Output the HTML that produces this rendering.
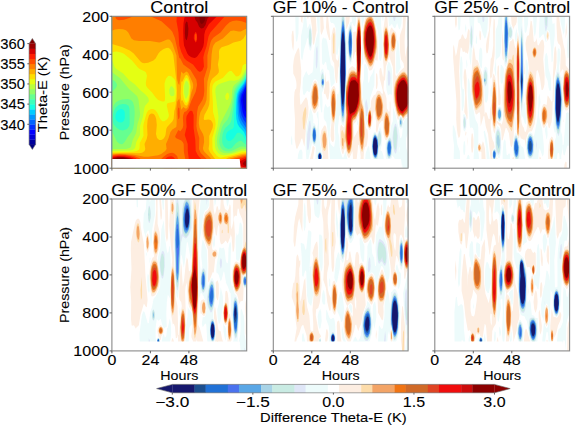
<!DOCTYPE html>
<html><head><meta charset="utf-8"><style>
html,body{margin:0;padding:0;background:#fff;width:575px;height:425px;overflow:hidden}
svg{display:block;font-family:"Liberation Sans",sans-serif}
</style></head><body>
<svg width="575" height="425" viewBox="0 0 575 425" font-family="Liberation Sans, sans-serif">
<style>text{stroke:#000;stroke-width:0.1px;paint-order:stroke}</style>
<rect x="111.9" y="16.3" width="134.8" height="151.9" fill="#000080"/>
<path fill="#00009b" d="M112.9 16.3l133.8 0 0 151.9-1 0-133.8 0 0-151.9 1 0z"/>
<path fill="#0000d6" d="M112.9 16.3l133.8 0 0 151.9-1 0-133.8 0 0-151.9 1 0z"/>
<path fill="#0000ff" d="M112.9 16.3l133.8 0 0 72.1-3.4 7.4-.7 4 1.1 7.1 1 3 2 2.8 0 51.5 0 4-134.8 0 0-151.9 1 0z"/>
<path fill="#0030ff" d="M112.9 16.3l133.8 0 0 68.5-5 10.7-.7 5.3 1.7 11.2 1.5 3.9 2.5 3.1 0 44.2 0 5-134.8 0 0-151.9 1 0z"/>
<path fill="#0064ff" d="M112.9 16.3l133.8 0 0 66.2-1.8 4.2-4.2 7.7-1 6.4 .9 10.1 1.1 4.9 2 4.1 3 4 0 38.3 0 6-134.8 0 0-151.9 1 0z"/>
<path fill="#0098ff" d="M112.9 16.3l133.8 0 0 64.2-2 4.6-5 8.6-1 4.1-.2 4 .6 10.1 .8 5 1.8 4.1 5 7.7 0 31.5 0 8-134.8 0 0-151.9 1 0z"/>
<path fill="#00ccff" d="M112.9 16.3l133.8 0 0 62.5-2 4.5-4.4 6.4-1.5 3.1-1 4-.4 6 .3 11.1 1 5.7 2 4.3 4.5 6.1 1.5 3.7 0 25.4 0 9.1-134.8 0 0-151.9 1 0z"/>
<path fill="#16ffe1" d="M112.9 16.3l133.8 0 0 60.8-3 6.2-4.7 6.4-1.7 4.1-.9 6-.4 13.1 .4 6 1.2 5.1 1.8 3 4.6 5 2.7 6.6 0 19.5 0 10.1-134.8 0 0-151.9 1 0z"/>
<path fill="#3cffba" d="M112.9 16.3l133.8 0 0 59.1-3 6.2-5.5 7.1-2 5.1-1.8 19.1-.6 14.1-1.2 1.7-3 1.5-2.2 1.8-1.1 2-.5 3 .5 2 1.3 1.6 1 .3 2-.2 3-2.2 3-4.9 1-.8 2.1-.1 3 2 3.1 6.3 .9 1.6 0 25.6-134.8 0 0-151.9 1 0zM118.5 109.9l-1.6 1.5-1.2 2.5-.4 3 .3 2 1.3 2.1 2 1.2 2.1 .3 1.7-.6 1.3-1.4 .8-2.6-.1-6-1.2-2-1.5-.8-2.1 .1-1.4 .7z"/>
<path fill="#66ff90" d="M112.9 16.3l133.8 0 0 57.5-3 6.1-5.8 6.8-1.8 3-1.3 5.1-1.6 14-2 12.1-1.5 3-4.1 3.8-1.5 2.3-1.4 4-.6 5 .3 4.1 1.3 3 2 2 2.9 .9 3.2-.9 3.8-4.5 3.1-2.4 2-.5 1 .4 5 4.4 0 22.7-134.8 0 0-151.9 1 0zM119.1 104.8l-3.2 2.4-2 3.7-1.1 5 0 6 1.1 2.8 3 3.3 3 2.1 3.1 .5 4-1.7 2.2-3 .5-3-.2-14.1-1-3-2.5-1.6-3-.3-3.9 .9z"/>
<path fill="#90ff66" d="M112.9 16.3l133.8 0 0 55.7-4 7.7-6 6-1.9 3-1 4.1-1.9 13-2.3 9.5-2 4.2-4 4.8-1.5 2.7-2 7-.9 7 .5 4.1 1.3 3 1.9 2 2.7 1.2 3 .2 3-.4 9.1-4.7 3 .1 3 1.2 0 20.5-23.1 0-111.7 0 0-37.3 5 10.7 3 2.4 2.1 .2 1-.4 2-2.2 2.6-4.6 4-5 1.4-2.9 1-5.2 .7-11-.4-6.1-1.3-4.5-2-2.3-3-1-6 .5-3.1 .9-3 1.8-2.5 3.6-1.5 5.4 0-19.1 4.2-4.4 .9-2-.3-2-1.3-2-1.5-1.2-2-.6 0-63.6 1 0z"/>
<path fill="#baff3c" d="M112.9 16.3l133.8 0 0 53.8-5 8.9-7.1 5.7-1.5 2-.8 3-.7 8.5-1 4.8-2 4.8-8 15.1-3.2 13.1-.5 5 .5 5.1 1.1 3 2 2.5 3.1 1.4 4 .3 4-.6 10.1-3.7 2-.2 3 .7 0 14.7 0 4-134.8 0 0-19.2 14.1 .1 3.6-1 1.3-1 1.8-7.1 3.4-7 1.4-9.1 2.2-7 .4-3-1.6-14.1-1.5-3.7-8.2-7.4-8.9-10.8-6.2-4.3-1.8-1.8 0-55.5 1 0z"/>
<path fill="#e4ff13" d="M112.9 16.3l133.8 0 0 51.5-1.5 1.8-3.5 7-3 2.8-4.1 1.3-5-.1-9.1 2.9-2.5 1.2-1.8 2-.7 2-.2 3 3.2 25.2-.9 9-2.5 10.1-.4 4 .4 7.1 .9 3 2.2 3 2.3 1.5 3.1 .6 4-.4 6-1.2 8.1-2.8 5 .1 0 15.3 0 2-134.8 0 0-17.1 18.1-.6 3-.7 2.1-1.7 1.2-6.1 3.7-7 .1-9.1 2.8-9 1.5-9.1 .7-2 3.5-4 .3-1-.7-3-2.5-3-5.6-4.9-5.1-5.5-6.3-4.7-5.5-6.1-7.5-5-1.3-2-1.5-4.5-1-1.3 0-44.5 1 0zM185.4 81.7l-1.2 4-.1 7.1 1.2 5.5 1 .1 .4-.6 1.7-3.6 .5-7.5-.5-3.5-1.1-2-1-.4-.9 .9zM170.4 86.7l-1.2 3 .3 4.1 .7 1.5 1.1 .9 2-.2 1-1.1 .2-1.1-.2-4.5-2-2.8-1-.2-.9 .4zM227.6 92.6l1.2 1.2 .2 3-.5 2-.9 1.1-1 .1-1.1-1.2-.3-3 1.4-2.6 1-.6z"/>
<path fill="#ffde00" d="M112.9 16.3l133.8 0 0 47.6-2 .2-2 1.4-1.5 7.1-1 2-1.5 1.4-2.1 .4-1-.4-4-4.9-2-.1-2 1.4-4.6 5.3-7.5 3.9-2 2.1-.9 2-.5 5 .8 12.1 .1 9.1 2.2 8 .4 4-.5 4.1-2.8 10 .2 10.1 .7 3 3.3 4.4 2 1.6 2 .7 12.1-2.7 9.1-2.7 5-.3 0 16.1-18.1 0-7-1-4.1 1-27.1 0-78.5 0 0-15.8 21.1-.6 3.9-.7 2.2-1.5 .5-1.5 .2-5 3.7-7.1-.3-9 .4-3.1 2.7-10 1.8-3.4 3-1.5 2 .1 2.1 1 2.3 2.8 2.7 6 2 2.3 2 0 3-1.9 1.4-2.4 .3-2-2.1-9.1 .2-2 1.2-.8 6.1-1.3 1-1 .7-7.9-.7-11.9-1-1.8-3-2.9-2.1-.5-1 .3-2.3 2.7-1.4 5 .6 14.1-.3 3-.6 .6-2 .2-4-1.6-2.3-2.2-3.8-5.4-4.7-4.7-1.3-2-.3-3 1.2-7-1-3.1-1-1-4.9-2.3-2-1.5-6.1-7.2-8-6.9-3-1.3-4.1-.9-3 .2-2 .9 0-36.3 1 0zM185.3 78.7l-1.3 3-.8 4-.3 7.1 1 6 1.1 3 1.3 1.1 1-1 1.1-2.6 1-5.1 .4-8.5-.8-4-1.3-3-1.4-1-1 1z"/>
<path fill="#ffae00" d="M112.9 16.3l133.8 0 0 16.8-3.2 5.3-2.8 2.3-7.2 1.8-4.9 2.6-7 2.2-2.1 2.1-.5 2.1 .1 6-1.2 7.1 1 6-.2 2-1.5 2-4.7 3.9-1.4 2.2-1 3-.5 4 0 12.1-.4 5-1.4 4-3.4 6.2-.7 3.9 .7 1.2 4.1-.6 2 .5 1 .9 1.1 2 .4 2-.4 3.1-3.4 8 0 8.1-.6 5 1.2 3 7 9.1 .6 2-.3 1-1.5 2-2.5 2-60 0-41.2 0 0-14.6 8-.7 19.2 .4 3-.6 2.5-1.6 .7-2-.8-5 2.2-5.1 .8-4-.4-9.1 .5-6 1.5-4.8 2-1.7 2 .3 1.1 .8 1 1.4 1 3 .6 6-.8 9.1 1 4 2.2 2 2 0 2-1.1 1.5-1.9 .8-2 .8-6 .8-2 5.2-5.6 1.3-2.5 .7-8 1-3.2 1.5-10.9 .2-6.1-.7-10.4-2.9-24.8-1.1-3.2-2.1-3.3-2-1.2-2 .1-3 1.4-3.1 2.2-1.7 2-2.8 5.1-2.2 2-5.3 2.2-4 .5-2-.6-1.6-1.1-6.8-8.1-3.9-3-7.8-3.4-10.1-3.1 0-27.7 1 0zM185.2 75.7l-2.9 6-1-.3-.6 12.4 .6 7.1 1-.8 2.4 4.7 1.6 1 1.2-1 1.5-4 1.2-7 .6-7.1-.8-5-1.6-5-1.1-1.5-1-.4-1.1 .9zM241.7 153.9l5-.6 0 14.9-14.1 0-4.6-1-3-1-2.8-2-.3-2 1.7-2 5-2.6 13.1-3.7z"/>
<path fill="#ff7e00" d="M112.9 16.3l133.8 0 0 12.3-6 2.9-2 .1-5.1-1.1-3 .6-7.8 7.3-7.3 4.1-2 2.7-1 3-.9 6.3-.8 14.1-3.4 13.1-.9 18.1-1.3 4-4.8 8.5-1.1 4.6-.5 6 .8 5.1 3.4 6 .9 3 .2 5-1.1 6.1 .3 2 1.3 2 5.1 5 2.2 3.1 .8 3-1.2 3-2.8 2-57.1 0-4.5-.4-5 .3-30.2 .1 0-13.6 5-.7 8.1 0 9 .9 10.1 1.9 4 .1 10.1-1.5 3-1.3 4-2.9 1.4-2-.6-5 2.6-6.1 1.8-6 1.9-2.6 4-2.5 .4-4-.3-14.1 .9-7.4 2-3 2 11.3 2-2.6 2 1.3 1 .1 1-.7 2.1-5 2-10.2 1.7-4.9 .1-3-.5-2-4.3-9.5-1.1-1.3-1-.4-3 2.3-2-2.3-2 13.6-1-1.4-1-3.7-.3-3.3-.5-21.2-4.2-12.2-2.1-3-1-.7-2-.2-6 2.7-2 .3-9.1-1.5-11 .2-5.1-.8-2.6-1.9-3.1-6-2.3-2.2-3-.9-4.1-.3-4 .6-3 1.2 0-14.5 1 0zM242.7 155l4-.5 0 13.7-10.9 0-4.2-1.1-3-.9-2-1.3-1-1.7 .6-2 1.4-1.3 3-1.5 12.1-3.4z"/>
<path fill="#ff4e00" d="M115.9 16.3l17.1 0-3 1.5-6 2-5.1 .4-2-.6-1-1-.4-1.3 0-1 .4 0zM151.1 16.3l93.7 0 1.9 2.5 0 4.3-5-1.8-5.1-.8-4 .4-3 1.4-3.5 3.1-5.6 7-7 5-2 2.6-1 2.3-3.1 13.2 0 12.1-3.5 11.1 .4 12-.5 5.1-1.4 4.1-4.3 6.9-1 5.1-.7 14 .6 4.1 2.3 8-.3 11.1 1.7 4 5.8 5.6 1.7 2.5 .5 2-.6 2-1.6 1.5-2.8 1.5-18.9 0 1-3 .1-3-2-10.1-.2-8-1-2.1-1.4-1.5-5-2.2-1.1-1.3 .1-1.1 3-5.8 2 1.1 2.4-3.2 .6-3.1-.4-7 .3-3 1.1-2.8 2-.8 2.2-2.5 2.9-8.1 4.3-9 1.4-7-.7-5-6-10-7.1-5.3-3-5.8-1-.7-4.6-20.5-2.4-5.7-2.1-2.4-8.8-8-11.1-5 .8 0zM178.3 107.4l1 .6 .4 3.9-.1 5-.6 2-.7 .4-.6-5.4 .1-4 .5-2.5zM170.2 152.9l2.1-.1 2 .7 2.8 2.6 1.3 4.1 0 5-1.3 3-9.9 0-3.2 0-3.4-2-1.5-2 0-2 1-2 3.1-3.3 4-2.8 3-1.2zM113.9 155.1l6-.5 7.1 .3 7 1.2 5.1 1.9 3.2 2.2 1.4 2 .2 1-1 2-3.8 2-4.8 1-22.4 0 0-12.5 2-.6zM244.7 155.9l2-.3 0 12.6-7.7 0-7-2-3.2-2-.3-2 1.1-1.4 3.3-1.7 11.8-3.2z"/>
<path fill="#ff1e00" d="M177.3 16.3l47.5 0-14.5 16.1-1.8 4.2-2 9.9-2.1 6.3-1.1 4.7 .7 9.1-1.6 3.7-2 1.5-1 0-1.8-1.2-4.6-6-6.4-4-2.3-2.4-3-6.1-2-6.6-.8-13.1-2-11.1 .2-4 .2-1 .4 0zM195 34.4l-.2 5 .6 1.6 1-1 .3-2.6-.3-3-1-.9-.4 .9zM190.4 110.8l1-.1 1 .5 1.2 3.7 0 13.1 1.7 12 .4 11.1 2 4 5.4 6.1 .6 2-.9 2-1.1 1-3.1 2-1.2 0-8.8 0 .6-6-1.4-11.1-.1-7-3-9.1 1.9-8-.4-8.1 .4-3 2.8-4.3 1-.8zM113.9 156l5-.6 6.1 .2 6 1 4.4 1.5 3 2.1 1.3 2 .1 1-.9 2-3.9 2-5.8 1-17.3-.3 0-11.2 2-.7zM168.2 156.8l3.1-.6 2 .8 1.7 2.1 .7 2.1 .1 3-.6 2-1.9 1.5-2 .5-5.1-1-1.5-1-1.3-2-.1-2 .9-2 1.9-2.1 2.1-1.3zM245.7 157.1l1-.3 0 11.4-3.8 0-8.3-2.6-2.6-1.4-.4-.8 .2-1.2 .8-.7 2.8-1.3 10.3-3.1z"/>
<path fill="#d60000" d="M185.3 16.3l31.7 0-8.2 8-3.5 6.1-1 4-.3 8.1-.7 4-1.9 4.1-4 5.7-1.4 1.2-1.6 .4-3-.7-2.6-1.7-1.5-1.9-3.3-8.1-.5-5.1-.3-10 .3-7.1 .8-5 .6-2 .4 0zM195.1 32.4l-1.2 3-.1 3 1.6 4.1 1-.8 .7-2.3-.1-5-.6-1.7-1-.7-.3 .4zM113.9 157l4-.7 6.1 .1 6 1.1 4 1.6 2.3 2.1 .7 2-.2 1-2.4 2-2.4 .8-10.2 1.2-5.9-.2-4-.8 0-9.3 2-.9zM246.7 158.1l0 9.6-3-.5-4-1.6-2.5-1.4-.5-1 .8-1 9.2-4.1zM169.2 159.9l2.1-.1 1 .8 .7 1.6-.1 2-.5 1-2.2 .8-2.4-.8-1-2 .7-2 1.7-1.3z"/>
<path fill="#9b0000" d="M194.4 16.3l15.3 0-2.2 2.1-2 6.5-2.1 3-2 .6-1-.5-1.4-1.6-1.6-3.8-2-2.6-1-3.7zM186.3 21.4l1.2 .9 .9 6.1-.3 6-1.1 5-.7 .9-1-2-.4-4.9 .3-9.1 1.1-2.9zM117.9 157.1l5.1 0 5 .9 3.1 1.1 2.7 2.1 .8 2-1.2 2-1.9 1-3.9 1-9.7 .5-3.9-.5-2.1-.8 0-7.3 2-1.2 4-.8zM246.7 159.7l0 6.9-2-.9-1.8-1.5-.1-1 1.7-2 2.2-1.5z"/>
<path fill="#800000" d="M199.4 16.3l6.1 0-.6 4-1 2-1.5 1.5-1 .3-1-1-.8-2.8-.2-4zM116.9 158.1l4.1-.2 4 .4 4 1.3 2.3 1.6 .9 2-.3 1-1.9 1.4-4 1.1-4.3 .5-4.8-.2-3-.6-2-1.2 0-4.5 2-1.7 3-.9zM246.7 162.1l0 2.4-.4-1.3 .4-1.1z"/>
<path fill="#fff" d="M111.9 158.9L239.7 158.9L240.7 168.2L111.9 168.2Z"/>
<path fill="#fdeee2" d="M301.3 16.3l1.6 0-.6 6.9-1-1.5-.3-1.4-.2-4 .5 0zM307.2 16.3l1.7 0-.7 2.8-1-.9 0-1.9zM311.2 16.3l4.5 0 .8 14-2.2 13-1.1 1.9-.5-2.9-.7-15-1.6-10 0-1 .8 0zM320.2 16.3l2.9 0 .8 12-1.7 5-1 1.8-.7-3.8-.3-15zM327.2 16.3l.8 0 2.3 22-.1 1.6-1 .2-2.1-6.8-1.1-6 .5-11 .7 0zM346.2 16.3l3.7 0-.7 6-2 5.5-1 1.8-.8-13.3 .8 0zM358.2 16.3l2 0 .8 9 0 52 1 18.9 2.1 12 1.1 15.6 1 4.7 1 .5 .4 1.2 .5 6-1.1 8-.8 2.8-1-.6-1 3.6-.6 7.2 .6 11-4.4 0 .9-12-1.5-11.5-1 .2-1.4 13.3-.6 2.8-1.5 3.2-.4 4-1.2 0-.2-11-.3-5-.4-1.3-.6 2.3-1.9 4-.5 .8-1-.5-1.4-3.3-1.6-7-2 7-1-.6-1.8-8.4-.5-15 .5-4 .8-1.8 2 2.7 1 .3 .7-3.2 .6-9-.2-16 .9-17.3 2.3-11.6 .9-2 2.8-2.4 2 1.3 2 2.4 0-17.4-1-.3-2 7.4-.2-1 .1-24 .2-2 1.9-1 1 .9 1.3-15.9 .7 0zM358 116.2l-1.8 5.2-2 2.2-.6 1.6 .7 12 3.9-7.4 .6-10.6-.3-3-.3-.5-.2 .5zM366.2 16.3l7 0 2.3 8 1.9 11 .6 12-.3 12-.6 2.1-1-2-1 1.3-2 6.6-.9 2-1 .9-2 .3-2-5.5-2.6-4.7-.8-4-1.2-14-.2-9 2.2-13 1.2-4 .4 0zM385.1 16.3l2.2 0 .8 12 1 5.3 2-5.8 1 0 .8 1.5 3.1 3 .6 4 0 4-1.7 13 .4 21 .8 2.2 4-5.2 4-4-.6-4-2.4-3.7-.4-2.3-.6-5-.4-14 .5-4 2.5-7 .3-11 2.9 0-1.3 25 .5 16.3 1.6-9.3 .4-1.4 1-1.2 0 70.9-2 .2-3 4.2-.6-2.8-1.4-2.3-1.1 .3-1.9 4.1-1-2.5-3.6-15.6-.5-8 .2-22.9-.6-5-2.1-6-1.4-4.1-.5 3.1-2.7 7-.8 13.1-1.1 1.9-.4 6 .1 3 1.4 2.6 1.4 5.3 .3 10 2.3 4 .6-2 0-8 .4-1.5 .4 2.5 .1 20-1 12-2.5 4.6-1 .8-1.1-1.4-1.5-5-.5-12-.1-1-.8-.6-3.1 3.6-1.9 9.3-1.3-3.3 .5-8-2.1-11.2-.8 2.2-1.4 12-.8 1.2-.3 1.8-.5 1-1.2 .7-1.7-3.7 .4-13 1.3-4.3 1.5-1.7 .3-6 1.2-3.1 2-3.4 .9 .3 2-4.2 2-.1 1 .6 2 2.8 .9-.9-.3-2.9-3-12-.4-7 .7-3 1.1-.4 2 9.6 .4-2.2 .2-6-.6-8-.1-29 2.1-16zM334.2 26.9l1 2.5 .5 4.9 .1 24 1.4 2.4 1-.6 1-7.6 0 12.5-1 3.3-.4 7-.6 7.5-1 .4-1-5.3-1-14.6-2-3.5-.7-5.5-.1-18 1.6-8 1.2-1.4zM292.3 31l1-.5 .7 6.8-.1 7-.6 6.6-1-3.6-.7-7 0-5 .7-4.3zM298.3 47.4l1 2.4 2 21.5-.3 11-1.3 11.9 .6 10.5 1-.4 4-6.4 1-.7 1.3 3 .9 7-.2 7-2.3 13-1.3 17-.4 2.6-.9-3.6-1.1-4.6-1 .1-1 3.5-3 6.5-1-.1-1.6-9.4 .3-20-.9-14 0-7 .4-6 .8-2.8 1-.8 .2-3.3-.2-3.4-1-4.2-2-4-.2-7.4 .6-6 1.1-5 3.5-7.9zM348.2 58.8l0 6.7 0-6.7zM352.2 60.1l.3 1.2-.3 1.4 0-2.6zM325.2 71.4l1 10.6 1-.6 1-1.4 1 3.3 .3 8-.9 6.9-.4 1.4-1-.2-2-6-1 .8-.4-1 .4-4.3 .8-2.6 .2-14.9zM376.1 73.2l1 .6 .5 3.5 .1 7-.6 4-1 .9-.2-1.9 .2-14.1zM314.2 80.9l1-.3 1 .4 1.5 3.3 1.1 6 .4 8.9-.5 7-2.5 5.4-1 1.4-.9 .2-1.1-.9-1.5-4.1-1-5-.3-5 .2-5 1-4.9 1.3-5 1.3-2.4zM333.2 86.2l1-.4 1.3 2.5 .8 12.9-.6 14-1.7 12 .3 12-1.1 3-1-.5-1-1.5-.6-4 .1-6 .8-8-1.2-23 .4-7.9 1.1-3 1.4-2.1zM324.2 125.5l1 .1 1 1.7 1.3 8.9 1.2 32-6.5 0-2.2 0 .2-3.1 2-4.9 .7-5-2.2-12-.3-7 1-6 2.8-4.7zM313.2 146l1.3 1.2 .2 1-1.5 9.1-.2 10.9-1.8 0-1.5 0 .2-9 2-8 .5-4 .3-1 .5-.2zM305.3 160.4l.2 7.8-1.2 0 0-4 1-3.8zM373.2 161.5l1 2.7 0 4-1.9 0 .9-6.7z"/>
<path fill="#fdeee2" d="M321.2 16.3l.8 0 .1 4-.2 4-.7 3.2-.3-11.2 .3 0zM347.2 16.3l0 2.5-.4-2.5 .4 0zM358.2 17.1l1.1-.8 .3 1 1.3 11-.2 50 .9 17.9 2.3 13 1.3 20.8 1.1 5.2 .2 3-.3 2.6-1-2.9-1.8 13.3-1.2 4.4-1-2.2-2.7-15.2 .7-23.2-1-.7-2 5.4-3 3.2-.2 2.3-.4 20-1.2 6-2.2 4.7-1-.3-1-2.2-2-8.9-2 7.3-1-.7-1.4-6.9-.3-12 .7-5 1 .4 2 2.4 1-3.8 .6-11-.4-13 .6-14.9 .2-3.5 2-9.4 1-3 2-2.5 1-.3 2 .5 2 2 .1-.8 0-36 1.9-17.2zM366.2 17.2l.7-.9 5.6 0 1.9 5 2.3 12 .8 10-.3 9-4.5 14-1.5 1.9-1 .2-1-.4-4.1-8.7-1.1-5-1.1-13-.1-7 1.2-9 2.2-8.1zM386.1 21l2.5 12.3 .5 6 .7-1 1.3-6.7 2-.8 1 .4 1.3 2.1 .4 2 .2 7-.5 6-1 3-1.2 2-.4 5-.8 1.3-.7-1.3-1.3-5.7-1-1-.6 5.7-1.2 4-1.2 2-1-.4-.3-.6-1.1-5-.2-23 1-7 1.6-6.3zM314.2 21.3l1 7-1 7.4-.2-.4-.8-2.5 0-4.5 1-7zM334.2 29.4l1.2 5.9-.2 15-.7 7-.3 .9-.9-.9-1-6-.2-10 .8-9 .3-1.6 1-1.3zM402.1 38.9l.8 4.4 .2 5-.7 4-.3 .6-.5-.6-.5-1-.3-8 .3-4 1-.4zM354.2 39.4l.7 .9 .1 1-1.8 5 0-3.6 1-3.3zM408.1 50.6l-.1 18.7-.9-4-.3-5 .3-5.9 1-3.8zM336.2 64.2l.8 6.1-.8 7-.8-9 .8-4.1zM297.3 66.2l1-.8 1 .2 .6 3.7 .2 6-.8 7.9-1-1.5-1.5-11.4-.1-3 .6-1.1zM404.1 70.1l1 .4 3 3.2 0 41.3-2 .8-3 3.9-2-4.2-1 .2-1 2.1-1 0-1.4-3.6-1.9-8-1.2-9 .2-11.9 .5-4 1-2 4.8-6.7 2-1.7 2-.8zM314.2 82.1l1-.4 1 .5 1 2 1.2 6.1 .4 4.9-.4 9-1.2 3.8-2 3.2-1 .4-1.5-2.4-1.1-4-.7-6 .8-8.9 1.1-5 1.4-3.2zM333.2 87.6l1-.1 1 2.8 .8 11.9-.7 14-1.1 6.7-1 2.6-1-2.6-.5-3.7-1.1-18 .7-9 .8-2.9 1.1-1.7zM378.1 92.4l1-.1 1 .7 1.4 2.2 2.3 7 .2 3-.5 9-2 5-2.4 3-1 .9-1.2-1.9-1.3-5-1.1-9 .1-6 .9-4 1.2-3 1.4-1.8zM305.3 101.7l1 .2 .5 2.3 .7 9-1.8 11-1.5 14-.9-2.9-1.6-8.1-.5-9 .8-8 3.3-8.5zM370.2 109.2l1.6 4 .1 8-1.2 6-.5 1.2-1 .4-1.4-3.6-.2-8 1-6 .6-1.6 1-.4zM386.1 109.7l2.8 4.5 .8 3 .3 4-.6 13-2.3 4.9-1 .1-1.4-3-1.1-9 .2-11 .9-5 1.4-1.5zM297.3 122.6l1 8.6-1 7.7-.7-5.7 .7-10.6zM324.2 128.8l1 .1 1.3 3.3 .8 7 .1 6-1.1 8 .3 5-.3 10-3.6 0 .5-7 1.3-6-2.5-8-.9-9 .6-5 1.3-3 1.2-1.4zM332.2 129.7l.9 4.5-.9 2.4-.5-3.4 .5-3.5zM355.2 140.9l1 .3 .5 5-.5 8-1 2.5-1-2-.3-4.5 .3-5.2 1-4.1zM311.2 163.6l.5 4.6-.5 0 0-4.6z"/>
<path fill="#fddcaa" d="M368.2 16.6l3.4-.3 1.6 2.5 2.3 9.5 1.3 11 .2 7-.4 5-3.3 12-1.7 3-1.4 .6-1-.5-3.9-8.1-1-4-.8-8-.3-10 .6-8 2.1-9 2.3-2.7zM359.2 17.8l1.3 8.5 .4 6 0 25-.5 21 .8 17.9 .5 5 1.5 5.3 .9 6.7 .7 23-1.6 13-1 3.1-1-1.8-1.5-8.3-.8-8 .6-17-.3-5.2-1 1-2.6 6.2-2.4 2-.5 3 .1 11-1.2 13-1.2 4-1.2 2.1-1-.3-1-2.2-2-10.5-1 1.9-1 6.3-1-.8-1-6.5-.1-9 .3-2 .8-1.4 1.3 2.4 .7 2.9 1-5.1 1-14.8-.7-12 .4-12.9 .3-4.6 1.8-8.4 1.2-4.1 2-2.7 1-.3 2 .2 2 1.9 .3-1 0-37 1.4-14 .3-1.3 1-1.2zM386.1 26.3l1.3 3 1.2 6 .5 10-.6 10-1.3 5-1.1 1.7-1.3-1.7-.9-5-.4-11 .4-10 1.1-6 1.1-2zM393.1 31.8l1 .3 1.1 2.2 .7 6-.8 7.9-1 2.5-1 .8-1 0-1-.9-.4-8.3 .7-8 1.7-2.5zM334.2 32.3l.5 4-.3 15-.2 2.4-1-.4-.4-14 .4-5.3 1-1.7zM408.1 56.8l0 6.3 0-6.3zM402.1 72.1l2-.6 1 .5 3 4 0 37.8-2 1.1-3 3.7-1.9-3.4-1.1 .1-1 1.6-1-.6-1.2-3.1-2.4-11-.6-10.9 .5-6 1-4 3.7-6.4 3-2.8zM315.2 82.7l1 .6 1.2 3 1.1 10.9-.8 8-2.5 4.6-1 .4-1-1.1-.7-1.9-.8-4-.3-5 .2-5 1.2-5.9 1.4-4 1-.6zM333.2 89l1 .1 1 3.5 .6 10.6-.6 11.8-1 6-1 1.8-1-2.9-.5-3.7-.8-14 .7-9 .6-2.6 1-1.6zM378.1 93.7l1-.1 1 .7 1.2 1.9 1.4 5 .6 5-.9 9-1.2 3-2.1 2.7-1 .5-1.2-2.2-1.2-5-.7-7 .6-8 1.4-4 1.1-1.5zM305.3 106.7l.9 2.5 .1 4-2 17.1-1-1.5-.3-1.6-.5-9 .8-5.6 2-5.9zM369.2 110.2l1.2 0 1.2 6 0 5-1.4 6.4-1 .5-.5-.9-1-5 .2-7 1.3-5zM386.1 111.5l1 .8 1.5 2.9 1.1 7-.5 11-.8 3-1.3 2.1-1-.3-1.2-2.8-1-8 .6-11 .6-3.1 1-1.6zM324.2 130.7l1 .3 1 2.6 .7 7.6-.7 7.3-1 1.9-1 .5-1-1.4-.6-2.3-.8-8 .6-5 .8-2.4 1-1.1zM324.2 163l.8 2.2 .2 3-1 0-.4 0 .4-5.2z"/>
<path fill="#f3a466" d="M369.2 16.9l1-.4 1 .3 1.6 2.5 1.1 3 1.8 9 .9 10-.1 6-.7 5-2.6 9.9-1 2.3-1 .9-1 .3-1-.6-4-8.8-1.1-6-.6-8 .1-10 1.3-8 1.3-4.3 1-1.5 2-1.6zM359.2 19.4l1.3 8.9 .3 7 0 26-.7 18 .9 19.9 .5 4 1.7 5.2 .6 4.8 .7 21-1.3 12.3-1 3.4-1-1.7-1.3-7-.6-7 .2-23-.3-1.3-4 8.8-2 1.3-.7 2.2-.1 16-1.3 10-.9 3.1-1 1.6-1-.2-1-2.4-1.9-13.1 1.2-22-.8-11 .2-10 .3-6.5 3.2-13.4 1.8-2.6 3-.1 2 1.7 .6-2-.2-35 1.3-14 .3-1.7 1-1.2zM386.1 27.9l1 1.8 1.1 5.6 .7 10-.5 9-1.2 5-1.1 1.6-1-1.2-.7-3.4-.7-12 .8-12 .6-2.9 1-1.5zM393.1 32.7l1 .3 1 2.2 .5 5.1-.5 6.6-1 2.8-.9 .6-1.5-2-.5-6 .5-7 1.4-2.6zM402.1 73.1l2-.5 1 .6 3 4.4 0 35.1-3 2.4-2 2.6-1-1.5-1-1.3-1 0-1 1.2-1-1.1-1-2.4-2.2-10.4-.6-9 .3-5.9 1.2-5 3-6 3.3-3.2zM315.2 83.8l1 .6 1.1 2.9 .9 10.9-1 6.8-1.7 3.2-1.3 .7-1-1.2-1-3.5-.4-8 1.4-9.2 1-2.6 1-.6zM333.2 90.4l1 .3 .9 3.5 .5 9-.7 12-.7 4.1-1 1.5-1.3-5.6-.7-12 .6-9 .4-2 1-1.8zM378.1 94.9l1-.2 .8 .5 1.2 2 1.7 8-.4 8-1.3 3.9-1.5 2.1-1.5 .8-1-1.5-1.6-9.3 .4-9 .9-3 1.3-2.3zM369.2 110.7l1-.1 .3 .6 .9 6-.7 8-.5 1.7-.6 .3-.4 .3-.6-1.3-.8-5 .3-6 1.1-4.5zM386.1 113l1 .6 1.3 2.6 1.1 7-.4 9-.7 3-1.2 2-1.1-.4-1-2.4-.8-7.2 .4-10 .4-2.2 1-2zM324.2 132.5l1 .5 .5 1.2 .7 5-.2 5.5-1 3-.6 .5-.4 .3-1-1.8-.6-7.5 .3-4 1.3-2.7zM342.2 137.9l1 .6 .1 .7-.1 7.3-1-1.3 0-7.3z"/>
<path fill="#f3a466" d="M369.2 17.8l1-.4 1 .4 1 1.2 1.4 3.3 1.8 9 .8 10 0 5-.7 5-2.3 9.6-1 2.4-1 1-1 .3-1-.7-3.6-7.6-1.1-5-.8-9 .1-9 1.2-8 1.7-5 2.5-2.5zM359.2 20.7l1.2 8.6 .4 9-.1 23-.7 18 .7 22.9 .2 2 1.9 5 .6 3 .8 11 0 10-.8 9-1.1 5-.1 .5-1-1.5-.4-2-1.3-11 .6-21-.2-3-.4-1-.3-.1-3 8.1-2 2.3-1.2 .7-.8 3-.1 15-1.1 10-1.8 4.4-1-.2-1-2.6-1.6-12.6 1.1-21-.8-12 .3-12.9 2.4-12 1.6-4.3 1-1.1 2-.4 2 .7 1 1.1 .9-2-.5-34 1.4-15 .2-1.3 1-1.3zM386.1 29.2l1 1.7 .7 3.4 .9 11-.8 10-.8 3.2-1 1.4-1-1.4-.6-3.2-.7-11 .8-11 .5-2.6 1-1.5zM393.1 33.6l1 .2 .6 1.5 .7 5-.5 6-.8 2.4-.9 .6-1.4-3-.3-5 .4-5 1.2-2.7zM402.1 74l2-.4 1 .7 3 4.6 0 32.7-3 2.7-2 2.5-1-1-1-1.3-1 0-1 .7-2-3.8-1.7-8.2-.8-10 .6-6.9 1.4-5 2.5-4.6 3-2.7zM315.2 84.8l1 .7 1 3.1 .7 9.6-1 6-1.7 3.1-1 .3-1-1.3-.5-2.1-.6-7 1.1-8.5 1-3.1 1-.8zM333.2 91.9l1 .6 .2 .7 .9 8-.1 9-.9 7-.5 1-.6 .9-1-3.6-.7-10.3 .4-9 .3-2.2 1-2.1zM378.1 96.1l1-.4 1.4 1.5 1.1 3 .8 5-.5 8-.8 2.5-1.5 2.5-1.5 .5-1-1.7-1.2-7.8 .2-7.6 .9-3.4 1.1-2.1zM370.2 111.2l.8 4 .1 5-.6 5-.3 1.1-1 .6-1.2-4.7 0-5 1.2-5.9 1-.1zM386.1 114.3l1 .5 1 2 1.1 6.4-.4 9-.7 2.9-.9 1.1-1.1-.5-.5-1.5-1-6 .2-9 1.3-4.9zM324.2 134.7l1 .7 .3 1.8-.3 6.7-1-.3-.4-3.4-.2-3 .6-2.5z"/>
<path fill="#f07414" d="M369.2 18.8l1-.4 1 .4 2.3 4.5 1.6 8 .8 10-.3 7-2.1 10-1.3 3.8-1 1.2-1 .2-1-.6-1-1.8-2.8-6.8-1-6-.5-8 .2-7 1.1-7.4 1.6-4.6 2.4-2.5zM359.2 22l1.2 9.3 .3 11-.1 20-.7 16 .5 13.9-.4 11-.3 2-3.5 10-1 1.6-2 1.2-1 2-.4 4.2 .1 12-.7 8-1 4.4-1 1.8-1-.3-.7-1.9-1.5-12 1-22-.9-11 .1-10.9 2.5-13 1.5-4.2 1-1.2 1-.4 2 .1 2 1.6 1-1.1-.5-34.8 1.3-15 .2-1 1-1.3zM386.1 30.3l1 1.7 .7 3.3 .7 10-.6 9-.8 3.3-1 1.3-1-1.5-.4-2.1-.7-11 .7-10 .4-2.4 1-1.6zM393.1 34.5l1 .3 .2 .5 .9 5-.7 6-.4 1.4-.9 .6-1.1-2.1-.4-4.9 .3-4 1.1-2.8zM402.1 74.8l2-.2 1 .6 3 4.9 0 30.5-5 5.4-1.1-.8-.9-1-2 0-2-4-1.5-8-.6-9 .5-5.9 1.6-6 2-3.8 3-2.7zM315.2 86l1 .8 1 3.8 .3 7.6-.3 3-1 3.1-1 1.5-.9 .4-1.3-3-.4-6 1-7.9 .6-2.4 1-.9zM333.2 93.7l1 .9 .1 .6 .7 9-.7 11-1.1 2.2-1-4.2-.4-9 .4-8 1-2.5zM379.1 96.8l1 .9 1 2.5 1 7-.9 7-2.1 3.3-1-.1-1-2.1-.9-9.1 .9-6.9 1-2 1-.5zM361.2 108.3l1 .8 1 3.3 .7 11.8-.3 13-1.4 8.4-1-1.4-.4-2-1.1-11 .4-13 1.1-9.9zM369.2 111.8l1 0 .1 .4 .7 6-.5 6-.3 1.5-1 .6-.9-3.1-.2-4 1.1-7.4zM386.1 115.8l1 .3 1 2.1 .9 6-.5 8-.4 1.6-1 1.4-1-.8-.4-1.2-.8-5 .1-8 1.1-4.4z"/>
<path fill="#d06a28" d="M369.2 19.7l1-.4 1 .5 2 3.5 1.5 7 .9 10-.3 7-1.9 10-1.2 3.8-1 1.1-1 .3-1-.7-1-1.7-2.6-6.8-.9-5-.6-8 .2-7 .9-6 1.7-5 2.3-2.6zM359.2 23.1l1.1 9.2 .4 12-.2 18-.8 16 .4 13.9-.3 9-1.2 6-2.4 7-1 1.7-2.1 1.3-1.1 2-.4 4 0 15-1.4 9-1 2-1-.3-1-3.1-.9-10.6 1-21-1.1-11.9 .1-8.1 2.3-12.9 1.6-5.1 1-1.3 1-.4 2 0 2 1.5 1-.1-.4-35.6 1.3-15 1.1-2.2zM386.1 31.3l1 1.8 .4 2.2 .8 9-.4 8-1.2 5-.6 .7-1-1.7-.9-10 .5-11 .4-2.2 1-1.8zM393.1 35.5l1.2 .8 .5 5-.6 5-1.1 .9-1-2.9-.1-3 .1-2.8 1-3zM401.1 76.3l2-1 2 .8 3 5.1 0 28.4-5 5.7-1-.3-1-1.2-2-.5-1-1.5-1.6-5.6-1.1-9 .1-6.9 1-6 1.6-4.4 3-3.6zM315.2 87.3l1 .9 .3 1.1 .7 7.7-1 5.3-1.4 1.9-.6 .3-.8-2.3-.3-4 1-8.9 1.1-2zM333.2 96.5l1 1.5 .4 9.2-.4 6.6-1 1.7-1-5.4-.2-5.9 .2-5 1-2.7zM379.1 98l1 1 1 3 .6 5.2-.6 5.4-1 2.6-1 1.1-1-.3-1-2.9-.4-6.9 .5-5 .9-2.5 1-.7zM362.2 111l1 4.2 .4 13-.4 9.7-1.1 5.3-.9-1.1-1-6.3-.3-7.6 .3-8.6 .8-7.4 .2-.9 1-.3zM369.2 112.4l1 .1 .6 3.7-.1 6-.7 3-.8 .5-.2-.5-.8-5 1-7.8zM386.1 117.4l1 .3 1 2.3 .5 4.2-.3 7-1.2 2.8-1-1.1-1-5.6 0-4.6 1-5.3z"/>
<path fill="#d06a28" d="M370.2 20.2l1 .5 1 1.4 1.5 4.2 1.1 7 .5 8-.5 7-1.6 8.9-1 2.8-1 1.3-1 .3-1-.8-1-1.8-2.5-6.7-.9-5-.5-8 .5-8 1.4-6.3 2-3.5 2-1.3zM359.2 24.2l1.1 9.1 .3 12-.2 17-.8 16 .3 14.9-.3 7-1.1 6-2.3 7.1-1 1.7-2.9 2.2-.7 2-.3 4 .1 14-1.2 8.6-1 2.1-1-.4-1-3.3-.7-13 1.1-18-1.1-12 .2-7 2-11.9 1.5-5.1 1-1.3 2-.5 2 .5 2 1.4 .3-6-.6-17 0-13 1.2-15 1.1-2.1zM386.1 32.3l1.2 3 .8 9-.4 8-1 4-.6 .8-1-2-.7-8.8 .4-10 .3-2 1-2zM393.1 36.8l1 1.5-.5 7-.5 .6-.6-3.6 .6-5.5zM403.1 76.1l2 .9 3 5.4 0 26.2-5 5.9-1.2-.3-2.8-1.8-1.8-4.2-1.4-8-.3-7 .8-6.9 1.5-5 2.2-3.3 3-1.9zM315.2 89.3l1 1.3 0 6.1-1.3-4.5 .3-2.9zM379.1 99.5l1 1.1 1.1 5.6-.2 4-.9 3.3-.6 .7-.4 .5-1-.8-.3-2.7 0-9 .3-1.6 1-1.1zM333.2 105.7l.8 3.5-.8 3.5 0-7zM369.2 113.1l1 0 .3 2.1 .2 5-.5 4.2-1 .7-.6-2.9-.1-4 .7-5.1zM361.2 114.2l1-.9 1 7 0 12-1 8.4-1-1-1.1-8.5 .1-7.9 1-9.1zM386.1 120.2l1 .8 1.1 2.2-.1 7-.9 2-1.1-2 0-10z"/>
<path fill="#e04424" d="M370.2 21.2l1 .5 1 1.4 1.4 4.2 1 6 .4 8-.5 7-1.3 7.6-1 3-1 1.4-1 .3-.5-.3-1.5-2.3-2.4-6.7-.8-5-.4-8 .5-7 1.1-4.9 2-3.9 2-1.3zM359.2 25.3l1 9 .3 12-.2 16-.9 16 0 20.9-.9 6-2.3 7.2-2 2.7-2 1.2-.7 1.9-.5 4 .3 11-.6 8-.5 2.9-1 2.4-1-.4-.5-1.9-.9-9 .2-10 .9-11-1.1-13 .1-6 1.9-11.9 1.4-5.1 1-1.4 1-.4 2-.1 1 .4 2 1.8 .2-1.2 .3-6-.7-17 0-12 1.1-15 1.1-2zM386.1 33.3l1.2 3 .6 9-.6 8-1.2 2.8-1.1-2.8-.4-9 .4-8 1.1-3zM402.1 77.2l2-.2 1 .8 3 5.7 0 24.1-5 6.2-1 .2-2.5-1.8-2-4-1.2-6-.5-8 .4-5.9 1.2-5 1.6-3.3 3-2.8zM380.1 104l0 3.2 0-3.2zM369.2 113.8l1 .1 .3 3.3-.3 6-.7 1-.4 0-.4-3 .5-7.4zM361.2 117.3l.6 .9 .4 2 0 16.2-1 .3-.6-6.5 .6-12.9z"/>
<path fill="#f00c0c" d="M370.2 22.1l1 .6 1 1.5 1.1 3.1 1 6 .4 8-.4 6-1.3 8-.8 2.5-1 1.5-1 .4-.5-.4-1.5-2.4-2.2-6.6-.9-5-.3-7 .4-5.5 1-5 2-4.3 2-1.4zM359.2 26.3l1 10 .3 12-1.2 30-.2 20.9-.9 6-2 6.3-2 2.8-2 1.1-1.4 3.8 .2 14-.8 9-1 2.7-1-.5-.9-5.2-.2-13 1.2-11-1.2-14 .4-8 1.7-10.6 1.7-4.3 1.3-1 2-.1 1 .4 2 2.1 .3-1.4 .3-6-.7-29 1.1-15.5 1-1.5zM386.1 34.3l1.1 3 .4 8-.5 7.9-1 1.8-1-2.6-.4-8.1 .4-7.4 1-2.6zM402.1 77.9l2-.1 1 .9 3 5.9 0 22-1 1.9-4.3 4.7-.7 .3-1.8-1.3-2.2-3.4-1.3-5.6-.6-7 .3-6.9 1-5 1.6-3.5 3-2.9zM369.2 115l1-.2 .1 1.4-.1 6-.6 1-.4 .3-.2-1.3 .2-7.2z"/>
<path fill="#f00c0c" d="M370.2 23.1l1 .6 .9 1.6 1.1 2.9 1 5.9 .3 7.2-.6 7-1.3 7-1.4 3-1 .4-.6-.4-1.4-2.5-2-6.3-1-6.2-.1-5 .4-5 1-5 1.7-3.7 1-1.1 1-.4zM359.2 27.3l1 9.9 .2 12.1-.2 11.8-1.3 19.2 0 18.9-.8 5-1.9 6.3-2 2.9-2 1-1.5 2.8-.5 4 .4 9-.4 9.1-1 3.6-1-.8-.3-1.9-.4-12 1.3-12-1.4-15 .3-7 1.5-10.2 1-3.6 1-1.6 3-.7 1 .3 2 2.4 .5-1.5 .3-6-.9-29 1.1-15.4 1-1.6zM386.1 35.6l1 3 .3 6.7-.3 6.2-1 2.3-1-3.3-.2-6.2 .2-5.6 1-3.1zM402.1 78.7l2-.1 1 .9 3 6.3 0 19.7-1 2.1-4 4.7-1 .6-1-.7-3-4.5-1.1-4.5-.6-7 .4-6.9 1.1-5 1.2-2.6 3-3zM370.2 116.2l0 5.2-.6-1.2 .6-4z"/>
<path fill="#cc0c0c" d="M370.2 24.2l1 .7 1 1.7 1 3.2 1 10.5-.5 7-1 6-1.5 4-1 .4-1-.9-.8-1.5-1.6-5-1-5-.4-6 .4-6 1.2-5 1.2-2.5 1-1.3 1-.3zM359.2 28.4l1 10.9 .1 12-1.1 23.3-.9 1.7 .6 16.9-.4 7-1.3 6.5-2 4.7-1 1.2-2.7 1.6-1.3 2.3-1-2.3-1.5-16 .8-7.9 1.2-7 1.5-3.5 1-.5 3 0 2 2.7 .8-1.7-.8-35 1-15.4 1-1.5zM386.1 37.1l.9 7.2-.1 4-.6 3-.2 .6-.1-.6-.9-4.6 0-3.4 1-6.2zM403.1 79.2l1 .2 1 1 3 6.7 0 17.2-1.4 2.9-3.6 4.4-1 .5-2-1.7-2-3.8-1.2-6.4-.2-7 .4-4.6 1-4.1 2.9-4.2 2.1-1.1zM349.2 121.7l1 7.5-1 7.3-1-4-.2-5.3 .2-3.2 1-2.3z"/>
<path fill="#8b0000" d="M369.2 25.7l1-.3 1 .7 1 1.9 1 3.6 .6 6.7-.1 6-.9 7-1.1 4-.5 .9-1 .5-1.2-1.4-1.8-5.5-1-4.7-.4-4.8 .6-8 1.2-4 1.6-2.6zM359.2 29.4l.8 9.9 .3 9-1.1 24.1-1-1.3-.9-22.8 .7-16 .2-1.3 1-1.6zM353.2 80.2l2 .1 3 3.6 .4 11.3-.5 6-1.9 7.3-2 3.2-2 1-2 1.3-.6-1.8-1.4-9-.2-5 .9-8.9 1.3-6.6 1-1.8 2-.7zM403.1 80l1 .3 1 1 2 4 1 3.3 0 14.3-1.3 3.3-3.7 4.6-1 .6-1-.5-1-1.4-2-4.1-1-5.6-.2-6.6 1.4-7.9 2.8-4.3 2-1z"/>
<path fill="#8b0000" d="M369.2 27.1l1-.3 1 .8 1 2.1 1.2 7.6-.4 11-.8 4.4-1.5 2.6-.5 .3-1-1.1-1-2.8-1.9-10.4 0-4 .7-5 1.2-3.7 1-1.5zM359.2 30.5l1 17.8-1 22.3-1-1.7-.8-20.6 .8-16 1-1.8zM354.2 81.1l1 .2 1 .9 1.5 3.1 .7 9.9-1.2 9-2 5.2-2 2.2-2 .6-1-.3-1.6-7.7-.3-6 .7-7.9 1.2-6.3 1-2 3-.9zM402.1 81.1l2 .1 1 1 2 4.3 1 3.9-.2 11.8-.8 2.5-4 5.3-1 .5-1-.4-2.2-3.9-1.1-4-.6-6 .2-4.9 .7-4.4 1.2-2.6 2.8-3.2z"/>
<path fill="#edfbfb" d="M295.3 16.3l3.4 0-.2 17-1.2 7.1-1 1.5-.6-3.6-.4-22zM304.3 16.3l1.9 0 1 11.6 1-.8 1-2.5 1-.7 1.6 6.4 .2 14-.6 5-1.2 1.8-.8-1.8-.7-3-.5-6.7-1-1.8-.9 4.5-2.4 8-1.6 10.1-1-1.8-.3-2.3 0-20 2.3-12 .4-8 .6 0zM317.2 16.3l2.5 0-.2 43 .6 15 .6-3 1.5-2.8 1 .7 1.5 9.1 0 5-.8 5-2 4.9 .7 8-.4 11-1 .3-1-7.3-1.3-16.9-1.5-7-1.2-1.7-1-.4-1 .1-1 1.2-2.5 7.8-.5 2.6-1 1.5-2-1.8-2.9 4.6-1.1-1-.7-5.9 .4-10 3.4-7.3 1.9 4.2 1-.2 1.8-1.7 1.2-.5 .5-1.5 .5-4 .7-15 2.1-13 1.9-7-1.1-15-.1-1 .5 0zM330.2 16.3l14.7 0 1.3 21.5 2-7.3 .5-4.2 1.5-4 1.1 0 .6-1-.2-5 4.4 0-.2 6-.7 3.4-1 .8-2-3.7-.1 .5 .6 11 .1 13-1.2 15-1.4 3-1.5-5-.5-6.5-1-.1-.2 1.6-.2 7 .4 9-1 8.5-.8 14.4-.8 29-.4 2.1-1 .2-1.2-1.3-1.5-4-.3-6.3-1 2.9-1.1 9.4 0 6 1.1 4.5 .5 10.5 1 5 1.5 4.8 1 .9 1.3-3.7 .7-3.8 2.5 9.8 .5 4 .3 4-1.3 0-15 0-.4-3-1.9-7-1-16-2-17-.7-3.1-1.6-1.9-.9-3 .1-7 1.4-6.4 2 3.5 1 .1 1-1.6 1 1.5 .5 12.9-.9 11-.1 10 1.1 3 2.4 2.5 1 0 1.2-7.5-.6-13 1.2-11 1-20 .2-1.8 1 1.4 .7-3.5 .6-33-.3-14.9-1.6 10.9-.4 1.2-1-1.4 0-16.8-.5-9-1.5-4.4-2-1.1-1 .1-1-1.6-.4-5 .4 0zM340.2 17.3l0 7 0-7zM362.2 16.3l2.7 0-2.5 11-.2 1.6-.3-1.6-.7-10 0-1 1 0zM374.2 16.3l6.9 0 .1 11 1.2 12 .2 8-.4 8-1.2 5-.9 1-1-2.7-.7-23.3-.7-5-1.6-4.7-2.3-9.3 .4 0zM383.1 16.3l.6 0-.6 5.1-.6-1.1-.2-4 .8 0zM389.1 16.3l12.8 0-.4 7-1.4 5.1-1 .8-1.2-3.9-.8-2.3-1.5 4.3-.5 .7-1 .1-2-3.9-1 0-1 1.7-1 .1-.9-9.7 .9 0zM408.1 20.5l0 19.7-1-.9-.5-3 0-6 .5-7.7 1-2.1zM323.2 37.3l1 .9 2 .4 1 3.7 3.6 22 .5 1 1.9 1.4 .6 2.6 1 13-.2 1-3.4 3.8-.3-.8-1.7-16-1 0-1-1.1-1-6.9-1-.4-1 2.3-1 1-1.1-1.9-.4-20 .5-3.9 1-2.1zM398.1 39.5l1 6.3 1 17.8 .8 3.7-3.1 6-.7 .8-.9-.8-.1-.8 .1-19.2 .9-12 1-1.8zM362.2 41.8l1.3 19.5-.5 2-1.4 3-.4 3 .3-19 .7-8.5zM356.2 60.7l0 6.6-.5-2 .5-4.6zM389.1 61.9l1 1.7 1.6 4.7 .7 8-.3 18.3-1 .1-1-.8-.5 .3-1.5 1.1-.5-1.1-1-3.9-.4-4 .7-19 1.2-5 1-.4zM365.2 63.9l1 .8 1.5 4.6 .5 13.6 1-.8 1-5.1 2.3-3.7 1.7-5.4 .3 1.4-.1 16-4.4 12.9-.3 9-1 2-1 4-.5 11.6-1-.2-1-5.2-1.1-14.2-1.7-10 .2-10.9 1.2-5 .5-14 .2-1 .7-.4zM393.1 107l2 6.2 3.4 14 1.6 10.6 1 .3 1-3 .6-6.9-.6-.8-1 1.5-1.2-.7-.5-1-.7-5 1-5 .4-.7 1-.3 .6 1 .9 2 .5 4.2 1.9-4.2 1.1-1.2 1 0 1 1.1 0 13.5-2 5.7-.2 3.9 .4 6 1.8 5.8 0 5.2 0 9-5.5 0-.5-4.6-.1 4.6-6.5 0-.4-8.2-1-2.4-2-2.4-.2 3-.8 .3-2.6 3.7-.4 5.8-1-2.5-1.5-9.3-.2-12 1.1-3 3.5-6 1.1-9.5 1.8-4.5 .2-14.2zM399.1 146.2l-.3 5 .4 1 .4-4-.5-2zM310.2 108l1 1.5 1.6 5.7 .6 5-.2 3 1-.1 1.5 2.1 .5 3.3 1 .2 .8-5.5-.2-4-1.3-5 .7-2.1 1.1-.9 1.5 30 2.4 13-.5 6-1.5 1.7-1.9 .3-.8 2-.4 4-2.9 0 .1-3 1.2-8 .4-10-.7-1.6-1 .4-1.5-1.8-.5-2.3-3.6 16.3-.5 10-1.2 0-1.2-20 .3-14 .7-7 3.5-19.2zM358.2 117.6l0 7.3-1-.2-.2-2.5 1.2-4.6zM380.1 126.5l1.6 5.7 .3 5-.3 8-1.3 5 1.7 1.2 1.4 4.8 .8 12-9 0 0-1-.3-5-2.4-5-.4-3.5-.7-1.5 0-11 1-6 1.4-3 1.2-.7 2 3.2 3-8.2zM291.3 135.2l1 3.7 0 6.4-1-.9-.4-2.2 .4-7zM368.2 146.1l1 .7 .2 1.4 1.2 10 .2 6-.1 4-2.5 0-2.7 0-.2-10 .4-5 2.5-7.1zM300.3 149.7l1-.1 .5 .6 .7 2-.2 16-3 0-2.2 0 .1-6 1-8 1.1-3.4 1-1.1zM359.2 151.6l0 6.4-.4-2.8 .4-3.6zM351.2 158.4l.6 9.8-.6 0-.9 0 .9-9.8zM392.1 159.5l.4 8.7-.4 0 0-8.7z"/>
<path fill="#edfbfb" d="M318.2 16.3l.5 0-.5 3.9 0-3.9zM336.2 16.3l0 2.8-.7-2.8 .7 0zM342.2 16.3l2.4 0 1.7 32 .3 25-1.4 22-.3 19.9-.7 8-1 .9-1-.9-1.1-4-1.5-22 .1-57.9 1.2-19 .4-4 .9 0zM362.2 16.3l1.7 0-.7 5.2-1-1.6 0-3.6zM375.1 16.3l1.9 0-.1 5-.8 1.4-1.6-6.4 .6 0zM389.1 16.3l7.6 0-.4 4-1.2 4.1-1 .3-2-5-1-.4-1 1.9-.9-2.9-.1-2zM399.1 16.3l1.8 0-.8 7.1-1 .3-.6-3.4-.4-4 1 0zM305.3 19.3l.3 15-.3 2.6-1 2.7-1 1.3-.1-6.6 1.1-11.7 1-3.3zM350.2 23.9l1 .7 .6 2.7 .8 15-.8 16-.6 3.5-1 1.8-1.4-5.3-1.5-15 1.3-14 1.6-5.4zM310.2 25.7l1.3 4.6 .4 9-.4 7-1.3 3.1-1.4-5.1-.4-9 .4-7 1.4-2.6zM338.2 27.3l.3 7-1.3 15.4-.3-5.4 .3-15 .1-1 .9-1zM317.2 40.2l1 1.7 .4 4.4-.2 26-.2 4.7-2 .3-1-.1-.6-.9-.3-7 .9-19 1-7.9 1-2.2zM381.1 40.2l.5 9.1-.5 4.2-1 1.2-.4-5.4 .2-6 .2-2.5 1-.6zM323.2 43l1.8 2.3 .8 3-.2 4-1.4 5.5-1 .8-.4-3.3-.1-7 .5-5.3zM398.1 46.3l.7 9 .3 13-1 3-1 .4-.1-19.4 .1-2.8 1-3.2zM362.2 49.1l0 6.2 0-6.2zM389.1 66.1l1 1.6 1 3.7 .5 8.9-.5 7.3-2 2.7-1-.2-.5-1.8-.6-8 .5-11 .6-2.9 1-.3zM366.2 67.8l.5 3.5-.1 16 2.3 18.9-1.3 6-.4 7.9-1 .7-1-5.8-1.7-19.8 .7-.4 .5-1.6 .9-5.9 .1-15 .5-4.5zM322.2 70.5l1 .6 .3 1.2 .8 6-.2 7-1.1 4-.8 .9-1.4-1.9-.4-3 .3-10 1.5-4.8zM332.2 71.2l1 .5 .9 7.6-.6 3-1 1-.3 .2-.6-1.2-.3-4 .1-4 .8-3.1zM304.3 84.2l.8 1.1-.8 2.1 0-3.2zM319.2 83.7l0 2 0-2zM371.2 83.3l0 3.3 0-3.3zM363.2 92.9l.3 1.3-.3 .7 0-2zM337.2 102l1 4.2 .2 6-1.2 11.5-.8 3.5-.2 .9-.3-1.9-.1-3 1.4-21.2zM329.2 115l0 9.8-1 1.8-.3-9.4 .3-1.7 1-.5zM310.2 115.9l1.3 3.3 .4 9 .3 .7 .4-2.7 1.6-1.9 1.3 1.9 1.4 6 .3 5.9 1-.7 1.7 13.8 1.3 1.4 .8 1.6-.1 5-1.5 2-1.2 .1-1.7-2.1-.2-4 .4-3-.7-9-.8-1.9-.6 2.9-1.4 1-1-1.1-1-3.8-.6-1.1-.4-4.6-1.1 12.6-1.9 7-1 1.1-.9-9.1 .4-13 1.5-10.7 1-4.6 1-2zM400.1 116.9l1-.2 1.5 3.5 .2 4-1.1 3-.6 .8-1-.6-.7-2.2-.1-5 .8-3.3zM406.1 119.6l.8 .6 .3 2-.2 3-.9 2.8-1-.9-.7-3.9 .7-2.4 1-1.2zM395.1 120.4l1 1 1.7 6.8 .8 7-.1 7-1.9 15-.5 .7-1-1.6-2-6.2-1 .9-.2 3.2-.4 2-1.4 2.8-1 .9-1.2-.7-1.5-5-.1-10 .3-2 2.5-4.8 1-.8 1.1 .6 1.5-9 1.4-5.6 1-2.2zM379.1 130l1-.4 .7 1.6 .9 7-.8 7-.8 2.4-1 1.1-.2 1.5 .2 9 1 1.9 1-2.4 1 1.4 .6 8.1-5.6 0-1 0-.5-7-1.6-2-1.5-4-.8-6 0-5 .8-7 1.5-4 1.1-.8 2 3.1 2-5.5zM404.1 142.7l1.2 13.5 1.8 5.7 1 .3 0 6-2 0-2.2 0-1.1-18 .3-5.7 1-1.8zM336.2 144.5l1-.3 .7 17 .3 3 1.3 4-5.8 0-.1-1-.6-7-1.8-4.1-.1-4.9 .1-.8 1 .2 1 2.4 1 .2 2-8.7zM367.2 154.4l1 1 .1 1.8-.1 11-1.4 0-.3-9 .7-4.8zM400.1 156.6l.8 3.6 .2 8-3 0-1.9 0 .3-7 .6-2.1 1-.3 2-2.2zM344.2 162.5l1 .7 .5 5-.5 0-1.9 0 .9-5.7z"/>
<path fill="#dfe6f7" d="M342.2 16.3l2 0 1.8 31 .1 30-1.6 40.9-.3 2.8-1 1.8-1-.9-.5-1.7-.9-7-1.2-33.9 .9-47 1.1-15 .1-1 .5 0zM375.1 16.3l1 .2-1-.2zM393.1 16.3l2.6 0-.6 4.3-1 .7-1-3 0-2zM350.2 25.1l1 1.1 .4 2.1 .8 14-.7 15-.5 3.1-1 1.8-1.4-5.9-1-13 .9-13 1.5-5.2zM310.2 27.1l1.1 4.2 .3 7-.2 6-1.2 3.6-1-3.6-.5-8 .3-6 1.2-3.2zM317.2 45.8l.6 5.5-.1 8-.5 7.1-1 2.7-.4-4.8 .1-11 .3-5.1 1-2.4zM389.1 70.1l1.1 3.2 .3 5-.3 5-1.1 2.9-1-1.1-.4-6.8 .4-7.3 1-.9zM322.2 71.9l1.1 1.4 .8 8-.2 4-.7 2.2-1 1.3-1.2-3.5-.3-4 .3-5 1.2-4.4zM366.2 98.9l1 3.6 .8 5.7-.8 7.7-1 .4-1.1-11.1 .1-2.2 1-4.1zM401.1 117.1l1 2.2 .5 2.9-.2 2-1.3 3.2-1.2-1.2-.5-4 .4-4 .3-.8 1-.3zM310.2 120.6l.7 5.6-.7 11.3-1.3 9.7-.7 2.7-1-.5-.3-6.2 .3-9 2-12.6 1-1zM395.1 123.4l1 .8 1 4 .8 9-1.1 13-.7 3-1 .2-1-2.4-1.3-6.8-.3-7 1.1-9 1.5-4.8zM314.2 125.1l1.6 3.1 .9 8-.9 6-.6 1.5-1 .9-1.4-2.4-1.1-8 1.1-7 1.4-2.1zM380.1 131.1l1.1 5.1 0 5-.8 4-1.3 1.9-.5 2.1-1.5 13.1 0-1.1-2.9-2.5-1.6-4.5-.6-6 .8-11 1.4-3.5 .9-.6 2 3.1 .8-1 1.2-4 1-.1zM389.1 138l1-.4 1.5 2.6 .5 6-.5 8-1 3-1.5 1.8-1.1-.8-1.2-4-.4-6 .3-5 2.4-5.2zM319.2 151.8l1 0 1.6 2.4 .2 1-.3 4-1.5 1.9-1-.1-1.6-2.8 .1-4 1.5-2.4zM399.1 161.4l1 .9 .4 5.9-2.4 0-1.1 0 .1-2.3 .8-2.7 1.2-1.8zM336.2 166.1l0 2.1 0-2.1z"/>
<path fill="#c9ebe3" d="M342.2 16.3l1.5 0 .5 2.7 1.7 30.3 .1 28-1.6 37.9-.4 4-.8 2.3-1-1-.3-1.3-1-8-1.2-33.9 .8-41 1.7-20zM350.2 26.2l1 1.3 .3 1.8 .7 12-.4 13-.6 4.9-.6 1.1-.4 .8-1.2-4.8-.8-12 .5-12 1.5-6.1zM310.2 28.6l1 4.9 .2 4.8-.2 4.5-1 3.7-1-3.8-.3-6.4 .3-5.4 1-2.3zM322.2 73.4l1 1.2 .8 6.7-.3 4-.5 1.2-1 .8-.8-2-.3-5 .1-2.9 1-4zM389.1 77.4l0 1.3 0-1.3zM400.1 117.9l1-.3 1 2.6 .2 3-.9 3-.3 .5-1-.8-.4-1.7-.2-3 .6-3.3zM314.2 125.7l1.4 2.5 .6 7-.4 6-.6 1.8-1 1-1.4-2.8-.6-6 .6-7 1.4-2.5zM395.1 126l1.1 1.2 1 8-1 13-1 2-1.1-3-.9-9 .5-7 1.4-5.2zM309.2 127l.4 2.2-.4 4 0-6.2zM379.1 132.5l1 0 .7 3.7 .1 4-.6 4-1.2 1.5-.7 2.5-.6 7-.9 3-.8 1.1-1 0-1.4-2.1-.9-3-.5-5 .5-11 1.4-3.9 .9-.7 2 3.2 1 .1 1-4.4zM389.1 138.6l1-.1 1.2 2.7 .6 6-.6 7-1.1 3-1.1 1-1-.7-.7-2.3-.8-7 .5-5 2-4.6zM308.2 140l0 2.5 0-2.5zM319.2 152.3l1 0 1.4 1.9 .2 1-.3 4-1.3 1.7-1-.1-.5-.6-1.1-3 .1-2 1.5-2.9zM399.1 167.7l0 .5 0-.5z"/>
<path fill="#c9ebe3" d="M343.2 16.3l1.1 6 1.2 20 .4 32-1.7 40.3-1 5.5-.9-.9-1.5-14-.9-31.9 .9-39 1.2-15 1.2-3zM350.2 27.2l1 1.5 .4 2.6 .5 12-.7 13-1.2 3.7-1.4-6.7-.4-11 .5-10 1.3-5.1zM310.2 30.2l.9 8.1-1 6-.9-4.8 0-3.2 0-2.5 1-3.6zM322.2 75.8l1.6 4.5 0 4-.6 1.7-1 .1-.7-1.8-.1-4 .8-4.5zM400.1 118.5l1-.2 .9 2.9-.5 4-.4 1-1-1-.2-1-.2-3 .4-2.7zM314.2 126.3l1.4 2.9 .5 6-.5 6-1.4 2.3-1.2-2.3-.6-6 .4-6 .4-1.6 1-1.3zM395.1 129l1 1.6 .2 2.6-1.2 12.1-1-3.3-.2-4.8 .2-3.9 1-4.3zM375.1 134.1l1 1.1 2 4 .6-1 .4-3.9 1-.2 .2 1.1 0 7-1.2 1.8-.9 3.2-.3 5-.6 4-1.2 2.4-1 .2-.9-1.2-1.4-4.4-.5-6 .3-7 1.3-5 1.2-1.1zM389.1 139.1l1 .1 .9 2 .7 6-.7 7-.9 2.4-1 .9-1-.8-.5-1.5-.8-7 .8-6 1.5-3.1zM319.2 152.6l1-.1 1.5 2.7 0 3-1.5 2.5-1.3-.5-1.1-3 .1-2 1.3-2.6z"/>
<path fill="#a8d3e6" d="M343.2 18.1l1 6.2 1.2 19 .4 30-1.6 37.9-.7 6-.3 1.4-.3-.4-.7-.7-.2-1.3-1.1-11-.8-31.9 .7-37 1.4-15.9 1-2.3zM350.2 28.2l1.2 3.1 .5 11-.5 13-1.2 3.7-1.2-5.7-.5-11 .4-9 1.3-5.1zM310.2 33.1l0 5.6 0-5.6zM322.2 78.8l1-.2 .5 1.7 0 3-.5 2.3-1 0-.5-1.3-.1-4 .6-1.5zM400.1 119.2l1 .1 .5 1.9 .1 2-.6 2.3-1-1.3 0-5zM314.2 126.9l1.2 2.3 .6 6-.4 5-.4 1.4-1 1.3-1.3-2.7-.4-5 .5-6 1.2-2.3zM375.1 134.6l1 1 1.7 3.6 .6 4-.9 11-.9 3-.5 .8-.7 .2-1.2-1.1-.8-1.9-1-8 .5-8 1.3-3.9 .9-.7zM389.1 139.7l1 .3 .6 1.2 .8 6-.8 7-.6 1.7-1 1-1-1-.5-1.7-.6-6 .5-5 1.6-3.5zM319.2 152.8l1-.1 1.4 2.5 0 3-1.4 2.3-1.1-.3-1.1-3 .1-2 1.1-2.4z"/>
<path fill="#5aa7e6" d="M343.2 20.1l1 5.7 1.1 18.5 .4 29-1.5 35.6-1 7.9-1-1.1-1.1-10.5-.9-30.9 .7-36 1.3-15.7 1-2.5zM350.2 29.1l1.1 3.2 .5 10-.5 12-1.1 3.6-1.2-5.6-.4-10 .5-9 1.1-4.2zM323.2 79.1l.3 5.2-.3 .9-1-.2-.5-1.7 .2-3 .3-.9 1-.3zM400.1 120.3l1 .4 .1 .5-.1 3.5-1-1.3 0-3.1zM314.2 127.5l1.2 2.7 .4 5-.4 5-1.2 2.2-1.1-2.2-.4-5 .3-5 1.2-2.7zM375.1 135l1 1.1 1.4 3.1 .5 4-.7 11-1.2 3.3-1 .3-.9-1.1-1.1-3.5-.6-7 .6-7 1.1-3.4 .9-.8zM389.1 140.4l1.2 .8 1 6-.6 6-.6 2-1 1-1.2-2-.7-6 .6-5 1.3-2.8zM319.2 153l1-.1 1.3 2.3 0 3-1.3 2.1-1-.1-1.1-3 .4-3 .7-1.2z"/>
<path fill="#5aa7e6" d="M343.2 21.9l1 6 .8 13.4 .6 32-1.4 32.5-1 9.1-1-1.1-1-10.3-.9-29.2 .7-35 1.2-14.6 1-2.8zM350.2 30.1l1 2.3 .4 9.9-.3 11-1.1 3.6-1-4.8-.4-9.8 .3-8 1.1-4.2zM322.2 80l1-.4 .2 .7-.2 4.4-1.1-.4-.2-2 .3-2.3zM401.1 123.1l0 .2 0-.2zM314.2 128.1l1.1 2.1 .4 5-.5 5-1 1.6-1-1.9-.4-4.7 .4-5 1-2.1zM375.1 135.4l1 1.1 1.4 3.7 .4 4-.6 9-1.2 3.8-1 .4-.9-1.2-1-3-.6-7 .6-7 1-3 .9-.8zM389.1 141l1 .5 .3 .7 .7 6-.9 6-1.1 1.3-1.2-2.3-.4-5 .5-5 1.1-2.2zM320.2 153.1l1.3 3.1-.2 2-1.1 1.9-1-.1-.5-.8-.5-3 1-2.9 1-.2z"/>
<path fill="#4a72ee" d="M343.2 23.8l1 6.2 .7 11.3 .6 32-1.3 29.3-1 10.3-1-1-1-11.2-.8-27.4 .7-33 1.1-13.6 1-2.9zM350.2 31.1l1 2.7 .3 8.5-.3 10.4-1 3-1-5.2-.3-8.2 .3-6.9 1-4.3zM323.2 80.1l.2 3.2-.4 1-.8-.4-.2-1.6 .2-1.6 1-.6zM314.2 128.7l1 2.2 .3 4.3-.3 4.1-1 1.8-1-2.1-.2-3.8 .2-4.4 1-2.1zM375.1 135.8l1.6 2.4 .8 3 .3 3-.6 9-1.1 3.3-1 .5-.9-1.2-.8-2.6-.7-7 .7-7 .8-2.5 .9-.9zM389.1 141.8l1 .5 .7 4.9-.6 6-1.1 1.5-1-1.5-.4-5 .4-4.6 1-1.8zM319.2 153.5l1-.2 1.1 1.9 .1 2-.6 2-.6 .7-1-.1-.7-1.6 0-3 .7-1.7z"/>
<path fill="#2171d6" d="M343.2 25.7l1 6.4 .6 10.2 .6 31-1.2 26.4-1 11.2-1-1-.8-9.7-.9-26.9 .7-32 1-12.6 1-3zM350.2 32.3l1 3.3 .2 6.7-.2 8.5-1 3.7-1-6-.2-6.2 .2-5.2 1-4.8zM323.2 81l0 2.5-.7-.2-.3-1.5 1-.8zM314.2 129.4l1 2.6 .2 3.2-.2 3-1 2.1-1-2.7-.1-3.4 .1-2.2 1-2.6zM374.2 137.1l.9-.9 1 1.2 1.5 5.8-.4 9-1.3 4-.8 .4-.9-1.3-1.3-6.1 .1-7 1.2-5.1zM389.1 142.7l1 .7 .4 3.8-.4 5.1-1 1.5-1-1.8-.2-3.8 .2-3.3 1-2.2zM319.2 153.7l1-.2 .9 1.7 .2 2-.7 2-.4 .5-1-.1-.6-1.4 0-3 .6-1.5z"/>
<path fill="#2171d6" d="M343.2 27.5l1 6.7 .5 8.1 .5 30-1 24.9-1 11.7-1-1-.6-7.7-1-26.9 .6-30.5 1-12.1 1-3.2zM350.2 33.6l1 4.6 0 4.1 0 5.1-1 5.4-1.1-10.5 1.1-8.7zM314.2 130.3l1 3.9 0 1.8-.9 2.2-.7-4 .6-3.9zM375.1 136.6l1.5 2.6 .9 6-.6 8-.8 2.4-1 .6-.9-1.3-.5-1.7-.8-7 .8-7 .5-1.6 .9-1zM389.1 144.3l1 1.1 .1 1.8-.1 2.2-.9 2.8-1-4 .9-3.9zM319.2 153.9l1-.2 .8 1.5 .2 2-.7 2-.3 .4-1-.2-.5-1.2-.1-2 .6-2.3z"/>
<path fill="#1c4f8f" d="M343.2 29.4l1 7 .4 6.9 .5 31-.9 20.6-1 11.9-.6-.6-.4-.5-1-13.6-.5-20.8 .5-26 1-12.7 1-3.2zM350.2 35.5l.4 4.8-.4 7.3-.3-6.3 .3-5.8zM375.1 137l1 1.3 .7 1.9 .6 6-.7 7-.6 1.9-1 .6-1.3-2.5-.8-7 .8-7 .4-1.1 .9-1.1zM319.2 154.1l1-.2 .9 2.3-.9 3.2-1-.2-.4-1-.1-2 .5-2.1z"/>
<path fill="#17186e" d="M343.2 31.3l1.3 13 .5 30-.8 18.5-1 11.9-.4-.5-.6-.7-1-14.4-.4-17.8 .6-26 .8-10.7 1-3.3zM375.1 137.5l1.5 2.7 .7 6-.7 7-.5 1.4-1 .7-.9-1.4-.5-1.7-.6-6 .9-7 1.1-1.7zM320.2 154.1l.7 2.1-.7 3-1-.3-.4-2.7 .4-1.9 1-.2z"/>
<path fill="#17186e" d="M343.2 33.3l1.2 11 .5 29-.7 17.5-1.1 11.4-.9-1.1-.2-2.9-1.1-25.9 .6-27 .7-8.8 1-3.2zM375.1 137.9l1.3 2.3 .7 5-.1 5-.9 4-1 .7-.9-1.4-.9-5.3 .4-7 .5-2.2 .9-1.1zM319.2 154.6l1-.3 .4 .9-.4 3.7-1-.2-.1-.5 .1-3.6z"/>
<path fill="#fff" d="M273.3 158.9L401.1 158.9L402.1 168.2L273.3 168.2Z"/>
<path fill="#fdeee2" d="M454.8 16.3l2.2 0-.2 7.9-.9 4.1-.8-4-.3-8zM489.7 16.3l1.7 0-.1 4-1.3 9-1.4 19-.9 4.6-.6 .4-.4 .3-.6-2.3-.2-5 .8-5.8 2.6-11.2 .1-13 .3 0zM511.7 16.3l5.3 0-.3 5.7-1 3-1 .8-.5 1.5-.5 2.9-.3-1.9-.7-.7-1.1-3.3-.6-8 .7 0zM522.7 16.3l.3 0 0 4-.3 4.1 0-8.1zM556.6 16.3l2.5 0 .9 8 3.6 21 1.1 4 .9 8.1 .1 7.9 3 4 .9 2 0 35.6-.5 1.3-1.5 2-2 .3-1-1.9-.5-2.4-1.2-12-.1-10.9 .8-13-1-1-1 1-1 2.7-.4-4.7 .7-19-.8-4-2-2-.9-3-.7-15 .1-9zM493.7 18.2l1 1.5 .2 3.6-.2 31-2.5 22-1.2 2-.3 .6-.6-1.6-.2-4 .8-14.2 1.1-1.8 1.5-12-.2-16 .6-11.1zM530.7 20.5l1 .8 .8 5 1.2 14.9 1 1 1.4-1.9 .5-2.3 1 7 1 .4 2-4.2 1-1.2 1-.4 1 1.4 .7 5.3-1.1 13 1.4 16-.1 9-.9 3.7-1 2.1-1 0-1.5-10.8-1.4-6-1.1-3.4-1 1-.8 8.4 1.2 11 0 5.9-1.5 22-.9 6-2.7 7-2.2 .3-1 .7-1.5 3-1.3 5-.2 7.3-1-8.1-1 .4-3-1.6-1-4-.3 3-.7 1.5-1.3-2.5-.8-5-.1-15-.8-7.1-1.8 17.1-.2 10.1-1 7.9-1 3-1-1.2-.4-1.8-1.4-11-2.2-5-1-.5-3 12.4-1 .3-.5-10.2-1.1-4-.9-1-2-2-.3-2 .8-.2 1 1.6 2.1 .6 .9 1.6 1.2-4.6 .2-6-.6-16 .4-8.9 2-19 1.8-4.3 1.3-6.7 .7-11.5 1-6 2.3-1.5 .7-2 .8 1 1.2 6.6 1 2.6 1-3.3 1-13.3 1.3 6.4 .6 10 .2 59.9 1.9 15 1 3 1 1.3 1 4 1 .6 1-3.1 .3-4.8-1.8-29 1-9.9 2.7-17-1-10-2-9-.4-6 1.2-6.2 1-1.6 1 0 .4-1.2 1.6-13.8zM515.6 68.3l.1 12-.1-12zM566.6 22.1l.2 10.2-1.2 6.8 0-9.2 1-7.8zM468.7 28.4l1 2.5 0 10.5-1 8.7-.9 4.1-1-1.8-1 .9-1-1.7-2 .4-1-3.8-1-.9-.8 6-.9 18 1.1 24.9 .3 35-.5 5-1.2 2.1-1-3.1-.9-6-.7-10 .3-17-3.4-44.9 0-10 .7-2.7 2 11.6 1-3.5 2-12.5 2-1.7 1-3.5 1-.8 1.7 4.1 1.3 .9 1-2 1-6.2 .9-2.6zM479.7 30.2l1 1.5 .5 4.6-.5 3.8-.9 .2-.6-5 .5-5.1zM502.7 29.9l1 18.5 0 12.3-1-1.4-.7-6 0-13 .7-10.4zM547.6 30.7l1.4 2.6 .2 3-.2 2-1.4 2.6-1.1-2.6-.2-2 .3-3 1-2.6zM473.7 44l2 15.4 2 1.1 4.7 13.8 1.1 13 1.2 27.2 1-2.8 1 1.2 2 6.3 1-.1 .4-9.9 1.6-6.6 .7-24.3 .8-4 .5-.9 1.5 3.9 1.1 7 .8 15.9-.5 24-1.9 9.6-1.2-2.6-1.5-8-.3-4.3-.9 2.3-.1 5 1 10.3 1 3.8 1 1.7 1 5.2-1.6 2-.8 2-.2 6 1.2 3 1.4 .7 1.7-2.7 .3-2 1.5 4 .3 2 0 6-7.4 0-.4-7.9-2.6-26.1-2.4-8-1.4-10-.6-.5-3 10.8-.5-12.3-.5-1.9-1 .2-2 1.9-1-.3-1.5-4.9-2.7-15-.5-7.9 1.8-36 .8-3 .1-3.3zM555.6 46l.9 6.3 0 10-.6 6-2 11-.3 22.2-.9 .7-.3 12-.8 7.9-2 6.2-1-.7-1-5.3-3 5.1-1 .6-1-1.8-1.4-6-.4-4 .2-5 1.2-5 1.4-2.1 1-.2 2 1.1 1-9.4 1 .9 3 5.2 .9-.5 .5-14.9-.1-11 1.1-21 .6-6.6 1-1.7zM523.7 59.3l1 9.2 0 7.3-.2-1.5-.8-.9 0-14.1zM497.7 65.9l1-.6 .3 2 .2 17 1.4 11.9-.1 8-.8 1.1-1.2-.1-.2-1-.2-16.9-.9-14 .5-7.4zM464.8 68.6l1 1.2 .9 8.5-.2 14.9 1.1 19-.1 6-.8 2-.4-4-2-4 0-1 .9-16-1.6-17.9 .3-5 .9-3.7zM563.6 118.7l0 3.7-.5-1.2 .5-2.5zM465.8 131.3l.6 .9 0 1-.6 2.9-.6-1.9 .6-2.9zM471.7 133.4l1 0 .8 5.8 0 7-.8 6.3-1 0-.6-5.3 0-8 .6-5.8zM467.8 136.6l0 9.6-.4-5 .4-4.6zM551.6 136.4l1 .8 .8 2 .6 10-.9 10-1.9 9-.6 0-1.6 0-1-7-.1-8 .8-9 1.1-5 1.8-2.8zM482.7 141.2l1 1.7 1.2 5.3 1.3 20-4.5 0-.1-3-.2-13-.7-.6-1 .6-1-.4-.8-1.6-.4-3 1.2-3.7 1-.3 1.6 1 .4 1.7 1-4.7zM513.7 157l1.7 5.2 .3 6-2 0-2.3 0 .8-9 .5-1.8 1-.4zM539.6 156.5l1 1 2 8.1 2-4.1 1 .6 .7 3.1 .1 3-7.6 0 .8-11.7zM527.7 159.1l1 1.1 1 .3 2-.2 .5 .9 .2 7-.7 0-4.8 0 0-8 .3-1 .5-.1zM565.6 161.5l1 .7 .3 6-1.3 0-1.5 0 .4-4 1.1-2.7zM464.8 163.3l.4 4.9-.4 0-.8 0 .8-4.9z"/>
<path fill="#fdeee2" d="M558.6 24.3l1 3.6 .9 7.4-.1 3-.8 1.6-1-.5-.7-5.1 .1-7 .6-3zM547.6 31.4l1.2 3.9-.4 3-.8 1.7-1-3.7 .1-2 .9-2.9zM517.7 35.6l1 3 .4 3.7 .5 17 0 67.9-.3 8-.4 2-.2 .4-.2-.4-.8-.8-.8-4.2-.2-24.2-1-9.8 .5-20.9-.5-21 2-20.7zM467.8 41.2l0 3.8 0-3.8zM541.6 44l.7 1.3 .3 3-.6 16 1.2 12-.6 4.3-.2-2.3-.7-5-2.1-1.8-1.5-8.2 1.4-14 1.1-4.3 1-1zM534.7 46.2l1.3 1.1 1.2 5-.2 2-1.4 5 .4 5-1.3 14 .7 16.9-.4 16-.7 8-1 4-2.1 6-.5 .8-1.2 .2-.8-.5-.5-1.5-1.2-9-1.1-15 0-12 1.2-9.9 2.5-13-.6-19 1.7-2.2 2 0 .1-.8 1.9-1.1zM510.7 47l1 .5 1-1.1 1 1.2 1.4 5.7 .5 4-.9 11 .9 23-.2 15.9-2.7 29.2-1 3.7-.6-1.9-1.4-7.3-5.3-9.7-1.2-21 .2-8 1.7-19.9 3-11 .6-8.4 1-4.9 1-1zM555.6 54.2l0 8.7-1-.4 .2-4.2 .8-4.1zM562.6 54.2l0 6.6-.3-2.5 .3-4.1zM473.7 63l2 1 1-.5 1 .1 3.7 10.7 1 5 .8 12-.3 16.9-.2 1.4-1 1-.6-1.4-1.3 0-3.1 2.7-1-.2-1.2-3.5-2.4-13-.5-12.9 .7-10 1.4-9.3zM565.6 68.6l1-.1 1 .9 2 4.6 0 30.7-1.5 3.5-1.4 1-1.1-.4-1.3-3.6-1.4-13.9 .5-14 .9-6 1.3-2.7zM456.8 70.7l1 3.8 .3 6.8 .2 6-.5 2.6-1-1.1-.4-4.5 .4-13.6zM464.8 74.8l1 1.5 0 9.6-1-1.7 0-9.4zM493.7 76.8l1 1 1.2 7.5 .7 12.9-.3 24-1.6 8.7-1-1.4-.4-2.3-1.1-7-.4-7 .7-25.9 1.2-10.5zM548.6 103.1l1 2.3 .5 3.8-.5 8.4-1 1.7-1-.4-.5 2.3-2.5 5-1 .3-1-1.9-1.2-8.4 .8-8 1.4-2.8 1-.3 2 2.3 1 .2 1-4.5zM458.8 105.4l.9 14.8-.2 5-.8 4-.9-4.8-.3-5.2 1.3-13.8zM465.8 105.6l.4 4.6-.4 3.2-.4-2.2 .4-5.6zM551.6 137.9l1 .9 .5 1.4 .6 8-.6 9-.5 2.3-1 1.8-1.7-2.1-.8-8 1-10 1.5-3.3zM490.7 139.1l2.1 8.1 0 2-.9 2 0 7 1.8 2.9 1 .4 2-2.6 .5 6.3 0 3-5.5 0-.3-10-1.4-15 .2-3 .5-1.1zM479.7 143.8l1.6 2.4 .1 2-.4 2-1.3 1.4-1-.5-.9-2.9 .4-3 .5-1 1-.4zM483.7 150.5l1 6.9 .4 10.8-.4 0-1.4 0-.3-13 .7-4.7zM513.7 160.4l1 1.8 .4 6-1.4 0-1.3 0 .3-4 1-3.8zM529.7 161.6l1-.2 .8 .8 .3 6-1.1 0-2.6 0 .6-5.9 1-.7z"/>
<path fill="#fddcaa" d="M547.6 32.1l.8 3.2-.8 4-.6-3 .6-4.2zM517.7 38.3l1 2.7 .2 2.3 .6 16-.1 63.9-.8 13-.9-.6-.6-4.4-.8-69.9 1.4-23zM534.7 47l1 .7 .6 1.6 .3 4-.9 3.7-1 1.1-1-.3-1.4-3.5-.1-2 1-4 1.5-1.3zM540.6 53.2l0 7.3 0-7.3zM513.7 54.4l1.6 35.9-.1 15.9-2.5 21.4-1 3.9-2.5-4.3-3.1-6-1.5-5-.8-13 .3-13.9 1.3-16 3.3-13.3 1-1 2 1 1-4.4 1-1.2zM475.7 66.3l1-.8 1 .1 1 2 2.8 9.7 1.1 9 .1 9.9-.5 7-.7 2-3.8 4-1 .9-1-.2-1-2.5-2.2-12.2-.5-5.9 .1-9 .9-9 .7-3.8 1-1.1 1-.1zM565.6 70.2l1-.3 1 .8 2 5.2 0 27.1-2 4.8-1 .4-1-.7-.9-2.3-1.5-12 .3-13.9 .8-6 1.3-3.1zM530.7 71.2l2.4 4.1 .7 3 1.1 19.9-.9 19-1.1 5-2.2 5.6-1 .3-1-1.6-1-4.3-1.3-13-.4-10 .4-7.9 .9-8 2.4-10.8 1-1.3zM493.7 79.5l1 .5 .7 4.3 1 13.9-.2 21-1.5 9.5-1-1.3-.4-2.2-1.3-13 .6-20 1.1-12.7zM544.6 106.2l1.1 1 1.4 3 .4 5-.5 4-.9 3-1.5 2.9-.6 .1-.4 0-1.2-3-.6-8 .8-5.7 1-2 1-.3zM551.6 138.9l1 1.1 .4 1.2 .5 7-.4 8-.5 2.1-1 1.8-1.5-2.9-.4-7 .5-8 1.4-3.3zM478.7 144.8l1-.3 1.1 1.7 .2 2-.6 2-.7 .7-1-.4-.4-1.3-.2-2 .6-2.4zM493.7 165.6l.5 2.6-.5 0-.8 0 .8-2.6zM513.7 166.1l.3 2.1-.3 0 0-2.1zM530.7 165.7l.1 2.5-1.1 0 0-1.1 1-1.4z"/>
<path fill="#f3a466" d="M547.6 33.2l0 5.2 0-5.2zM517.7 40.7l1.1 4.6 .6 16-.1 58.9-.8 14-.8 .5-.4-2.5-.4-29-.2-45.9 1-16.6zM534.7 47.7l1.3 1.6 .4 3-.4 3-1.3 2-1.3-1-.7-4 .5-3 1.5-1.6zM509.7 62.8l1 .3 2 1.9 .5 2.3 1.3 14 .6 12.9-.2 11-1.1 11-1.7 10-.4 1.3-1-.5-3-4.2-2.3-6.6-.8-5-.4-9 .2-10.9 1.2-17 2.1-8.6 1-2.4 1-.5zM477.7 67.2l1.4 3.1 2.3 9 .8 7 .1 7.9-.4 6-.8 3-4.4 5.3-1-.3-1-2.6-1.2-6.4-1.1-7.9-.1-8 .4-7 1-6.2 1-1.5 2-1.3 1-.1zM566.6 71l1.8 2.3 1.2 4.2 0 24-1.1 3.7-.9 1.5-1 .5-1-.8-1.2-4.2-1.1-13.9 1-13 1.3-3.9 1-.4zM530.7 73.8l2 3.6 1.1 4.9 .6 9 .1 11.9-.4 9-1 7-1.4 4.9-1 1.8-1 .2-1.1-1.9-1.2-7-1.1-19 .6-8.9 .9-7 1.9-7.7 1-.8zM493.7 82l1 .2 .4 2.1 1.1 13.9-.2 19-1.3 9.6-1-1.2-.2-1.4-1.3-13 .3-14 1.2-15.2zM544.6 107.1l1 1.2 1.1 2.9 .3 5-1.4 6-1 1.9-.8 .1-1.5-4-.3-6 .8-5 .8-1.7 1-.4zM551.6 139.8l1 1.2 .3 1.2 .4 7-.4 7-1.3 3-1.3-3-.4-6 .4-7 1.3-3.4zM479.7 145.1l.9 3.1-.8 2-.4 0-.7-.4-.3-2.6 .3-1.6 1-.5z"/>
<path fill="#f3a466" d="M517.7 42.9l1.1 4.4 .5 17-.2 56.9-.4 9.4-.9 2.6-.6-13-.4-55.9 .9-21.4zM534.7 48.3l1 1 .4 3-.4 3-1 1.3-1.3-1.3-.4-3 .6-3 1.1-1zM508.7 65.7l1-.3 1 .3 2 2.9 1 6.8 1 15.9 0 10.9-.9 11-1.8 10-.3 1.2-1 0-3-3.6-1.2-3.6-1.3-6-.6-7 .2-12.9 .9-15 2-9 1-1.6zM476.7 68.9l1-.1 1 1.8 1.4 4.7 1.3 7 .6 7-.2 6.9-.6 4-1.2 3-2.4 3-.9 .8-1-.3-1-2.8-1.6-9.7-.5-6.9 .1-7.2 1-7.6 1-1.9 2-1.7zM566.6 72l1 .8 1 2.1 1 4.2 0 20.9-1.2 4.2-.8 1.6-1 .4-1-.9-1.1-4.1-1-12.9 .9-12 1.2-3.7 1-.6zM530.7 75.7l2 3.8 .9 4.8 .6 8.9 .1 10-.4 8-1 7-1.6 5-.6 1.1-1 .2-1-1.9-1.1-6.4-1-18 1.3-14.9 1.8-7 1-.6zM493.7 84.7l1-.4 1.3 13.9-.1 17-1.2 9.8-1.1-1.8-1.2-12 .2-11 1.1-15.5zM544.6 108.2l1.6 3 .3 5-1 5-.9 1.8-1 .2-1-3-.3-6 1-5 .3-.7 1-.3zM551.6 140.6l1.2 2.6 .4 6-.6 7-1 2.1-1.2-3.1-.3-5 .3-6 1.2-3.6zM479.7 146l.1 3.2-.4 0-.7-1 0-1 1-1.2z"/>
<path fill="#f07414" d="M517.7 45l1 3.2 .5 17.1-.2 52.9-.3 8.6-.9 3.4-.6-23-.2-42.9 .7-19.3zM534.7 49l1 1.3 .1 2-.1 2-1 1.6-1-.9-.4-2.7 .4-2.3 1-1zM508.7 67.7l1-.2 1 .4 1 1.1 1 2.7 1.8 19.6 0 9.9-.8 9.8-2 10.5-1 .4-2-1.4-1.5-3.3-1.5-6.3-.6-7.7 .1-12.9 .7-13 1.8-8.4 1-1.2zM476.7 70.5l1-.2 2 5.4 1.3 6.6 .6 8-.1 4.9-.8 4.4-1 2.2-2.7 3.4-1.3 0-1-3.1-1.4-8.9-.4-6.9 .8-11.4 1-2.3 2-2.1zM566.6 73l1 .8 1 2.2 1 4.6 0 17.9-1 4.2-1 2.1-.8 .4-1.2-.9-1-3.6-.9-12.4 .9-11.7 1-2.9 1-.7zM529.7 77.9l1-.6 2 4.1 .8 4.9 .5 7.9-.5 18-.8 5.4-1.7 4.6-.3 .7-1 .1-1-2.1-1.1-6.7-.7-10 .4-13.9 .9-7 1.5-5.4zM494.7 86.7l1 9.5 .1 15-1.1 12-.9-1-1.1-8.8-.1-8.2 1.1-17.5 1-1zM543.6 109.6l1-.2 1 1.9 .3 1.9-.2 5-1.1 3.4-1 .4-1-3.8 0-5 1-3.6zM551.6 141.5l1 1.7 .4 6-.4 6-1 2.3-1-2.3-.4-5 .4-5.9 1-2.8z"/>
<path fill="#d06a28" d="M517.7 47.2l1 3.7 .4 14.4-.2 49.9-.2 7-.8 3-.6-16-.2-42.9 .6-19.1zM534.7 50l.4 3.3-.4 1.6-.6-.6-.4-.8 0-2.1 1-1.4zM508.7 69.6l2 .3 1.6 3.4 1.2 8 .7 10-.5 16.4-1.9 10.5-1.1 1.2-2-.9-1.2-2.3-1.3-6-.7-8 0-12.9 .7-11 1.5-7.7 1-1zM476.7 72.1l1-.2 1.2 2.4 1.8 8.7 .5 6.3-.5 7.9-1 2.8-2.2 3.2-.8 .8-1-.4-.9-3.4-1.5-12.9 .4-9.7 1-2.9 2-2.6zM566.6 74l1 .8 1 2.4 1 5.1 0 14.5-1 4.8-1 2.3-.6 .3-.4 .2-1-1.1-.8-3.1-.9-10.9 .7-11.3 1-3.3 1-.7zM530.7 78.7l1.4 2.6 1 4 .7 12.9-.7 15-1.1 5-1.3 3.3-1 .2-1.4-4.5-.9-8-.3-10 .3-7 .9-7.9 1.4-5 1-.6zM494.7 89.5l1 15.7-1 16.2-1-1.2-.9-12 .9-16.5 1-2.2zM543.6 111.1l.6 .1 .4 1-.2 7-.8 1.4-.6-4.4 .6-5.1zM551.6 142.4l1 1.9 .3 4.9-.3 4.8-1 2.6-1-2.8-.2-3.6 .2-4.5 1-3.3z"/>
<path fill="#d06a28" d="M517.7 49.4l1 4.3 .3 12.6-.2 46.9-.1 3.7-.9 3.3-.6-52.9 .5-17.9zM508.7 71.4l1-.1 1 .5 1.2 2.5 .8 4 1.2 12-.2 13.9-1 7.2-1.5 4.8-.5 .6-2-.5-1-1.9-1.1-5.2-.6-6-.2-11.9 .5-11 .9-6 .5-1.8 1-1.1zM476.7 74l1-.4 1 2.1 1.6 7.6 .5 7-.2 3.9-.9 3.6-2.9 4.4-1.1-.4-1-3.8-1.1-11.7 .1-4.7 .7-3.3 2.3-4.3zM566.6 74.9l1 .8 1 2.6 1 6.1 0 10.8-1 5.3-1.5 2.7-.5 .3-1-1.2-.5-2.1-1-9.9 .5-10.7 1-3.8 1-.9zM530.7 80l1.3 2.3 1.1 5 .4 15.9-1.1 12-1.7 5-1 .1-1-2.6-.9-6.5-.4-14 1.2-12.9 1.1-3.8 1-.5zM494.7 94l.7 14.2-.8 11-.9-.8-.6-10.2 .6-10.3 1-3.9zM551.6 143.4l1 2.7 .1 3.1-.1 3.1-1 3.3-1-5.4 1-6.8z"/>
<path fill="#e04424" d="M517.7 51.9l1 5.2 .1 8.2-.1 43.9-.6 4-.4 1.9-.2-9.9-.2-39.9 .4-13.4zM508.7 73.2l1-.1 1 .7 1 2.2 1.1 6.3 .9 9.9 0 7.1-.7 6.9-1.3 6.3-1 1.5-1 .3-1-.3-1-2.2-1.4-10.6-.2-10.9 .5-10 1.1-5.9 1-1.2zM477.7 75.9l1 2.4 1 4.9 .5 8.1-.9 4.9-2.6 4.4-1-.7-1-4.3-.5-10.3 .5-4.4 2-4.3 1-.7zM566.6 75.9l1 .8 1 2.8 1 8.1-.6 9.6-.7 3-1.1 2-.6 .4-1.2-2.4-1.1-9.9 .3-9 1-4.4 1-1zM530.7 81l1.2 2.3 1 5 .5 12.9-1.2 13-1.5 4.6-1 .1-1-2.9-.6-4.8-.5-15 1.1-11.2 1-3.4 1-.6zM494.7 101.7l.2 12.5-.2 2.6-.7-.6-.5-4 0-6 .2-3 1-1.5zM551.6 145.1l.6 4.1-.6 5.1-.4-4.1 .4-5.1z"/>
<path fill="#f00c0c" d="M517.7 54.7l1 6.9 0 6.7 0 8.4-1 7.6 0-29.6zM508.7 75l1 0 1 1 1 2.6 1.6 12.7 0 6.9-.6 7-1 4.5-1 1.8-1 .6-1-.3-.6-1.6-1.5-10 .1-16.9 1-6.8 1-1.5zM566.6 76.9l1 .9 1 3.1 .8 8.4-.8 8.7-1 3-1 .6-1-1.6-.5-2.8-.6-8.9 .6-8 .5-2.2 1-1.2zM476.7 82.2l1-.8 1 1.9 .9 6-.9 5.8-2 3.7-1.1-1.6-1-7.9 .4-4 1.7-3.1zM530.7 82l1 1.6 .8 3.7 .7 9.9-.5 12-1 5.7-1 2.5-1 .1-1-3.5-.9-15.8 .9-11.9 1-3.7 1-.6zM517.7 96.7l.4 5.5-.4 5.1 0-10.6zM493.7 110.2l0 .3 0-.3z"/>
<path fill="#f00c0c" d="M517.7 58.2l.7 10.1-.7 9.4 0-19.5zM508.7 77l1 .1 1 1.1 .7 2.1 1.5 10-.2 11.8-1 4.7-1 2.2-1 .8-1.1-.6-.9-2.8-.7-7.2 0-14.9 .7-5.4 1-1.9zM566.6 78l1 1 1 3.5 .5 5.8-.5 8.2-1 3.3-.6 .4-.4 .3-1-1.9-.8-9.3 .5-8 .3-1.9 1-1.4zM530.7 82.9l1 1.7 .8 3.7 .5 8.9-.6 11-.7 4.8-1 2.9-1 0-1-4.4-.7-14.3 .7-9.7 1-3.9 1-.7zM475.7 88.5l1 .9 .7 2.8-.7 4.2-1-1.2 0-6.7z"/>
<path fill="#cc0c0c" d="M517.7 67.1l0 .3 0-.3zM508.7 79.1l1 0 1.3 2.2 1.5 10 0 6.9-.8 5.1-1 2.6-1 1.3-1-.4-1.2-6.6-.2-13.9 .4-4.6 1-2.6zM566.6 79.4l1 1 1 4.2 .3 4.7-.3 5.2-1 4-1 .7-1-2.4-.4-8.5 .4-7 1-1.9zM530.7 83.8l1 1.9 .5 2.6 .7 8.9-.8 10-1.4 6.9-1 0-.6-2.9-.9-14 .6-8.9 .9-3.8 1-.7z"/>
<path fill="#8b0000" d="M509.7 81.2l1 1.6 .6 2.5 .6 6.9-.2 5-2 6.2-1-.3-.4-1.9-.8-9.9 .6-8 .6-2 1-.1zM566.6 81.4l1 1 .9 6.9-.8 6.9-.9 1-.8-3-.2-4.9 0-4 .8-3.9zM530.7 84.8l1 2 .4 2.5 .6 7.9-.8 9-1.2 5.4-1-.4-1-8.2-.3-6.8 .9-8.9 .4-1.7 1-.8z"/>
<path fill="#8b0000" d="M508.7 84l1-.4 1.2 4.7 0 3.9-1 5-.2 .7-1-.1-.5-3.6-.1-5.9 .6-4.3zM530.7 85.8l1 2.2 .3 2.3 .4 7.9-.7 7.5-1 2.5-.9-1-.9-6-.2-6.6 .8-7.3 1.2-1.5z"/>
<path fill="#edfbfb" d="M451.8 16.3l0 1.1 0-1.1zM458.8 16.3l1.9 0-.5 10-.4 3-.7 1-.3 .5-.4-1.5-.4-7-.1-6 .9 0zM469.7 16.3l4.7 0-1.1 25-1.7 12-.5 10-.4 2-.2-1-1.1-7 .6-29-.9-12 .6 0zM477.7 16.3l10.5 0-.8 13-1.6 8-1.1 1.4-.2-.4-1.8-4.7-2-8.1-1-2.2-1-.2-1-.9-.3-5.9 .3 0zM498.7 16.3l3.6 0-.2 8-1.4 28-1 4.2-3 2.4-.6 1.4 0 15-.4 1.5-1.3-7.5 1.2-8 .1-30 .3-2 1.7-4.6 1-8.4zM504.7 16.3l3.8 0 .2 5.6 1 .1 .6 2.3 1.8 3 1 5-1 6-1.4 1.8-1-.2-.7 1.4-1.6 20-.7 3.4-1 2.3-1.1-1.7-.4-3-.4-45 .1-1 .8 0zM518.7 16.3l3.1 0 .9 13.5 .8 4.5 0 36 .5 12-.5 19.9 .2 2.9 1-4.1 1 9.6 .4 9.6-.3 4-.1 .4-1-1.4-2-7.3-1 2.8-1.9-18.5 .1-49.9-.6-13-1.2-8-.3-6-.1-7 1 0zM524.7 16.3l3.7 0-.5 8-1.4 7-.8 1.7-.9-.7-.2-1-.6-15 .7 0zM533.7 16.3l3.3 0-1.2 16-.6 3-.5 1.4-.9-4.4-.7-16 .6 0zM540.6 16.3l11.1 0 .9 7.6 1.7-.6 .3-.8 .2 12.8-1.5 14-.7 12-1 1-.5-13-1.7-17-1.3-2-.5-.2-.6 1.2-.9 3-.1 4 .6 3.7-1-.2-2-7.6-1 .3-3 3.8-.4-1-.3-4 .8-17 .9 0zM560.6 16.3l4.5 0-.5 15-.9 4-3.1-13.3-.5-5.7 .5 0zM568.6 16.3l1 0 0 34.9-1 6.4-1 1-.7-11.3 1.5-18-.6-13 .8 0zM465.8 23.5l.6 4.8-.6 4.7-.9-4.7 .9-4.8zM516.7 27.7l.3 3.6-.3 9.7-1 1.5-.7-3.2-.1-4 1.8-7.6zM476.7 34.7l.5 3.6-.2 4-.3 1.8-.9-.8 0-3 .9-5.6zM491.7 34.4l0 12.1 0-12.1zM480.7 47.4l1 1.4 .4 1.5 .3 6-.5 11-.2 .7-1-.2-1.1-3.5-.8-5 .6-9 .3-1.5 1-1.4zM558.6 48l1 .9 .5 4.4-.2 7-1 7 .3 3 1.4 6.5 1 1 1-2.1-.2 13.6 1.4 18.9-.2 1.4-1 2-1 7.3-.4 8.3-.1 4 1.1 5 .4 7-.1 6-1.3 7 .4 12-2.8 0 .7-11-.2-3-.7-1.5-1 .5-1.6 15-2.8 0 1.4-27 1.4-4-.4-5-1 .4-1.1-5.4 .8-37.9 .7-11 2.1-11 .5-17 1-2.3zM546.6 52.7l1 3.5 1 12.1 2 7.6 .4 3.4-.1 10-.3 1.5-1 .3-1-3.3-1-7-2-4.9-.3-3.6-.6-13 .9-5.2 1-1.4zM460.8 56l1 1.1 .8 6.2-.5 23 .7 2.7 1-.1 .4 5.3-.4 12-1 4 0 .7-1-.3-.4-19.3-.6-4.1-.8-13.9 0-9 .8-8.3zM466.8 58.8l.6 6.5-.6 3.4-.6-6.4 .6-3.5zM526.7 59.2l1 4 .5 7.1-.5 4.7-2 9.3-.2-22 .2-2 1-1.1zM500.7 64.8l1 .2 2 3.1 .2 1.2-.2 8-1 5.8-1 .8-1.1-1.6-.4-8 .5-9.5zM484.7 67.1l1-.7 1.6 1.9 .9 7 .3 16.9-.8 7.8-1 2.6-1 .2-1-2.6-.3-10.9-1.3-10 .1-8 1.5-4.2zM468.7 78l1 4.5 1.4 13.7 3.6 20.2 1 3.5 2 3.9 .6 3.4 .1 15-1.3 6 1.6 6.2 .7 13.8-2.7 0-3.7 0 1.2-20-.1-13-.4-4.4-.8-2.6-1.2-.9-1 .9-.6-1-.4-1.9-2-34 .1-11 .9-2.3zM491.7 84l0 12.9-1-.7-.2-5.9 1.2-6.3zM539.6 93.6l.9 8.6-1.4 8-.1 5 .4 3 2.8 11 1.6 16 .1 6-.3 3-1 2.6-3-8.8-1 5.1-.8 15.1-2.1 0-2.7 0 .1-8-.4-1.4-3 .8-1-.5-1.5-2.9-1-5-.1-7 1.1-7 1.6-4 .9-.8 1-.1 1.4 .9 1.6 3.3 .5-1.3 2.8-14 1.2-10 .4-14.4 1-3.2zM544.6 97.8l0 3.7 0-3.7zM499.7 106.2l1.5 1 1.2 7-1 6-1.7 2-1.3-1-1.2-3-.2-4 .2-4 .8-3 1.7-1zM567.6 112.2l2 1 0 42.9-.7-9.9-.3-.8-1 .2-.8 1.6-2.2 8.3-1-.8-.4-1.5-.6-8 1-.8 2.5-31.2 1.5-1zM463.8 114l1 .5 .4 .7 .8 2 .4 3 0 7-1.4 4-.2 .4-1.3-1.4-.6-3 0-12 .9-1.2zM515.7 115l.1 13.2-.1 1.9-1 .4 0-7.3 1-8.2zM452.8 125.5l1-.1 1 3.2 1 4 1.5 11.6 2.5 7 .5 17-1.5 0-5.4 0 .6-23-1.3-10 .1-9.7zM497.7 125.9l2 2.3 1.2 5 .4 15-.2 4-1.4 5.8-1 .5-2-4.1-.3 2.8-1.7 3.3-1-.2-1.3-3.1-.3-3 1.3-5 1.6-1 .1-14 1.6-7.4 1-.9zM546.6 125.4l.6 1.8 .4 7-.5 4-.5 1.6-.1-.6-1.7-9 .4-2 1.4-2.8zM484.7 130.5l2 7.5 3.1 21.2 .6 9-1.7 0-1.6 0-.9-20-2.5-15.7 .1-1.3 .9-.7zM492.7 130.9l0 1.7 0-1.7zM515.7 132.5l1 1.2 1 4.1 1 2 .8 .4 1.2 4.9 1 1.6 1 0 1 2.2 1.8 12.3 .4 7-2.2 0-7.3 0-.3-6-2.9-8-.4-5 .3-7 1.3-7 1.3-2.7zM504.7 138.9l.9 2.3 1.1 13.9 1 .2 1-1.9 1 .2 .3 1.6 .3 13-.6 0-6 0-1.1-9 0-6 .9-11 1.2-3.3zM464.8 141l.6 5.2-.1 5-.5 3.3-1 .8-.6-4.1 .1-5 .5-4.5 1-.7zM467.8 154.9l.9-.1 .7 1.4 1 8 .2 4-1.9 0-2.5 0 .4-10 1.2-3.3z"/>
<path fill="#edfbfb" d="M470.7 16.3l2.8 0-.8 10 .2 13-1 10-.2 .5-1 0-.4-4.5 0-15 .7-7-.6-6 0-1 .3 0zM480.7 16.3l6.4 0-.4 9.6-1 6.2-1 .4-2-4.6-1.6-6.6-.4-5zM504.7 16.3l3.3 0 .7 10.6 1-1.2 1 0 1.3 2.6 .5 3-.1 4-.7 2.8-1 1-2-.2-.6 13.4-.8 8-.6 3.2-1 2-.7-2.2-.7-6-.4-29 .3-12 .5 0zM518.7 16.3l2.3 0 2.4 25 .2 42-.6 20.9-1.3 11.3-1.2-13.3-.8-17.9 .5-43 .7-17-.2-2.2-1 13.4-1.2-10.2-.2-9 .4 0zM525.7 16.3l1.1 0-.2 6-.9 4-1-10 1 0zM534.7 16.3l1.2 0-.2 6.5-1 4.5-.5-11 .5 0zM541.6 16.3l7.3 0-.7 12-2.1 4-.5 4.2-1-4.2-1-8.1-1 1-1 5.6-1 .5 .3-15 .7 0zM561.6 16.3l2.5 0-.5 9.7-1.9-6.7-.1-3zM499.7 24.1l.7 1.2 .3 3-1 16-1-.3-.6-5.7 1.6-14.2zM551.6 31.6l.7 4.7-.7 1.1 0-5.8zM558.6 53.9l0 6 0-6zM526.7 66.9l.5 4.4-.5 4.6 0-9zM485.7 68l1 1.5 .5 1.8 .4 7-.4 7-.6 2-1 1-.9-1.1-.9-3.9-.5-7 .9-6 .5-1.6 1-.7zM557.6 69.8l1 1 2.7 10.5 1.4 20.9-2.3 28-.3 11-.5 2.4-1.1-.4-3.5-17-.8-12 .8-31.9 1.2-8 1.4-4.5zM469.7 102l1-.6 1 2.1 1 4.1 .6 8.6-.6 4.7-1-1.2-1-3.2-1-7.8 0-6.7zM498.7 107.2l1-.4 1 1 .9 3.4-.1 7-.6 2-.8 1-.4 .4-1.4-1.4-1-4 0-5 1.4-4zM463.8 115.9l1-.4 1.3 4.7 0 6-1.3 4-1-1.1-.6-2.9-.1-7 .7-3.3zM567.6 119.8l.8 3.4 .2 4-1 10.3-1 .3-.4-5.6 .4-8.5 1-3.9zM475.7 127.8l1.1 1.4 .6 6-.3 8-1.1 6-.3 .8-.3-2.8-.3-8 0-8 .6-3.4zM497.7 127.6l1.6 1.6 1 3 .7 7 0 8-1.3 8.2-1 1.1-2-3.8-.9 5.5-1.1 1.9-1-.2-1.1-2.7-.3-3 1.4-5 1-.3 1.1 .3-.6-6 .1-7 1.4-7.4 1-1.2zM539.6 128.2l1 .2 .9 4.8 .3 10-.2 1.3-2-4.1-1 2.6-1.4 16.2-.2 9-3.3 0 .7-13-.7-.4-1 2.4-2 1.6-1 .1-1-.7-1-2.1-.8-2.9-.5-7 .7-7 1.2-4 1.4-2 1-.1 1.3 1.1 1.3 3 1.2 5 .2 12.5 1-19.3 .9-3.3 1-1.4 1-.6 1-1.9zM515.7 134.3l1 .4 1 3.8 1.7 3.7 1.3 11.9 1 3.1 1 .7 1.2 4.3 .7 6-2.9 0-3.4 0-.9-6-2.1-3-2-7 0-9 1-6 1.4-2.9zM504.7 148.7l0 5.8-.4-3.3 .4-2.5zM555.6 151.6l0 3.3-.4-.7 .4-2.6zM488.7 160.8l.7 7.4-.7 0-.5 0 .5-7.4zM507.7 160.6l1 .6 .7 7-1.7 0-2 0 .3-5 .7-1.7 1-.9zM467.8 161.3l.7 2.9 .2 4-1.6 0 .7-6.9zM477.7 163.6l.4 4.6-.4 0-.6 0 .6-4.6z"/>
<path fill="#dfe6f7" d="M482.7 16.3l1.7 0-.1 4-.6 1.7-1-.3-.2-1.4-.5-4 .7 0zM504.7 16.3l2.9 0 1.1 12.4 1-1.9 1-.1 1 1.8 .5 2.8-.1 4-.6 2-.8 1-2-1.3-1.1 18.3-.9 6.9-1 1.7-1.2-7.6-.5-22 .7-18zM519.7 16.3l0 3 0-3zM544.6 16.3l3.4 0-.5 10-1.2 4-.7 1.2-.7-4.2-.5-8 .2-3zM471.7 24.9l.8 5.4 .1 8-.7 9-.2 .6-.6-.6-.6-4-.1-10 .3-4.6 1-3.8zM521.7 25.7l1.4 16.6 .4 39-1 23.9-.8 7.5-1.6-18.5-.3-9.9 1-46 .9-12.6zM484.7 70.1l1-.7 .6 .9 1 5-.3 8-1.3 3.2-1-.9-.9-4.3-.1-6 1-5.2zM557.6 72l1 .8 2.5 10.5 1.3 17.9-.3 8-2 20-.5 3.9-1 3.2-1.4-3.1-1.9-9-.7-14 .6-26.9 1-7 1.4-4.3zM498.7 107.8l1-.4 1 1.1 .8 3.7-.3 6-.5 1.6-1 1.2-1-.6-.5-1.2-.8-4 .2-4 1.1-3.4zM464.8 116.6l1 3.1 .2 3.5-.2 3-1 3.1-1.1-2.1-.4-5 .5-4.8 1-.8zM497.7 129.1l1 .5 .8 1.6 .7 3 .5 6-.1 7-.9 6-1 1.7-1-1.2-1.1-2.5-.9 6.6-1 2-1-.2-.9-2.4-.3-3 1.2-4.7 1-.2 1 1.2 .4-.3-.5-13 .9-6 1.2-2.1zM529.7 133.9l1-.1 1 .9 1.2 2.5 1.3 8-.2 5-.9 5-1.1 2-1.3 1-1.1 0-1.6-2-1.2-7 .6-10 1.2-4 1.1-1.3zM515.7 135.3l1 .3 2.2 6.6 .6 5-.1 9-1.1 3-1.6 1.2-1-1.2-1.2-3-1.1-7 .6-9 .7-3.1 1-1.8zM536.6 139.8l.5 4.4-.5 6.2-.3-5.2 .3-5.4zM535.7 163.4l0 4.8-.9 0 .9-4.8z"/>
<path fill="#c9ebe3" d="M505.7 16.3l1.6 0 1.4 14.4 1-2.8 1-.3 1.2 3.7-.2 4-1 2.1-1-.4-1-2-1 17.6-1 8.1-1 1.5-1.2-9.9-.1-28 .5-8 .8 0zM545.6 16.3l1.6 0-.6 9.6-1-.6-.4-9 .4 0zM471.7 27.4l.5 9.9-.4 8-.1 .7-.4-.7-.6-2-.1-9 1.1-6.9zM521.7 28.9l1.3 15.4 .4 37-1.7 28.9-1.7-26.9 .9-43 .8-11.4zM485.7 70.8l1 2.4 .3 5.1-.3 4.2-1 2.5-1-1-.6-1.7-.2-3 .7-7 1.1-1.5zM557.6 73.5l1 .8 .3 1 2 9 1.2 15.9-1.1 18-1.2 11-.9 4-.3 .7-1-1-1.5-5.7-.9-7-.4-8 .4-26.9 1.1-8 1.3-3.8zM499.7 107.9l1.3 2.3 .4 5-.7 4-1 1.3-.4-.3-1.2-2-.5-5 .7-4 .4-.8 1-.5zM464.8 117.8l.7 5.4-.5 4-.2 .8-.5-.8-.5-1.2-.2-4.8 .2-2.2 1-1.2zM497.7 130.6l1 .5 1 2.3 .6 5.8-.3 10-.3 2.2-1 1.9-1-1.2-1-2.9-.8-7 .5-8 .3-1.9 1-1.7zM529.7 134.6l1-.1 1.4 1.7 1 3 .6 5-.5 9-1.1 3-.9 1-1.5 .4-1-.9-1.2-3.5-.5-4 .4-9 1.1-4 1.2-1.6zM515.7 136.2l1 .1 2.1 6.9 .5 4-.4 8-.9 3-1.3 1.2-1-.9-1.3-3.3-.8-7 .6-8 1.5-4zM493.7 149.9l1-.3 1.5 2.6-.2 4-1.3 3.3-1-.3-1.1-4 .3-3 .8-2.3z"/>
<path fill="#c9ebe3" d="M505.7 16.3l1.4 0 1.5 17-1.2 20-.7 5.9-.9 1.1-1.1-7.7-.4-13.3 .3-17 .6-6 .5 0zM509.7 29.1l1-.3 .6 2.5-.6 4.8-1-.4-.5-1.4-.1-3 .6-2.2zM471.7 29.8l0 13.3-.5-7.8 .5-5.5zM521.7 31.5l1.1 13.8 .5 35-.2 9-1.4 18.6-1.5-25.6 .8-40 .7-10.8zM485.7 72.5l1 5.8-1 5.1-1-.4-.3-.7-.4-3 .7-5 1-1.8zM557.6 74.9l1 .7 1.7 6.7 1 7 .5 10.9-.8 16-1.2 11-.9 4-.3 .9-1-.8-1.4-5.1-.9-7-.4-8 .5-24.9 1-8 1.2-3.4zM498.7 109l1-.6 1.3 2.8 .1 5-.8 3-.6 .8-1-.7-.6-2.1-.2-4 .8-4.2zM497.7 132.2l1 .6 .9 2.4 .4 4-.2 9-1.1 3.3-1-1.2-1-3.4-.4-3.7 .3-8 1.1-3zM530.7 135.2l1.4 2 .9 3 .5 8-.4 4-.9 3-1.5 1.8-1 0-1-1-1-3.1-.6-7.7 .4-4 1-4 1.2-1.9 1-.1zM515.7 136.9l1 .1 1.8 6.2 .6 4-.2 6-.7 3-1 2-.5 .4-1.3-1.4-1-3-.5-4 .2-8 .6-3.1 1-2.2zM493.7 150.2l1.3 0 1 3-.2 3-1.1 3-1-.2-.8-2.8 0-3 .8-3z"/>
<path fill="#a8d3e6" d="M505.7 16.3l1.1 0 1.5 17-.6 14.5-1 9.6-.7 .9-.3 .3-.1-.3-.8-8-.3-10 .2-15.5 1-8.5zM509.7 31.8l0 .9 0-.9zM521.7 33.9l.9 13.4 .6 33-1.5 25.3-1.4-23.3 1.4-48.4zM557.6 76.1l1 .7 1.6 6.5 .9 7 .5 8.9-.7 16-1.3 11.5-1 3.8-1-.5-1.3-4.8-1.2-15 .4-22.9 1-8 1.1-3.2zM484.7 77.8l.7 .5 .4 2-.6 2-.5 .2-.4-1.2-.1-2 .5-1.5zM499.7 108.9l1 1.9 .3 3.4-.3 3.4-1 1.8-1.1-1.2-.5-4 .4-4 1.2-1.3zM497.7 134.6l1 .8 1 4.5 0 5-1 4.1-2-6.2 0-4.8 1-3.4zM529.7 135.9l1 0 1.1 1.3 1 3 .5 4-.5 8-1 3-1.1 1.2-1 0-1.1-1.2-1.3-7 .4-7 1-3.8 1-1.5zM515.7 137.7l1 0 2 8.5 0 6-.5 3-.9 2-.6 .7-1-.8-1-2.9-.6-4 .2-8 1.4-4.5zM493.7 150.5l1-.3 1.1 3-.7 5-.4 .7-1-.2-.5-1.5-.2-4 .7-2.7z"/>
<path fill="#5aa7e6" d="M505.7 16.4l1 .7 1.4 16.2-.4 11.6-1 10.7-.6 .7-.4 .4-.4-3.4-.7-12 .1-13 1-11.9zM521.7 36.3l.7 11 .6 32-.2 9-1.1 15.1-1.2-22.1 1.2-45zM557.6 77.2l1 .7 1.4 5.4 1 8 .4 7.9-.5 15-1.3 10.9-1 4-1-.4-1.2-4.5-1.2-15 .5-21.9 .8-7 1.1-3.1zM484.7 78.4l.7 1.9-.7 1.7-.3-1.7 .3-1.9zM499.7 109.6l1 2.2 .2 2.4-.2 2.4-1 2.2-1-.9-.4-3.7 .4-3.9 1-.7zM529.7 136.6l1-.1 1 1.2 1.4 6.5-.4 7.6-1 2.9-1 1-1 .1-1-1.2-1.2-6.4 .4-7 .8-3 1-1.6zM515.7 138.5l1 0 1.9 8.7-.5 7-1.4 2.9-1-.7-.8-2.2-.7-5 .3-7 1.2-3.7zM493.7 150.9l1-.3 .9 2.6 .1 2-.8 3-.2 .4-1-.2-.5-2.2-.1-3 .6-2.3z"/>
<path fill="#5aa7e6" d="M505.7 18.2l1 .7 1.1 13.4-.1 9-1 12.2-1 1.2-.9-13.4 .2-13 .7-10.1zM521.7 38.7l1.2 39.6-.1 9-1.1 13.8-1-19.8 1-42.6zM484.7 78.8l.4 1.5-.4 1.3 0-2.8zM557.6 78.3l1 .6 1.3 5.4 1.4 14.9-.5 14-1.2 10.3-1 4.3-1-.3-1.1-4.3-1.2-14 .4-20.9 .9-7.3 1-2.7zM499.7 110.2l1 4-1 3.9-1-1.2-.2-2.7 .2-3 1-1zM530.7 137.2l1 1.3 .9 3.7 .3 6-1.2 5.7-1 1.2-1 .1-1-1.3-.5-1.7-.5-7 1-6.2 1-1.8 1 0zM516.7 139.2l1.4 6 .3 4-.7 5.6-1 1.6-.3-.2-.7-.6-1-3.2-.4-5.2 .4-5.1 1-2.9 1 0zM493.7 151.2l1-.3 .7 2.3-.1 3-.6 2.1-1-.3-.4-1.8 .4-5z"/>
<path fill="#4a72ee" d="M505.7 20.2l1 .6 .9 12.5-1.1 18-.8 .9-.6-11.9 .6-20.1zM521.7 41.5l1.1 36.8-.1 8.7-1 11.2-.9-16.9 .9-39.8zM484.7 79.2l0 1.8 0-1.8zM557.6 79.3l1 .7 1.1 4.3 1.4 14.9-.5 14-1 8.8-1 4.5-1-.2-1-3.6-1.1-14.5 .4-19.9 .7-6.1 1-2.9zM499.7 112.2l0 1.4 0-1.4zM529.7 138l1-.1 1 1.5 1 5.1-.3 5.7-.7 2.9-.8 1.1-1.2 .3-1-1.5-.8-4.8 .5-7 1.3-3.2zM515.7 140.1l1-.1 1.4 7.2-.3 6-1.1 2.5-1-.9-1.2-5.6 .2-5.7 1-3.4zM493.7 151.6l1-.4 .6 2-.6 4.7-1-.3-.3-1.4 .3-4.6z"/>
<path fill="#2171d6" d="M505.7 22.5l1 .4 .6 10.4-.6 14-.8 1-.6-13 .4-12.8zM521.7 45.4l.1 20.9 .9 12-1 16.9-.8-13.9 .7-15 .1-20.9zM557.6 80.3l1 .7 1 3.8 1.4 14.4-.4 12.3-1 9.1-1 4.6-1-.1-1-3.8-1-13.1 .4-18.9 .6-5.9 1-3.1zM529.7 138.8l1-.1 1 1.7 .7 4.8-.5 6-1.2 2.5-1 .1-1-1.7-.5-3.9 .2-6 1.3-3.4zM515.7 141.1l1-.1 1.1 6.2-.1 5-1 2.6-1-.8-1-5 0-3.2 1-4.7zM493.7 152.1l1-.4 .2 .5-.2 5.3-1-.4 0-5z"/>
<path fill="#2171d6" d="M505.7 25.7l1-.2 0 .8 0 14.1-1-1.9 0-12.8zM521.7 68.6l.9 9.7-.9 15.5-.6-11.5 .6-13.7zM557.6 81.4l1 .7 1 4 1.2 13.1-.2 10.2-1.8 13.8-.2 .7-1 0-1-4-.8-11.7 .3-18.9 .5-4.6 1-3.3zM529.7 139.7l1 0 .2 .5 .8 1.5 .3 2.5-.2 6-1.1 2.6-1 .1-1-2.1-.2-1.6 .2-7 1-2.5zM515.7 142.6l1 0 .9 6.6-.9 4.6-1-1-.4-2.6 .4-7.6zM494.7 152.1l0 4.7-1-.5 0-3.4 1-.8z"/>
<path fill="#1c4f8f" d="M521.7 71l.7 8.3-.7 12.8-.5-9.8 .5-11.3zM557.6 82.4l1 .7 1 4.2 1.1 11.9-.4 11-1.6 12-1.1 .5-1-4.3-.6-10.2 .2-17.9 .4-4.3 1-3.6zM529.7 141.1l1 0 1 2.8 0 4.9-1 2.6-1 .3-1-3.1 0-3.9 1-3.6zM516.7 149.3l0 2.9-.6-2 .6-.9z"/>
<path fill="#17186e" d="M521.7 72.9l.5 7.4-.5 10.1-.4-8.1 .4-9.4zM557.6 83.5l1 .7 1 4.5 .9 11.5-.7 14-1.4 7-.8 .2-1-4.8-.5-9.4 .3-16.9 1.2-6.8z"/>
<path fill="#17186e" d="M521.7 75l0 13.7 0-13.7zM557.6 84.7l1 .7 1 4.8 .7 9-.4 12-1.3 8.4-1 .3-.1-.7-.9-4.7-.3-6.3 .2-16.9 1.1-6.6z"/>
<path fill="#fff" d="M434.8 158.9L562.6 158.9L563.6 168.2L434.8 168.2Z"/>
<path fill="#fdeee2" d="M156.8 199l.7 0 .1 25 2 8 .4 7-.5 7-2.8 12 1.3 5 1.2 9 .5 8.9-.4 4-1.1 4-2.4 5.3-1.8 1.7-2.2 .6-.7-1.6-1.5-14-.2-7.9 .7-7 1.2-5 1.5-3.7 1-.1 .4-1.2-1.2-6 0-14 2.5-17 .8-10-.3-10 .8 0zM159.8 199l1.2 0 1.1 15-.5 5-.8 .9-.5-3.9-.9-16 0-1 .4 0zM165.8 199l1.8 0 .7 24-.4 15-1 4-1.1-4.9-.4-7.1-.3-31 .7 0zM170.8 199l3.2 0 .7 8-1.4 42 .5 3.6 1.8 44.3 1.9 9 .6 22 .1 6-1.2 4-1.2 .3-.8-11.3-1.2-3.4-1 .9-1.5-8.5-1.1-12 .1-24 1.9-19.9-3-34 1.2-27 .4 0zM192.8 199l6.8 0-1.3 14-.4 14 .5 24 .1 46.9-.6 23 .4 4 1.5 3.1 3.4 12.9 .3 10-5.5 0-.5-8-.7-3.9-2 10.3-1.1 1.6-.9-10.4-1.2-2.6-.3-2 1.1-9 0-11-.6-4.6-2.6-4.4-1.1-4-1.3-20.5-1.3 4.5-.4 5 .6 19-.2 22-1.5 14 0 4-1.5 0-.7-3.6-.3 3.6-3.3 0-.2-16 .8-.2 1.4-18.8 1.6-10-.6-4-1.6-2-.5-3 1.7-35.1 .8 4.2 1.2 20.2 1.4-7.3 1.6-16 1-5.6 1.1 2.7 1 11 .9 .3 1-2 1-8.3 1-27.1 0-34.9zM209.8 199l3.4 0 .4 10 1.1 5.7 1-2.9 1-5.3 1-.3 1 4.4 1.5-1.6 .6-10 2.5 0 .4 4.9 1.3 5.1 2.7 2.1 1.4-3.1 .6-3.7 .6 .7 .4 2.3 0 18 1 4.1 1.9-9.4-.7-11 .4-10 13.4 0 0 76.3-1-.6-1 .2-1.8 2-.5 4 1.2 7-.4 11-.5 2.1-2 .2-.6 .7-1.4 3.7-.3-6.7-1.2-4-2.3-3-1.8-6-1-7 0-5.9 1.1-7 1.5-3.5 1-1 1 .1 3 1.6 .4-6.2 3-11 .1-3 .1-19-1.2-5-2.6-6-.8-4.3-1-.1-1 7.7-1-.9-1 .5-.8 2.1 1 16-.5 13-.7 4.6-1 .1-1-14.1-1-3.4-.5 2.8-2.5 6.4-2-3-2 2.6-2 1.5-1-.9-.9-3.6-.4-13-.7-2.4-1 3.2-1 8.1-1-1.5-1-8.2-2 12.8-.6 9 .7 2.2 2.9-.7 1 .6 .7 1.9 .1 3-.8 2-1.5 2-1.5 13.8-.9-.8-4 10.5-.5-.6-.3-3 .4-12.9-.4-16-4.6-12-.8-4-.2-4 .7-9 1-6 1.2-3 2.5-2.1 1.6-2.9 .4-8zM137.9 218.6l1.2 .4 1.2 3 .6 5.7 3 16.9 1.6 31.3 2.1 24-.8 7.4-1-.6-1.9-3.1-3.4 11.3-1.6 10-1 1.5-1 .4-1 1.9-2-3.4-2 .4-.3-.8-.6-6 .2-18-.9-14 1.2-17.9-.7-19 .2-8 4-19 1.1-3 1.8-1.4zM147.8 233.2l1.5 4.8 .3 5-.3 5-1.5 4.8-1.4-2.8-.4-7 .3-7 1.5-2.8zM217.7 280.3l1 3.8 .2 8.8-.7 6-.5 1.6-.5-.6-1.1-3-.4-14 .2-1 1.8-1.6zM226.7 290.7l1 2.4 .8 5.8 .2 16.1 1-1.5 1.4 5.4 1.3 13-.8 8-2.3 5-.2 6-2.7 0 .3-1.7 1-12-.3-8.3 .3-8.8-.4 3.8-1.6 1.3-1-.9-1.4-5.4-.3-5 .3-6 1.7-7 .3-8 .4-1.8 1-.4zM246.7 297l0 41.9-1.2-6 .2-14-.7-11 .3-5 1.4-5.9zM201.8 299.9l2-.7 1 1.1 1.2 4.6 0 7-.9 3-1 1-1.8-1-.5-1.5-1 .5-.4-2-.1-8 .5-2.9 1-1.1zM214.7 306.1l.7 1.8 2.7 20 .6 2.6 2 .7 1.4 7.7 3 8 .5 4-.9 0-9.6 0-.1-9 .6-4 0-10-.3-5-1.3-5 0-6 .7-5.8zM159.8 325.4l1-.3 1 .8 1.5 2 .4 2-.3 3-2 3-.6 4-1-.3-.1-1.7-1.2-1-1.2-6 .7-3 1.8-2.5zM172.8 337.8l2 6.5 .3 6.6-2.3 0-2.5 0 .3-5 1.2-6.4 1-1.7zM138.9 349.8l0 1.1 0-1.1z"/>
<path fill="#fdeee2" d="M193.8 199l2.1 0 1.5 14 .7 40 .2 41.9-1.1 37-2.4 10.7-.6-1.7-1-7-.5-18-.9-6.1-2-3.5-1.2-4.4-.8-11 .6-11 3.4-12.1 1.4-40.8 .2-28 .4 0zM239.7 199l7 0-.1 24-1.9-9.1-2-.1-1-.6-1.2-2.2-1.2-8-.2-4 .6 0zM171.8 200.1l1 .2 .7 1.7 .9 6-.6 10.2-2 16.8-.4-2-.6-.4-.4-10.6 .3-16 1.1-5.9zM209.8 208.5l1-.2 .6 .7 1.1 3 1 6 .2 8-.6 8-2.3 13.6-1 2-1.1-1.6-2.9-5.1-1.5-3.9-1.1-5-.2-6 .5-7 1.3-6.1 1-2 4-4.4zM220.7 210.7l1.7 2.3 .3 4.9 .5-2.9 .8-2 1.7-1.9 1 .3 1.6 1.6 .9 2 .8 13-.4 6-.9 3.8-1 .5-1.5-7.3 .1-4-.4-1-.6 0-.1 6-1.3 6-1.2 2-1 .5-1-2.2-.3-12.3-2.3-4-.3-4 .5-5 1.4-1.8 1-.5zM216.7 217.6l0 3.8 0-3.8zM137.9 221.1l1 .9 1.1 4 .9 12.4 2.3 13.6 .7 9 .4 19.9 1.5 9.1 .2 4.9-.2 2-.9 .2-1-3.1-2 11.4-1 1.9-1.2-2.4-.8-4.5-1 .2-1-2.5-.2-2.2 .2-5.6 1-.7 1-.1 1-8.9-.1-5.6-.9-5-1.2-2-.8 1.7-1 7.4-2 6.2-.6-4.4 0-12.9 .6-19.6 1.1-7.4 .3-10 1.2-6 1.4-1.9zM135.2 241l.5 13 1.2 4.8 .3-1.8 .7-3.2 .4-7.8-2.4-5.8-.7 .8zM166.8 222.6l0 10.9 0-10.9zM155.8 228.9l1.4 2.1 1.4 4 .3 5-.5 9-1.3 5-1.1 2-.2 .3-1-1.5-1.1-3.8-.5-7 .4-9 1.1-5 1.1-1.1zM233.7 233.9l0 3.8 0-3.8zM246.7 233.6l0 39.9-2 1.1-2 1.8-1-1.1 .2 6.6 .7 5-.9 7.2-1-1.7-.4-2.5-.6-.5-2 3.3-1 .5-1-.8-1-2.1-1.6-6.4-.5-8 .5-6.9 1.1-4 1.5-2.4 2 .4 2 2.5 1.3-11.5 2.6-8 1.1-10.7 2-1.7zM147.8 234.4l1.2 4.6 .2 4-.2 4-1.2 4.5-1.2-2.5-.4-6 .3-6 1.3-2.6zM213.7 250.7l2-.1 1 1.4 .4 2-.5 2-.9 1.3-1 .5-1.9-.5-1.2-1.3-.6 2-.2 2.5-1-2.5 0-6.9 1 0 .1 .9 .9 .4 1.9-1.7zM153.8 259l2 .1 1.5 2.9 1.1 6 .9 8.9-.1 5-.7 4-1.7 5-2 3.1-2 .7-1.3-1.8-1.1-6-.5-9 .1-6.9 .7-5 1.4-5 .7-1.5 1-.5zM172.8 263.5l1 2.6 .4 3.9 .7 17.9-.3 25-.3 2-1.5 3.3-1-2.7-.6-4.6-.9-19 .9-19.9 .6-5 1-3.5zM180.8 272.4l.4 16.5-.4 4.3-1 1 0-8.6 1-13.2zM203.8 300.2l1 1.1 .5 1.6 .6 5-.5 5-.6 1.7-1 .6-1.6-2.3-.9-5 .9-6 1.6-1.7zM225.7 301.3l1 .4 .8 2.2 .8 7 0 6 .4 .7 1-1.7 1.2 4 .5 4 .2 9-.4 5-1.5 3.9-1.3-1.9-.4-3 .1-18-.4-1-.5 4-1.5 2.5-1-1-.5-1.5-.9-6 0-5 .8-6 1.6-3.6zM182.8 306.7l1.3 1.2 .9 5 .5 11-.9 16-.8 4.2-1 1.4-1.2-1.6-1.2-4-.5-11 .6-12 1.1-7 1.2-3.2zM159.8 326.3l1-.3 1 .4 1.7 3.5-.6 3-1.7 2-.4 .4-1-.4-1.6-3 0-3 1.6-2.6zM216.7 331.7l2.8 8.2 .6 7 .1 4-.5 0-3.8 0 .8-19.2zM198.8 333.4l1 2.5 .6 5 0 4-.6 2.1-1.1-5.1 .1-8.5zM171.8 348.5l.5 2.4-.5 0 0-2.4z"/>
<path fill="#fddcaa" d="M240.7 199l6 0 0 17.8-.7-4.8-1.3-7.3-1 1.1-1 2.4-1 .7-1-1.7-.8-8.2 .8 0zM172.8 201.9l.9 3.1 .3 3-1.2 6.4-1-.6-.2-.8-.5-5 .4-5 .3-.8 1-.3zM194.8 201.1l1 4.4 1.4 13.5 .9 75.9-1.4 35-.9 6.1-1 2.7-.7-2.8-1.3-21.7-1-5.9-2-3.8-.9-3.6-.7-11 .8-10 2.8-8.9 2-57.7 1-12.2zM209.8 210.3l1.1 .7 1.5 4 .8 6 0 7-1.1 10-1.3 6.3-1 1.7-1 0-1-1-2-3.5-1.6-4.5-.7-5-.1-6 .8-7 1.2-4 4.4-4.7zM220.7 211.7l1.5 3.3 .2 6-.9 3-.8 .8-1-.7-1.5-4.1 0-4 .9-3 .6-1 1-.3zM225.7 212l1 .2 1.3 1.8 .8 4 .2 13-.3 2.4-1-.6-.1-6.8-.5-1-1.4-.4-1.5-1.6-.6-4 .7-5 1.4-2zM137.9 223.1l1 .9 .2 1 1 7-.2 7-1 3.4-1-.5-1-2.1-1-5.8 .6-8 .4-1.5 1-1.4zM222.7 229.6l0 3.4-1 .3 0-2.6 1-1.1zM155.8 230.6l1.7 3.4 .8 4 .2 4-1 9-.7 2.3-1 1.2-1-1.3-.6-2.2-.8-8 .8-9 .6-2.5 1-.9zM147.8 235.5l1.1 7.5-1.1 7.3-1.1-2.3-.3-5 .3-5 1.1-2.5zM245.7 241.2l.7 2.8 .3 5.3 0 22.9-1 1.6-2 1.2-1 .2-1-1.6-.3 .4-.3 7.9-1 5-2 4-1.4 1.2-1-.6-.7-1.6-2-9-.1-6.9 .6-5 1.2-4 1-1.5 1-.2 1 .5 1.1 1.2 .9 2 1.5-13 1.5-4.7 1.8-3.3 1.2-4.8zM140.9 250.8l0 5.4 0-5.4zM213.7 251.3l1-.3 1 .4 .9 1.6-.4 3-1.5 1.2-1.2-.2-1.4-2 .1-2 1.5-1.7zM153.8 260.3l2 .5 1.3 2.2 1.2 6 .6 7.9-.6 8-1.7 5-1.8 2.9-2 .6-1-1.5-1.1-6-.5-7 .1-6.9 .6-5 1.5-5 1.4-1.7zM172.8 266.2l1 3.2 .4 3.6 .5 15.9-.4 20-.9 5-.6 1.8-.3-.8-.7-1.9-.6-5.1-.6-18 .8-16.9 .4-3.6 1-3.2zM141.9 276.8l.2 17.1-.2 3.9-1 2.1-.4-10 1.4-13.1zM203.8 301.1l1.2 1.8 .6 5-.6 5-1.2 1.4-1.5-2.4-.4-4 .5-5 1.4-1.8zM225.7 302.3l1 1 .6 1.6 .6 8-.7 8-1.5 2.8-1-1.1-.5-1.7-.8-8 .8-7 1.5-3.6zM182.8 308.8l1 .9 .7 3.2 .8 12-.9 14-.6 3.4-1 1.5-1.3-1.9-.8-4-.6-10 1-13 .7-3.9 1-2.2zM229.7 317.2l1.4 5.7 .3 7-.3 6-1.4 4.6-1.3-2.6-.4-9 .5-9 1.2-2.7zM159.8 326.9l1-.5 1 .5 1.2 2 0 3-1.2 2.1-1 .6-1-.3-1.2-2.4 0-3 1.2-2zM217.7 340.7l1 4.6 .3 5.6-1.3 0-1.2 0 .2-7.1 1-3.1z"/>
<path fill="#f3a466" d="M240.7 199l2.1 0-1 5-1.1-2.8 0-2.2zM246.7 199l0 6 0-6zM171.8 203.9l1-.5 .4 1.6 .2 4-.6 3.1-1-.8-.2-1.3 .2-6.1zM194.8 208.9l1 1.7 1.1 10.4 1 71.9-1.5 35-.6 4.9-1 2.5-.5-2.4-1.5-20-1-6-2.4-6-.9-10 .7-9 2.6-8.8 .2-2.1 1.8-48.2 1-13.9zM209.8 211.7l1.2 1.3 1.2 4 .7 6-.1 6-.9 8-1.1 5.3-1 1.9-1 .2-1-.9-2-3.3-1.3-4.2-.7-5 0-6 .8-6 1.2-3.5 4-3.8zM219.7 212.9l1-.3 .3 .4 1.1 4-.2 4-1.2 2.8-1.1-.8-1.1-4 .1-3 1.1-3.1zM225.7 212.8l1 .2 .7 1 .9 3-.1 5-.5 1.2-1 .7-1-.2-1-1.1-.6-2.6 .3-5 1.3-2.2zM137.9 225.3l1 1.7 .6 7-.6 5.6-1-.1-1-2.9-.3-4.6 .3-4.6 1-2.1zM155.8 232.1l1.4 2.9 .9 7-.8 8-.5 1.8-1 1.3-1-1.4-.4-1.7-.7-7 .7-8 .4-2 1-.9zM147.8 236.6l.8 6.4-.3 4-.6 2-.9-2.1-.2-4.9 .2-3.4 1-2zM244.7 247.3l1 .9 1 3.1 0 19.9-1 2-2 1.3-1-.1-1.4-2.4-.6-3.9-.2 14.8-1.3 5-1.5 2.6-1 .7-1-.6-1.6-4.7-1-7 .3-7.9 .9-4 1.4-2.8 1-.2 1 .5 1.2 1.5 .8 2.3 .9-.3-.1-7 .7-6 1.5-5 1-1.9 1-.8zM213.7 251.9l1-.3 .9 .4 .5 1 0 2-.4 .9-1 .7-1-.2-1-1.4 .1-2 .9-1.1zM153.8 261.5l2 .5 1 1.5 1.2 5.5 .6 7.9-.2 5-.8 4-1.8 4.4-1.4 1.6-1.6 .3-1-1.7-.8-4.6-.6-8 .2-5.9 .7-5 1.3-4 1.2-1.5zM172.8 268.2l1.3 6.8 .4 13.9-.4 18-.8 5-.5 1.7-.2-.7-.8-2-.5-5-.5-16 .6-14.9 .4-3.7 1-3.1zM203.8 302l1 1.3 .5 4.6-.5 4.6-1 .9-1.1-1.5-.5-4 .4-4 1.2-1.9zM225.7 303.1l1 1.2 .5 1.6 .5 8-.8 7-1.4 2-.8-.9-.5-2.1-.5-7 .7-7 1.3-2.8zM182.8 310.3l1 1.1 .6 2.5 .7 11-.8 13-.5 2.9-1 1.7-1-1.3-.8-3.3-.6-10 .8-12 .6-3.4 1-2.2zM229.7 318.3l1.1 4.6 .4 7-.3 5-1.2 4.5-1.1-2.5-.4-8 .3-7 1.2-3.6zM160.8 326.9l1.4 1 .7 3-.7 2-1.4 1.3-1.5-1.3-.6-2 .7-3 1.4-1zM217.7 348.4l0 2.5 0-2.5z"/>
<path fill="#f3a466" d="M172.8 208l0 1.9-.4-.9 .4-1zM208.8 213.4l1-.3 1 1 .7 1.9 .7 4 .3 6-.4 7-1 6-1.3 3.6-1.1 .4-1.9-2.2-1.6-3.8-.9-4-.2-5 .4-6 .9-4 1.4-2.7 2-1.9zM219.7 213.8l1-.3 1 3.5-.5 5-.5 .9-1-.6-.6-2.3-.2-3 .8-3.2zM225.7 213.7l1.1 .3 1.2 3-.1 4-1.2 1.9-1-.1-.6-.8-.6-2 .1-4 1.1-2.3zM194.8 214.5l1 .2 .9 10.3 1 67.9-1.5 33-.4 3.6-1 2.5-.4-2.1-1.4-17-1.2-7.5-2.1-5.5-.9-9 .6-8 2.4-8.2 .4-3.7 2.6-56.5zM155.8 233.5l1.2 2.5 .7 7-.8 7-1.1 1.6-1.2-2.6-.5-7 .6-7 1.1-1.5zM147.8 237.8l.3 7.2-.3 2.9-.3-.9-.7-5.5 1-3.7zM243.7 248.8l1-.5 1 1.1 1 3.2 0 17.6-1 2.4-2 1.5-1-.5-1.3-2.6-.8-8 .8-8 1.3-4.4 1-1.8zM213.7 252.9l1-.2 1 .9-.3 1.4-.7 .7-1-.3 0-2.5zM153.8 262.6l2 .5 1 1.7 1 5.2 .5 6.9-.3 5-.8 4-1.4 3.4-1.5 1.6-1.5 .1-1-2-1.1-11.1 .8-9.9 1.3-4.4 1-1zM235.7 264.9l1-.2 2 1.7 1.3 3.6 .3 3-.1 9.9-1 4-1.8 3-.7 .6-1-.6-.8-2-1.5-8 .3-8.9 .9-4 1.1-2.1zM172.8 269.9l1.1 5.1 .5 12.9-.4 16-1.2 7.7-1-2.8-.3-2.9-.5-16 .5-14 .3-2.8 1-3.2zM203.8 303l1 1.9 .1 3-.1 3-1 1.4-1-1.7-.3-2.7 .3-3.2 1-1.7zM225.7 303.7l1.3 2.2 .5 7-.5 7-1.3 2.7-1-1.3-.3-1.4-.6-7 .5-6 1.4-3.2zM182.8 311.6l1 1.3 .4 2 .7 10-.7 12-.4 2.6-1 1.8-1-1.5-.5-1.9-.7-10 .7-11 .5-3 1-2.3zM229.7 319.4l1 4.6 .3 5.9-.3 4.4-1 4-1-2.4-.4-7 .4-6.9 1-2.6zM159.8 327.8l1-.5 1 .5 .5 1.1 .3 2-.8 2.2-1 .6-1-.5-.6-1.3-.1-2 .7-2.1z"/>
<path fill="#f07414" d="M208.8 214.6l1-.2 .5 .6 1.1 3 .7 4 .1 6-1.4 10.8-1 2.3-1 .6-1-.7-1.8-3-.9-3-.7-8 .4-4.4 1-4.3 1-1.8 2-1.9zM219.7 214.9l1-.3 .4 1.4 .1 3-.5 2.8-1-.7-.2-1.1 .2-5.1zM225.7 214.9l1 .2 1 2.9-.1 2-.9 1.9-1-.2-1-2.6 0-1.4 1-2.8zM195.8 218.7l1.4 33.3 .4 41.9-1.8 32-1 2.7-.5-3.7-1.1-12-1.4-9.1-2-5.7-.6-8.2 .6-6.6 2-7.4 .5-3.9 2.3-50 .2-2.6 1-.7zM155.8 235l1 2 .5 5-.5 6.3-1 1.4-1-1.8-.4-5.9 .4-5.6 1-1.4zM243.7 249.5l1-.4 1 1.2 1 3.5 0 15.5-1 2.6-1 1.2-1 .4-1-.6-.5-.9-1-3-.3-4 .5-9 1.1-4 1.2-2.5zM153.8 263.8l1-.1 1 .5 1 2 1.1 8.8-.6 8.9-1.3 4-1.2 1.7-1 .5-1-.2-.4-1-.8-3-.5-6 .5-10.9 1.2-4.1 1-1.1zM235.7 265.6l1-.3 2 1.9 1.4 5.8 0 8.9-.9 4-1.5 3.1-1 .8-1.1-.9-1.1-3-.9-6 .3-8.9 .8-3.7 1-1.7zM172.8 271.6l1 4.8 .4 11.5-.4 15-1 6.9-1.2-4.9-.4-15 .4-13 1.2-5.3zM203.8 304.9l0 1.2 0-1.2zM225.7 304.3l1.3 2.6 .4 6-.4 6-1.3 3.1-1.2-2.1-.5-7 .5-6 1.2-2.6zM182.8 312.9l1 1.4 .3 1.6 .6 10-.7 11-.2 1.2-1.1 1.8-.9-1.4-.5-2.6-.5-9 .7-10 1.3-4zM229.7 320.6l1.1 8.3-.1 3-1 5.3-1-2.7-.2-5.6 .2-5.3 1-3zM160.8 327.7l1.2 1.2 .2 2-.4 1.5-1 .9-1-.7-.5-1.7 .3-2 1.2-1.2z"/>
<path fill="#d06a28" d="M208.8 215.9l1-.1 1.1 2.2 .9 4.8 .1 5.2-1.1 9-1 2.6-1 .7-.6-.3-1.4-1.8-1-2.4-.9-4.8-.1-4 1-7.1 1-2.2 2-1.8zM195.8 223.7l1.3 29.3 .4 39.9-1.7 29.1-1 2.9-.4-4-2.6-19.1-2-7.2-.2-4.7 .5-6 1.7-6.8 .7-5.1 2.3-47 1-1.3zM155.8 237.3l1 3-.2 3.7-.8-2-1 .8 0-3.2 1-2.3zM244.7 249.8l1 1.3 1 3.8 0 13.4-1 3-1 1.2-1 .4-1-.6-1.2-3.3-.5-8 1.3-8 1.4-2.9 1-.3zM154.8 264.8l1 .6 1.1 2.6 .7 10.9-1.2 7-1.6 2.7-1 .5-1-.4-1-3-.5-10.7 .5-5.2 1-3.5 1-1.3 1-.2zM236.7 265.9l1 .6 1.4 2.5 1 7.9-.9 8-1.5 3.4-1 .8-1-.6-1-2.6-1.1-9 .9-7.9 1.2-2.8 1-.3zM172.8 273.3l1 5.7 .2 8.9-.2 12-1 7.9-1-3.9-.5-14 .5-13 1-3.6zM225.7 304.9l1.1 2 .5 6-.4 6-1.2 2.6-1.2-2.6-.4-6 .6-6 1-2zM182.8 314.2l1.2 2.7 .5 9-.6 10-1.1 3-1.2-3-.6-8 .6-10 1.2-3.7zM229.7 321.8l.7 8.1-.5 5-.2 .9-.3-.9-.7-2.9 0-5.1 1-5.1zM160.8 328.4l1 1.3 .1 1.2-1.1 1.8-1-.8-.1-1 .1-1.7 1-.8z"/>
<path fill="#d06a28" d="M208.8 217.4l1-.1 1 2 .6 4.7 0 5-.6 5.8-1 3.1-1 1-1-.6-2-4.5-.5-7.8 .5-4.1 .7-1.9 2.3-2.6zM194.8 231.3l1 .2 1 18.1 .6 38.3-.3 14-1.3 15.8-1 3.1-.2-1.9-4.4-30 2.5-17.9 2.1-39.7zM243.7 250.7l1-.3 1 1.5 1 4.1 0 11.3-1 3.3-1 1.4-1 .4-1-.8-1-2.7-.5-3.9 .4-8 1.1-4.5 1-1.8zM153.8 266.3l1-.3 1 .7 .5 1.3 .7 3 .4 5.9-.6 6.4-1 3-1.5 1.6-.5 .2-1-.6-.5-1.6-.7-7 .3-6.9 .9-4.3 1-1.4zM235.7 266.9l1-.4 1.6 1.5 1.5 6-.2 7.9-1.9 5.7-1 .8-1-.6-1-2.6-.7-4.3 .1-8.9 .6-3.1 1-2zM172.8 275l1 6.9 .1 6-.1 6.8-1 10.9-1-3.6-.3-13.1 .3-9.8 1-4.1zM225.7 305.4l1 1.9 .5 5.6-.5 5.9-1 2.2-1.1-2.1-.4-6 .5-5.6 1-1.9zM182.8 315.6l1 1.9 .5 8.4-.5 9-1 2.8-1-2.1-.5-7.7 .5-9 1-3.3zM229.7 323.9l0 9.5 0-9.5z"/>
<path fill="#e04424" d="M208.8 219.5l1-.1 1 2.8 .1 7.8-1.1 5.7-1 1.3-1-.7-1-1.8-.9-3.5-.2-5 1.1-4.5 2-2zM194.8 237.1l1 1.4 1 17.4 .5 32-.6 17-.9 8.9-1 2.8-.1-.7-2.3-12-.6-10.4-.8-2.6-.2-4 2.2-16.9 1.8-32.9zM243.7 251.3l1-.3 1 1.6 1 4.7 0 8.8-1 3.8-1 1.5-1 .4-1-.8-1-3-.4-3 .4-7.9 1-4 1-1.8zM153.8 267.8l1-.3 1 .8 1.2 6.7-.2 6.3-1 3.9-1 1.5-1 .4-1-.9-.9-6.3 .5-7.9 .4-2.4 1-1.8zM235.7 267.5l1-.3 1.1 .8 1 2 .7 4 0 6.9-.8 3.7-1 2.3-1 .9-1-.7-1.5-6.2 0-7.9 .5-3.2 1-2.3zM172.8 277.1l.7 10.8-.9 14-.8-3.8-.1-11.2 .1-4.8 1-5zM225.7 306l1 2.2 .4 4.7-.4 5.1-1 2.4-1-1.7-.3-5.8 .3-4.9 1-2zM182.8 317.3l1 2.4 .2 6.2-.2 7.2-1 3.1-1-2.6-.2-5.7 .2-7 1-3.6z"/>
<path fill="#f00c0c" d="M194.8 242.8l1 1.5 .3 5.7 1.1 36.9-.6 17-.8 7.6-1.1 2.4-.9-2.8-1.1-7.2-1.6-18 2-14.9 .7-16.5 1-11.7zM243.7 251.9l1-.2 1 1.7 1 5.5-.4 8.1-.6 2.2-1.4 1.8-.6 .2-1-.9-1-3.3-.2-3 .4-7 .8-3.3 1-1.8zM236.7 267.8l1 .7 1 2 .8 6.4-.8 6.7-1 2.6-1 .9-1-.6-1-3.1-.5-6.5 .5-6.2 1-2.5 1-.4zM153.8 270.5l1-.5 1 1 .8 6.9-.8 5.7-1 1.9-.8 .4-1.2-1.1-.5-4.9 .5-7.5 1-1.9zM172.8 280l0 9.7-.3-3.8 .3-5.9zM225.7 306.6l1 2.5 .2 3.8-.2 4.1-1 2.8-1-2-.2-4.9 .2-4 1-2.3zM182.8 320.6l1 5.3 0 3.1-.9 4.9-1-5 .9-8.3z"/>
<path fill="#f00c0c" d="M194.8 249.1l1 1.2 1.3 36.6-.8 18-.5 4.7-1 2.7-.2-.4-.8-2-.9-6-1.4-18 1.9-14.9 .4-11.9 1-10zM243.7 252.5l1-.2 1 1.8 .9 7.9-.9 6.5-1 1.7-1 .4-1.2-1.6-.9-6 .7-7 1.4-3.5zM235.7 269l1-.5 1 .8 1 2.3 .4 2.4-.3 7.9-1.6 4-.5 .5-1-.7-1.3-5.8 .2-6.9 1.1-4zM153.8 275.7l1-.1 1 1.4 0 2.3-1.2 4.6-.8 .7-1-2.7 0-4.7 1-1.5zM225.7 307.3l1 3.2 .1 2.4-.1 2.7-1 3.5-1-2.5-.1-3.7 .1-2.9 1-2.7z"/>
<path fill="#cc0c0c" d="M244.7 252.9l1.2 3.1 .5 7-.7 4.6-1 1.9-1 .4-1-1-.5-1.9-.4-6 .9-5.8 1-2.1 1-.2zM194.8 256.5l1 1.5 1.2 28.9-.7 16-.5 5-1 2.9-1-2.1-.7-4.8-1.3-18 3-29.4zM235.7 269.8l1-.4 1 .9 1.1 3.7-.1 6.9-1.3 4-.7 .8-1-.7-1-4.1-.1-6.9 1.1-4.2zM225.7 308.2l.8 4.7-.8 5.2-.9-5.2 .9-4.7z"/>
<path fill="#8b0000" d="M243.7 253.8l1-.2 .6 1.4 .9 5-.5 6.6-1.5 2.4-.5 .2-1-1.2-.6-5 .4-6 1.2-3.2zM194.8 265.2l1.8 13.7 .3 8-.8 16-.3 3.4-1 3.1-1-2-.5-3.5-1.4-19 .5-6 2.1-9.9 .3-3.8zM235.7 270.8l1-.4 1 1.2 1 4.3-.5 5-.8 3-.7 .9-1-.7-.9-5.2-.1-3.3 1-4.8z"/>
<path fill="#8b0000" d="M243.7 254.6l1-.2 .2 .6 .8 2.1 .3 2.9-.3 5.4-1.4 2.6-.6 .2-1-1.3-.3-2.9 .3-6.8 1-2.6zM193.8 272.7l1-.5 1 2.2 1 9.5-.7 17-.3 3.7-1 3.3-1-1.8-.3-2.2-1.4-18 .3-6 1.4-7.2zM235.7 272.1l1 .7 .9 4.1 .2 4-.7 2-.4 .8-1-.8-.3-2-.2-4 .5-4.8z"/>
<path fill="#edfbfb" d="M136.9 199l1.2 0-.2 8.2-1 0-.2-1.2-.3-7 .5 0zM146.8 199l2.8 0 .2 3 .7-1 .1-2 4.3 0 0 16-2.6 14-.5 13.3-1 5.2-.3-2.5-.8-10-.9-4.3-1-.2-1.4 2.5-.6 5-1.9-6.8-.7-4.2 .5-12 .4-2 1.7-3.7 .7-10.3 .3 0zM161.8 199l2.4 0-.4 11-1-.8-1-10.2zM175.8 199l16.1 0 .8 22-.9 34-1 5-3-17.7-1 .3-2 19.5-1 5.6-2-12.4-1 .3-.1 2.4-1.4 25.9-1.1 12-.4 2-1-1.2-1-5.4-1.9-50.3 .3-12 1-16-.2-14 .8 0zM200.8 199l8.2 0-.1 6-.4 2-1.7 2.6-2 .9-1.5 4.5-1.5 13.2-2.3 12.8-.7 10 2 21.6 1.5-6.6-1.1-10 .3-9 1.1-7 .2-.4 1 1.8 3 8.6 .6 17-.1 15.9 .5 4 2.5-7 1.5-2 1 .5 1.4 3.5 1 7 .2 9-2.2 14-.1 4 .1 2 2.1 7 0 13-1 4-2 3 .4 6-4.2 0-1.3-11-.9-15-.5-1.5-1 .7-2 3.1-1-3.3 1-6.9 1 .3 1-.5 1.3-2.9 .4-5-.4-5-2.5-8-1.8-2.5-1-.6-2 6.5-.4-71.3 .4-8.6 2-20.4zM214.7 199l1.4 0-.4 4.5-.5 1.5-.5 1-.4-4 0-3 .4 0zM218.7 199l1 0-1 2 0-2zM226.7 199l2.5 0-1.3 7-.2 .7-1-2.6-.5-5.1 .5 0zM163.8 220.3l1.3 17.7 1.7 12.6 1 2.9 .8-2.5 .4-4 .8-1.2 1 21.2-.8 10.9-.2 20.3-2-3.7-1 7.7-.5 10.7 .4 14-.9 .2-1 1.1-1 0-1.6-3.3-1.4-5.9-1 .5-1 1.5-2-1.9-1.2 8.8 0 9 1.2 11.5 .8-2.5 .9-1-.7-.1-.7-.9-.1-5 1.8-1.6 .9 1.6 .1 2-.1 3-.8 1 .9 2.1 1 .1 2-12.2 1-.9 1 3.4 1-.3 .5-1.2 .7-7 .3-1 .5-.1 2-9.2 1 4.3 .4 10-2.1 18-22.6 0-.7-8.6-.9 .1-1.2 1.5-.7 3-.3 4-2.6 0-.7-17 2.5-18.6 1-3 1-1.3 1 2 2.9 10.5 1-.4 1.5-11.2 1.7-5 1.5-8 2.3-2.7 3.5-7.3 .9-3 .1-7-2.5-20.9 2.5-10 1.1-19 2.4-8.7zM166.8 272l0 6.9 0-6.9zM239.7 222.8l1-.2 1 1.8 .6 3.6 .4 7-.2 11-2.4 9-.4 3.3-1 2.5-1 0-1-.5-.7-1.3-.3-20.3 1-5.7 1 2.8 .9-2.8 1.1-10.2zM213.7 235.7l1 .8 .3 3.5-.2 5-.6 2-.5 .9-.7-3.9 .7-8.3zM229.7 242.7l1-.4 .3 3.7-.7 23 .4 11.7 1 5.2 1-.1 .2 2.1 1.8 6 1.2 1 1.1 2 1.4 7 .6 14-1.4 23 1.1 1.1 1.5-7.1 .4-6-.2-16 .3-3.2 1-.7 2.1 6.9 .6 6 .1 12 .8 5 1.4 4.2 0 7.8-7 0-7.9 0 .6-7 1.3-4.3 .1-1.7-1.1-12.6-1.6-10.4-.4-21.4-1-1.3-1.7-5.3-1.9-4-1.8-10.9-.6-.8-2 8.2-1 2-2-6.5-1-1.6-1 0-.4-2.3 .3-6 2.8-17 .3-.7 2 1.1 2-.8 .3 .4 .7 2.4 1 9.5 1 3 1 .4 .5-3.3 .3-12 1.2-5.3zM145.8 246.5l.2 5.5 .9 2-1 3-.1-10.5zM149.8 257.5l.8 .5-.8 5.1-.3-1.1 .3-4.5zM147.8 273.4l1 1.9 .9 14.6-.2 2-.7 1.1-1-3.1-.5-7 0-6 .5-3.5zM244.7 275.2l1-.1 1 1.4 0 9.5-1 2.2-1 .4-1.3-2.7-.5-3 .2-6 1.6-1.7zM220.7 287.1l2.1 8.8 .3 8-2 14-1.1 5-1.1 1-1.2-5.1-.5-8.9 1.8-7 1.7-15.8zM186.8 297.2l0 5.3 0-5.3zM187.8 305.9l.4 2 3.6 5.3 .4 4.7-.4 6.3-2 2.5-.6 2.2-.8 21-.1 1-2.6 0-.4-7 .5-14.7 1-9.2 .7-3.1 .3-11zM179.8 307.2l.5 1.7-.5 8-.5-5 .5-4.7zM223.7 322.7l.2 2.2 1.8 2.9 .6 3.1 .2 5-.8 5.2-1-3.2-1.1-6-.3-7 .1-2 .3-.2zM196.8 350.4l0 .5 0-.5z"/>
<path fill="#edfbfb" d="M152.8 199l1.1 0 .4 10-.5 7-.8 2-.2 .5-.5-2.5-.3-5 .5-12 .3 0zM175.8 199l6 0 0 4.5 2.6-4.5 6.8 0 1 23-.4 25.6-1-1.3-1.4-8.3-.6-.2-4 3.3-1 11-2-3-1 1.2-.6 13.7-1.1 19.9-1.3 9.6-1-.7-1-7.3-1.6-44.5 1.6-42zM179.8 204l0 7.4 1 15.6 .4-18-1.4-5zM205.8 199l2.5 0-.1 6-.4 1.8-1 1.2-1-.7-.3-1.3-.1-7 .4 0zM227.7 199l0 .4 0-.4zM148.8 204.2l1 .1 1 3.8 .7 .9 .2 7-1.9 8.6-1.3-.6-.7-1.9-1 .2-1 1.6-.9-.9 0-1.2 1.9-6.1 1.2-10.7 .8-.8zM240.7 230.2l1 1.6 .2 2.2 0 12-1.2 5.8-1 1.2-.5-4 .1-7 1.4-11.8zM162.8 237.7l1 1.2 1 4.8 1 10-.1 9.3-1.3 17.9 1.7 15-1.3 21-1 4.4-.9-1.4-.5-5 1.4-9-.2-9-1.1-14-1.7-5.4-2.1-16.5 .1-2 2.8-11 .3-5 .9-5.3zM202.8 246.9l1-.9 .2 2-.2 8.1-1 .2-.1-.3 .1-9.1zM220.7 252.6l2 .5 .6 1.9 .3 4-1.1 11-.8 3.2-1 .9-1.5-4.1-.6-6 .8-9 .3-1.5 1-.9zM205.8 263.6l.9 6.4-.1 14.9 .4 4 .8 1.1 1.8-7.1 1.2-2.7 1-.9 1 .7 1.1 2.9 1 7 .2 6-.5 6-2.5 13 .3 3 1.7 3 1 4 .3 9-1.2 7-1.4 2.1-.4-.1-1.3-1-.8-2-.5-4.3-1-2.2-.9-16.5-1.1-5-.3-8-1.4-6-.1-4-.2-.7-1 .7-1-.2-1.5-2.8-.5-3.4-1 1.5-1-.2 0-21.3 1.1 6.5 .9 1.7 .4-3.7 1.6-4.6 1.6-1.4 1.4-2.4zM244.7 275.4l1 0 1 1.9 0 7.6-1 2.4-1 .3-.5-.7-1.2-4 .1-5 1.6-2.5zM157.8 294.7l.6 2.2-.6 2.6-.5-2.6 .5-2.2zM233.7 296.8l1-.9 1 .1 1 1.6 1.2 5.3 .5 5-.2 21-1.1 9-1 3-.4 .6-1.5-4.6-2.3-22 .4-13 .4-3.2 1-1.9zM153.8 308.3l1.5 3.6 .2 3-.2 3-1.5 3.8-1.6-1.8-.3-5 .4-5 1.5-1.6zM189.8 314.2l1-.2 .7 1.9 .3 2.1-.5 .9-.5 .8-.8-1.8-.2-3.7zM142.9 317.6l1 .4 .5 1.9 1.1 6 .5 5-.6 4-2.5 4.8-.8 3.2-.2 2-1-.1-.4-10.9 1.2-12 1.2-4.3zM148.8 330.7l1 .2 .5 2 1.1 12 .2 6-1.8 0-2.5 0 0-16 .3-2 1.2-2.2zM186.8 331.7l0 5.6 0-5.6zM158.8 337.7l.8 1.2 0 4-.8 1.6-.8-.6-.9-1-.1-3 .2-1 1.6-1.2zM243.7 341.7l1 0 2 6.2 0 3-1 0-2.8 0 .8-9.2zM153.8 343.9l1-.3 .4 7.3-.4 0-1.3 0 .3-7zM162.8 344.7l2-.6 1 .8 .7 6-.7 0-3.6 0 .6-6.2zM234.7 346.8l2-.5 .2 .6 .6 4-1.8 0-2.2 0 .2-3.1 1-1z"/>
<path fill="#dfe6f7" d="M176.8 199l1.2 0 1 7 1.8 30.4 1.1-3.4 .1-21 1-8 2.1-5 5 0 .3 2 1 14 .1 13-2.6 7-2.1 2.8-1 .7-1-.4-2.1-2.1-1.5 6-.4 1-2 40.9-1 6.5-1-.8-.7-5.7-.8-11.9-.7-34 1.7-36 .5-3zM206.8 199l.6 0-.6 6.2-.4-6.2 .4 0zM149.8 205.7l1.2 8.3-1.2 8.9-1-.5-.4-1.4-.4-6 .5-8 .3-1 1-.3zM240.7 240.9l0 3.4 0-3.4zM162.8 250.7l1 1 .7 2.3 .2 12-.9 9.6-1 3.1-1-.8-1.2-4.9-.9-10 .9-7 1.2-4.2 1-1.1zM220.7 258.1l1 1.3 .3 2.6-.3 4.4-.6 1.6-.4 .5-.2-.5-.7-4 .1-3 .8-2.9zM202.8 268.7l1-.5 .6 .8 1.1 2 .2 2-.2 15.9-1.7 3.9-1-.1-1.3-2.8-1.1-8 .8-7.9 1.6-5.3zM244.7 275.7l1.2 .2 .8 2.3 0 5.8-1 2.7-.8 .2-1.4-2-.5-4 .2-3 1.5-2.2zM211.8 280.5l1.3 1.4 1.1 4 .5 11-.6 6-1.3 6.5-1 2.5-1 .5-.4-.5-2.4-5-1.1-5 0-4 2.5-13 1.4-3.6 1-.8zM234.7 297.3l1-.2 1.4 2.8 .9 6 .4 7-.4 16-1.2 8-1.1 2.1-1.2-3.1-1-7-.9-15 .4-11 1.7-5.6zM152.8 309.9l1-.7 1.3 4.7-.8 6-.5 .8-1-.6-.6-2.2-.1-5 .7-3zM211.8 318.9l1 .1 1.1 1.9 1.3 7-.1 8-.8 4-1.1 2-.4 .5-1.6-1.5-1.2-5-.1-14 1.9-3zM142.9 325.9l0 4.6 0-4.6zM148.8 338.3l1 2.1 .2 1.5 .3 9-.5 0-1.6 0 .6-12.6zM157.8 338.3l1-.3 .7 .9 0 4-.7 1.1-1-.4-.7-1.7 0-2 .7-1.6zM244.7 347.4l.8 3.5-.8 0-.4 0 .4-3.5z"/>
<path fill="#c9ebe3" d="M185.8 199l2.3 0 1.3 2 .9 4 .6 9 0 7-.6 7-1.4 5-1.7 3-1.4 .9-1-.6-1.3-2.3-.9-4-.3-5 .4-16 1-5 2.1-5zM176.8 202.9l1-.3 1 7.6 1.7 28.8-1.3 36-1.3 11.9-.1 .8-1-1-1-9-.9-34.7 .2-14 1.7-26.1zM148.8 207.6l1-.5 .6 3.9 .1 6-.7 4.5-1-.7-.4-2.8-.1-6 .5-4.4zM162.8 253.5l1.3 4.5 .1 9-1.1 8-.3 .9-1-.4-1.1-4.5-.5-8 1.1-7 .5-1.7 1-.8zM202.8 269.7l1-.4 .3 .7 1.1 3 .3 2.9-.2 11-1.5 4.9-1 0-.9-1.9-.9-6 .3-8.9 1.5-5.3zM244.7 276l1 .1 1 3 0 3.9-1 3.2-1 .4-1-1.8-.4-1.9 .1-5 1.3-1.9zM211.8 281.5l1 .8 1.1 3.6 .6 10-.5 6-1.2 6-1 2.4-1 .1-1.5-2.5-1.1-4-.3-8 1.5-10 1.4-3.5 1-.9zM234.7 298.5l1-.4 1.1 1.8 1.4 12-.3 15-1 8-.8 2-.4 .5-1.3-3.5-1.4-15 .2-14 1.5-6.4zM152.8 310.6l1-.7 .8 3 .1 4-.9 3.1-1-.7-.5-2.4 .1-4 .4-2.3zM211.8 319.8l1-.2 .9 1.5 1.4 6.8 0 7-1.5 6-.8 .9-1-.6-1.7-6.3 0-11 1.7-4.1zM157.8 338.6l1-.4 .5 .7 .2 3-.7 1.9-1-.4-.6-1.5 0-2 .6-1.3z"/>
<path fill="#c9ebe3" d="M186.8 199.3l2 2.3 1 3.2 .7 7.2 .1 8-.4 5-1.2 6-1.2 2.8-1 1.3-1 .4-1.5-1.5-1.2-4-.5-13 1.1-11 2.1-5.9 1-.8zM177.8 207l1.1 10 1.3 25-1.2 33-1.2 10.3-1-1.3-1-10-.8-34 .4-12 1.4-19 1-2zM149.8 208.8l.3 9.2-.3 1.9-1-.8-.1-8.1 .1-1.5 1-.7zM161.8 256.8l1-.6 1 5.6 0 3.3-1 7.5-1 .1-1-5.7 0-5.3 1-4.9zM202.8 270.6l1-.3 .3 .7 1.2 5.9-.2 9-1.4 5-.9 .1-.9-2.1-.7-5 .2-8 1.4-5.3zM244.7 276.3l1 .2 .3 .4 .7 4-.6 4-.4 .8-1 .4-1.1-2.2-.3-3 .3-3 1.1-1.6zM211.8 282.5l1 .9 .9 3.5 .6 9-.4 5-1.1 5.9-1 2.2-1-.1-1.2-2-1-4-.4-7 1.3-9 1.3-3.5 1-.9zM234.7 299.6l1-.6 1 1.9 1.4 12-.5 15-.9 6.4-.9 1.6-1.1-2-.5-3-1.1-13 .2-11 1.4-7.3zM153.8 310.6l.7 5.3-.5 3-.2 .4-.4-.4-.7-1-.2-4 .3-2.4 1-.9zM211.8 320.4l1-.3 .9 1.5 1.4 7.3-.5 8-.7 3-.7 1-.4 .5-1.4-1.5-1.3-6 .2-9 1.5-4.5zM157.8 338.8l1-.5 .6 1.6 .1 2-.7 1.7-1-.5-.5-1.2 0-2 .5-1.1z"/>
<path fill="#a8d3e6" d="M186.8 200.5l1.9 2.5 .8 3 .8 12-.9 10-1.6 4.5-1.4 1.5-.6 .2-1-.9-1.2-3.3-.7-11 .9-11.5 1.7-5.5 1.3-1.5zM177.8 211.2l1 8.3 1.2 22.5-1.1 32-1.1 9-1-1.5-.8-8.5-.8-33 .6-14.9 1-10.9 1-3zM148.8 212.8l.4 2.2-.4 .9 0-3.1zM202.8 271.4l1-.2 .3 .8 1.1 5.9-.2 7-1.2 5.2-1.2-.2-.8-2.6-.4-3.4 .1-7 1.3-5.5zM244.7 276.6l1.1 .3 .7 4-.6 4-1.2 .8-1-2.1-.3-2.7 .3-2.7 1-1.6zM211.8 283.5l1 1 .9 4.2 .3 8.2-1.2 8.7-1 2.2-1-.1-1-1.8-.8-3-.5-7 1.3-8.7 1-2.8 1-.9zM235.7 299.9l1 1.9 .6 3.1 .7 12-.8 13-.5 3-1 1.8-1-2.2-.7-4.6-.8-13 .7-11 .8-3.3 1-.7zM153.8 311.4l.3 5.5-.3 1.6-.5-.6-.5-1 0-4 1-1.5zM212.8 320.6l1.5 3.3 .7 7-.7 7-.6 1.8-.9 1.2-1-.7-.8-2.3-.9-8 .9-7 .8-1.9 1-.4zM158.8 338.5l.6 1.4-.2 3-.4 .5-.9-.5-.5-3 .4-.9 1-.5z"/>
<path fill="#5aa7e6" d="M186.8 201.8l1.6 2.2 .9 3 .8 10-.8 10-1.3 4-1.2 1.6-1 .4-1-1.1-.7-1.9-.7-4-.2-6 .8-11 1.7-6 1.1-1.2zM177.8 215.3l1.1 9.7 .8 19-.9 27.3-1 9.3-.4-.7-.6-1-.6-7.9-.8-32 .4-10.7 1-10 1-3zM202.8 272.3l1-.2 1.2 5.8-.2 7-1 4.3-1 .1-1.2-5.4 .1-7 1.1-4.6zM244.7 276.9l1 .3 .6 3.7-.6 3.9-1 .5-1-2.4-.1-2 .1-2 1-2zM211.8 284.5l1 1.1 .3 1.3 .8 7-.7 8-1.4 4.8-1-.2-1-2-1-7.6 1-8.3 1-3.1 1-1zM235.7 300.7l1 2.1 .5 3.1 .6 11-.9 13-1.2 3.6-1-2.3-.5-3.3-.9-13 .9-11 .5-2.3 1-.9zM153.8 312.8l0 4.4-.5-2.3 .5-2.1zM211.8 321.5l1-.5 .9 1.6 1.1 6.3-.3 7-1.2 4-.5 .6-1-.8-1.4-5.8 0-7 1.4-5.4zM158.8 338.7l.5 3.2-.5 1.3-.6-.3-.7-1 0-2 1.3-1.2z"/>
<path fill="#5aa7e6" d="M186.8 203.2l1 1 1.3 3.8 .7 9-.6 9-1.2 4-1.2 1.6-1 .1-1-1.2-.5-1.5-.8-9 .3-7 .8-5 1.2-3.8 1-1zM177.8 219.4l1 8.9 .6 14.7-.6 21.3-1 13.6-1-1.8-.2-3.1-1-33 .2-7.8 1-10.4 1-2.4zM202.8 273.3l1-.3 1 5.3-.1 4.6-.9 5.4-1 .1-1-4.5 0-5.5 1-5.1zM244.7 277.3l1 .4 .4 3.2-.4 3.4-1 .6-1-4 1-3.6zM211.8 285.6l1 1.2 .4 2.1 .3 7-.7 7.1-1 2.5-1-.2-1.4-4.4-.2-6 .6-4.8 1-3.4 1-1.1zM235.7 301.6l1.3 4.3 .6 11-.9 13-1.1 2-.9-2-.4-3-.8-12 .7-10 .5-2.3 1-1zM212.8 321.4l.9 1.6 .5 1.9 .6 6-.6 6-.5 1.9-.9 1.3-1-.9-.7-2.3-.7-7 1-7 .4-.9 1-.6zM158.8 338.9l.4 3-.4 1.2-.3-.2-.7-.5-.3-1.5 .3-1.4 1-.6z"/>
<path fill="#4a72ee" d="M186.8 204.7l1.2 1.3 1.2 4 .4 10-.5 5-1 4-1.3 1.7-1-.3-1-1.5-.6-2.9-.4-8 1.1-9 .9-3 1-1.3zM177.8 223.7l1 9.1 .3 9.2-.3 12-.7 4-.3 16.8-1-2.7-.1-17.1-.8-15 .9-14.8 1-1.5zM202.8 274.4l1-.4 .6 3.9 0 5-.6 4.3-1 .1-.7-4.4 .7-8.5zM244.7 277.7l1.1 1.2 0 4-.4 1-.7 .4-.6-2.4 .6-4.2zM211.8 286.9l1 2 .4 8-1 6-.4 1.3-1-.2-1.1-3.1-.2-6 1.3-6.7 1-1.3zM235.7 302.5l1.3 4.4 .4 10-.7 11.4-1 2.5-.3-.9-.7-1.4-.4-3.6-.6-11 .7-9 .3-1.3 1-1.1zM212.8 321.8l.9 1.7 .6 2.4 .3 7-.9 5.5-.9 1.3-.9-.8-1.2-5-.1-5 1-6 1.2-1.1zM157.8 339.7l1-.6 .3 .8-.3 3-1.1-1 .1-2.2z"/>
<path fill="#2171d6" d="M186.8 206l1 .5 1 2.8 .7 7.7-.7 8.7-1 3.3-1 .9-1.2-.9-.8-2-.7-7 1.1-10 1.6-4zM176.8 228.9l1-.3 1 11.9 0 3.6-1 3.4-1 1.1-.3-4.6 .3-15.1zM203.8 275.3l.2 8.6-.2 1.9-1-.6 0-8.9 1-1zM244.7 278.4l1 1.1-.2 3.4-.8 .7-.1-.7 .1-4.5zM211.8 289l1 1.9 .1 3-.1 4.5-1 4.1-1-.3-.9-5.3 .9-5.4 1-2.5zM235.7 303.4l1 2.8 .5 8.7-.5 11.5-1 2.8-1-2.3-.8-12 .6-9 .2-1.2 1-1.3zM212.8 322.2l1.2 2.7 .5 7-.8 6-.9 1.4-.5-.4-.5-.6-.7-2.4-.5-6 .8-6 .4-1 1-.7zM158.8 339.3l0 3.3-.9-.7-.1-1.8 1-.8z"/>
<path fill="#2171d6" d="M186.8 207l1 .5 1 2.9 .6 6.6-.6 7.7-1 3.5-1 1-1.6-2.2-.7-7 .7-8 1.6-5zM176.8 235.1l0 5.1 0-5.1zM203.8 277.9l0 2.1 0-2.1zM235.7 304.4l1 3.3 .3 6.2-.3 9.6-1 3.7-1-1.9-.6-10.4 .6-9 1-1.5zM212.8 322.6l1.1 2.3 .5 6-.5 6-1.1 2-1.3-2-.7-6 .5-6 .5-1.5 1-.8zM158.8 339.6l.2 2.3-.2 .5-.6-.5-.4-1.1 1-1.2z"/>
<path fill="#1c4f8f" d="M186.8 208l1 .3 .6 1.7 .8 6-.4 7.7-1 3.8-.5 .5-.5 .4-1.1-1.4-.8-6 .5-8 1.4-5zM235.7 305.6l1 4.2 .1 7.1-.5 3-1.2 3-.4 .3-.2-2.3-.2-9 .4-4.8 1-1.5zM211.8 323.9l1-.9 .9 1.9 .5 3-.1 7-1 3-.3 .6-1-1.1-.7-3.5-.2-5 .9-5zM158.8 339.8l0 2.3-.5-1.2 .5-1.1z"/>
<path fill="#17186e" d="M186.8 209.1l1 .1 .3 .8 .9 6-.2 6.4-1.3 4.6-.7 .7-1-1.6-.6-4.1 .3-8 1.3-4.9zM235.7 306.9l.6 7-1.6 6.6-.1-10.6 .1-1.2 1-1.8zM212.8 323.5l.9 2 .5 5.4-.5 5.4-.9 1.7-1.1-1.1-.7-6 .6-6 1.2-1.4z"/>
<path fill="#17186e" d="M186.8 210.1l1 0 1 4.9 0 5.8-1 5.2-1 .9-.6-.9-.8-4 .3-7 1.1-4.9zM235.7 309.3l0 2.6-1 4.6 0-5.2 1-2zM212.8 323.9l.9 2.3 .4 4.7-.4 4.7-.9 2-1-1.2-.6-5.5 .5-6 1.1-1z"/>
<path fill="#fff" d="M111.9 341.6L239.7 341.6L240.7 350.9L111.9 350.9Z"/>
<path fill="#fdeee2" d="M299.3 199l3.7 0-.7 33-3-13.8-1.1 3.8-1.4 10-1.5 14.2-1 .6-.9-5.8 .5-14 1.3-10 3.1-12.3 .2-5.7 .8 0zM307.2 199l2.6 0 1.2 11 0 8-.8 4.7-.4 .3-.6 .2-.4-1.2-1.3-7-.6-12-.1-4 .4 0zM322.2 199l1.8 0 .2 6.2 1 4.4 1.5-3.6 .6-7 3.5 0-.4 4-1.9 7-.8 6 0 7 1.1 11-.5 14 .7 16-1.8 8.7-.2 5.2 .8 11 1.2 5 1.7 4 0 11-.5 2.1-1-.8-2-8.5-1.3-13.8-2.6-8 .9-15.9-.9-42-1.6-11 .1-12 .4 0zM332.2 199l2.9 0-.5 23 1.2 20-1.6 11 0 13-.8 5-.2 1.3-1-1.1-.6-4.2-1.2-30 1.1-38 .7 0zM338.2 199l2 0 0 6.2-1 9.8-1.4-11-.2-5 .6 0zM355.2 199l2.3 0 .1 3 .6 1.3 1.1-4.3 12.9 0 2 18.5 .9 3.1 1.6-12.6 1.4-5.8 1.4 6.8 0 6-1.4 9.7-1 1.2-1-1.9-.3 1-1.5 17-1.1 2.8-2-8.3-3 4.5-1 1-2 1-1-.3-1-1.6-2-5.5-1-1.5-1-.8-2 2.4-2-5.3-.1-1.4 .1-30zM391.1 199.6l.1-.6 6.7 0 1.2 8.5 1-.1 1-.4 .9-2 .4-6 2.3 0 .3 16-.9 16 .1 7 .5 2 .4 .2 2-1.8 1 .8 0 30.6-1.6 2.2-1.4 7.2-.9-1.3-.6-34.9-.9-5-1.6-3.7-1.3 1.7-.6 5-.6 13 .5 8.8-2-6-1-1-1.5 13.2 1.7 3 1.2 3.9 0 7-.8 3-.6 1.2-1 .5-1.7-1.7-1.2-3-1.8-17.9-3.2-23-2.3-7-.7-8 .3-8 1.4-7 2.2-7.5 1 2.5 1 .3 1-7.7zM394 233l-.7 3 .2 5 .6 5.7 1 4.2 .5-1.9 .6-12-.7-3-1.5-1zM382.1 203.6l0 10.4-1 1.8-.4-6.8 .4-3.1 1-2.3zM408.1 205l0 23-1.4-7-.4-6 .5-5 1.3-5zM347.2 237.4l1.1 7.6-2 15 .9 .5 1-1 .5-1.5 .5-6 1-.7 1.7 9.7 2.3 6.4 .5-1.4 .8-11 .7-2.5 1-.7 1 .9 .9 3.3 .1 9.6 .3-1.6 1.7-1.2 1 .2 2.7 4 .8 12.9-1 11 1 14-3 9-1.5 9.5-2 4.9-1 3-2-6.8-1 .4-1.1 6-3.6 11-.3 9-1.8 0 .3-7-3.4-7-1.5-7-.3-6 .3-5 1.2-7 2.1-6-2.2-5-1.2-5-1.3-7-.7-8 .9-7.9 2.3-13 .3-7.2 .8-3.8 .2-10.9 1-.7zM355.1 295.9l-.4 6 .5 4.9 1 3.1 .1-9-1.2-5zM350.1 302.9l-2.7 3 4.5 10 .3 .9 .7-1.9-.2-10-1.5-2-1.1 0zM317.2 241.6l.7 5.4 0 9 2.8 17 .9 11.9-.8 10-1.1 8-1.5 5.1-2 1.3-.5 5.6 2.5 14.7 1 3.3 1.8 3 0 1-1.8 1.2-.7 1.8 .3 3 1.8 2-.2 6-4.8 0-.4-3.6-1-.4-1-3.9-1.4 1.9 0 6-4.4 0-.7-15-3.4-10.8-1 .1-1 1.6-2 6.8-2.5 5.3-1.1 5-.2 7-1.6 0 .4-8.6 2.4-14.4-1.1-8-.5-13-3.4-10 .2-5 1.4-9.1 1-.1 1-6.1 1.1-19.6 .9-2.8 1 1.8 1 5.1 1-.8 0 .7 0 3.3-1 4.2-.1 5.5 1.1 27.8 1-3.3 2.6-17.6 1.4-3.2 1.2 23.2 .7 6 2.1 8 1.2 15 .7 .9 2 .2 .1-7.1-.8-14 1.1-15-1.5-20.9 .4-10 .9-7-1-4 2.3-8 1.5-2.9 1-.5zM382.1 269.2l1 1.9 2.5 7.8 .9 8-.9 9-2.3 10 .3 6-.5 7.1-1 1.6-4-7.8-.8-21.9 .2-7 .8-5 2.8-8.3 1-1.4zM371.2 273.6l1 .3 1 1.1 1.2 2.9 1.1 12-1.2 9-2.1 5.2-1 .6-.5-.8-2.6-4-1.4-3-.8-7 .5-7 1-4 1.5-3 2.3-2.3zM334.2 280.6l1 1.3 1.6 4 1 6-1.2 17-1.4 5.7-1 .2-1.4-2.9-1.5-8 .4-16 1.1-6 1.4-1.3zM402.1 305.8l1 1.4 2.3 24.7-.6 19-.7 0-3.3 0 .2-28 1.1-17.1zM338.2 320.4l1 .7 .6 2.8 1 14 1.8 11 .1 2-1.5 0-3.5 0-.9-25 .3-4 1.1-1.5zM391.1 328.3l1 2.9 .5 4.7 0 4-.5 2.4-1 0-.2-.4-.5-3-.1-7 .8-3.6zM326.2 329.5l1-.3 .3 .7 .7 3 0 3-1 5.7-1.7 4.3-.2 4 0 1-.3 0 .2-12 1-9.4zM376.1 329.5l.7 4.4-.7 5.6-.4-3.6 .4-6.4zM397.1 343.2l1 .1 .2 .6 .6 7-2.8 0-1.4 0 .2-3 .8-3 1.4-1.7zM372.2 344l0 6.9 0-6.9zM335.2 347.5l.1 3.4-1.1 0 0-1.6 1-1.8zM388.1 348.6l0 2.3 0-2.3z"/>
<path fill="#fdeee2" d="M300.3 199l2 0 0 11-.8 5-.2 .8-.2-.8-1-7-.2-9 .4 0zM333.2 199l.5 5 .6 35-1.1 18.8-1-.2-1.2-24.6 1.1-24 1.1-10zM360.2 199.3l11.4-.3 1 8 1.7 24-.1 3.5-1 3.6-1-3.5-1-.3-.5 .7-3.5 5.2-2 1-1-.1-1-1.5-2-5.6-2.5-5-1.2-6 0-8 1.1-10 1.6-5.7zM392.1 199.6l.1-.6 3.3 0 1.6 7.1 1.4 11.9-3.4 8.3-1-.8-1-2.3-1-.9-.3 12.7 1.5 13 .5 9-.7 8.7-1 .9-.3-1.6-1.7-8.1-2.3-15.9-2.7-8-.6-8 .9-9 1.7-6.3 1-.8 1 1.4 1 2.9 .8 .8 .2 2.4 1-16.8zM408.1 209.4l0 14.7-.8-8.1 .8-6.6zM402.1 212.9l1 .3 .1 8.8-1.1 4.8-1 .2-1.4-3-.5-5 .9-4 1-1.8 1-.3zM325.2 227.3l1 0 1.3 9.7 .1 21-.4 3.8-.9 2.2-1.1-3.1-.8-11.9 0-14 .8-7.7zM406.1 239.8l1-.6 1 .9 0 28.7-1 1.3-1 .3-.9-1.4-.8-3-.6-12 .4-10 .5-2 1.4-2.2zM316.2 253.5l1 2.2 2.5 13.3 .9 8.9 .1 7-.7 8-1.8 9.6-1-.1-1-2.7-1.4 4.2-.6 4.1-.1-1.1 .1-6.8 .5-1.2-1.9-16-.4-10.9 1.2-11 2.6-7.5zM350.2 259.4l1 1.6 4 12.1 .8-1.1 .2-7.5 .2 11.4 .8 6.9 1.4-12.8 1.1-4 1.5-2.1 1 0 1.5 2.1 .8 2 .8 10.9-.6 8-1.3 7 .8 8 0 2.5-.8 2.5-.2 .4-.5-.4-.3-1-.7-11-1.8-3-.7-2.5-.8-.5-.2-5 0-1-.7 1 0 2 1.2 8 .8 11 1.9 4-.2 4.7-1 1.7-1-4.8-.5-7.6-.5-.7-2-14.2-1 2.8-2 10.5-1 .7-2-.2-2 1.5-1 0-1.8-3.4-1.6-7-.9-7-.1-6 .7-6.9 1.2-6 1.1-3 4.4-4.6zM297.3 261.8l1 4.8 1 40.1 1 4.3 4-21.5 1 5.3 1 14.9 1.9 12 .6 7.2 .7 3 .7 .3 1-.7 1 .1 1.3 1.3 .6 1 .1 2-.3 5-1.3 2-1.4 1-.4 1 .1 6-2.8 0 0-18-.5-6-3.2-6-1.1-.9-2-.3-3 4.8-1 .1-.8-2.7-.8-7-.5-22 1.1-21.3 1-9.8zM394.1 271.1l1-.1 1 1.3 1.2 4.6 0 5-1.2 4.2-1 .7-1-.9-1.6-5-.1-5.9 .9-3 .8-.9zM381.1 272.8l1-.8 1 1 1 2.4 1.4 5.5 .5 5-.2 6-1 6-1.7 4.9-1 .5-2 .1-1.2-1.5-1-5-.3-5 .1-7 .8-5 2.6-7.1zM371.2 274.6l1.7 1.3 1.2 3 1 10-.3 5-.8 4-1.8 4.6-1.2 .4-2.2-3-1.3-3-.8-4-.2-4 .3-5 .8-4 1.6-3.4 2-1.9zM334.2 282.1l1 1.1 1.2 3.7 .7 8-.6 12-1.3 5.7-1 .6-1.5-4.3-1-12 .9-11 .6-2.5 1-1.3zM347.2 308.4l1 .5 2.5 6 1.8 6 .3 3 0 5-.9 5-1.7 6-1 1.5-3.6-5.5-1-4-.6-5 0-5 .7-6 1.2-5 1.3-2.5zM403.1 316.6l1 5.1 .8 12.2-.5 17-1.3 0-1.6 0 .6-29.9 1-4.4zM315.2 325.9l1-.1 2.6 11.1-.4 2 .1 4 1.3 2-.1 6-.5 0-2.4 0-.3-9-1.8-5 0-6 .5-5zM391.1 329l1 3.4 .3 3.5-.3 5.3-1-.2-.6-3.1 0-6 .6-2.9zM339.2 331.3l.5 6.6 1.6 10 .2 3-.3 0-2.7 0 .1-15 .6-4.6z"/>
<path fill="#fddcaa" d="M361.2 199l9.8 0 .4 2 1.3 13 .2 15-.1 1-4.6 7.8-2 1.6-2 .4-1.2-1.8-4.3-13-.5-7 .4-9 1-6 1.6-4zM393.1 204.3l1 1.2 .9 6.5 0 2-.9 1.3-1.1-3.3 .1-7.7zM388.1 210.4l1.4 2.6 1.4 7 .2 8-.7 11 1.7 6.8 .4 6.2-.4 5.2-1-1.2-2-15-3.1-6-1.2-7 .1-6 .8-6 1.4-4.9 1-.7zM332.2 232.2l1 .1 .2 7.7-.3 6-.9 .7 0-14.5zM326.2 237.8l.3 11.2-.4 5-.9-5.1-.1-5.9 .1-3.2 1-2zM407.1 239.9l1 .9 0 27.2-1 1.2-1.2-.2-1.1-3-.6-4-.2-13 .9-6 1.2-2.5 1-.6zM316.2 257l1 1.3 1.6 7.7 1.1 7 .3 7.9-.3 7-.7 4.5-1 2.8-1 1-1 .2-1-.6-1-3.2-1.1-9.7-.5-7.9 .3-7 .8-5 1.5-5 1-1zM349.2 261.9l1-.5 1 1.3 1.5 4.3 2.1 8 .6 6.9-.6 8-1.6 8.9-1 1.7-3 1-1 .5-1-.2-1.8-3.9-1.7-9-.4-7 .4-6.9 1.3-7 1.2-2.8 3-3.3zM361.2 264.7l1-.1 1.5 2.4 .9 3 .4 5-.6 11.9-.9 4-1.3 1.9-1-.4-1.4-2.5-1.1-4-.4-5 .5-9.9 1-4 1.4-2.3zM395.1 271.7l1.4 2.3 .7 4.9-.5 5-.6 1.5-1 .8-1-.9-.6-1.4-.8-6 .9-4.9 .5-.9 1-.4zM382.1 273.5l1 .9 1.6 4.5 .9 5 .1 5-1.6 10.1-1 2.2-2 .7-1-.2-1.4-2.8-.7-5-.1-6 1.2-9 2-4.7 1-.7zM371.2 275.6l1.6 1.3 1.2 3 .8 9-1 8-1.6 4.3-1.1 .7-1-1-2.1-4-1.1-8 .3-5 .8-4 1.2-2.4 2-1.9zM297.3 282.6l1 1.7 .9 30.6-.6 6-.3 .9-1 .3-1.2-7.2-.3-21 .5-10.9 1-.4zM334.2 283.4l1 1 1.2 4.5 .5 7-.9 12-.8 3.3-1 .6-1.4-4.9-.7-10 .7-10 .4-1.9 1-1.6zM304.3 299.2l.6 11.7-.6 3.8-1.1 .2-.9-3 0-4.1 1-7.5 1-1.1zM347.2 309.8l1 .2 1.3 2.9 2.1 7 .5 4-.5 9-1.4 5.2-1 1.5-1-.6-2-3.2-1-3-.7-4.9 .3-10 1-5 1.4-3.1zM391.1 329.9l1 3.9 0 6.4-1-.3-.3-2-.1-5 .4-3zM403.1 330.1l1 2.4-.3 18.4-1.6 0 .9-20.8zM311.2 332.1l1 .1 .7 .7 1 3-.1 4-.9 2-1.2 1-.5 .3-1-.5-.7-.8-.1-1 .2-7 1.6-1.8zM318.2 345.5l0 5.4 0-5.4zM309.2 347.1l0 3.8 0-3.8zM340.2 348l0 2.9-.8 0 .8-2.9z"/>
<path fill="#f3a466" d="M362.2 199l8.3 0 1 5 .9 13 0 9-.9 4-2.3 5-1.5 2-2.5 1.6-1 0-1-1.4-3.4-10.2-.8-4-.4-7 .6-8 1.3-6 1.1-3 .6 0zM388.1 211.6l1.3 2.4 1 5 .4 8-.3 5-1 5-.4 .7-1 .2-.6-.9-1.9-5-.6-8 1.1-8.6 1-3.1 1-.7zM407.1 240.6l1 .9 0 25.8-1 1.2-1.2-.5-1.5-6-.3-12 .8-6 1.2-2.8 1-.6zM316.2 258.7l1 1.4 1.5 6.9 1 7 .2 6.9-.3 6-.7 4-1.4 3-1.3 .8-1-.7-1-3.4-1.3-15.6 1-11 1.3-4.3 1-1zM350.2 262.8l1.4 2.2 2.1 7 1 5.9 .1 7-1 9-1 4-.6 1.3-4 1.7-1-.4-1-1.8-1.3-4.8-1-8-.1-7 .8-6.9 1.1-4 3.5-4.7 1-.5zM361.2 265.4l1-.1 1.2 1.7 1.1 4 .4 4-.5 10.9-1 4-1.2 1.8-1-.3-1.3-2.5-1.4-8 .4-8.9 .9-4 1.4-2.6zM394.1 272.8l1-.5 1 1.3 .9 4.3-.3 5-.6 1.8-1 .9-1.3-1.7-.7-4 .1-4 .9-3.1zM382.1 274.8l1 .7 1.3 3.4 .8 5 .2 5-1.3 8.7-1 2.3-2 .8-1-.3-1.2-2.5-.7-5-.1-5 1-8 2-4.5 1-.6zM371.2 276.5l1 .6 1.3 2.8 1 8-.8 8-1.5 4.1-1 .9-1.1-1-1.9-4-1-7 1-8.1 1.3-2.9 1.7-1.4zM334.2 284.6l1 .9 .4 1.4 1 7-.2 9-1.4 7-.8 .6-1-2.8-.8-8.8 .4-10 .4-2.4 1-1.9zM297.3 290.8l.5 3.1 0 7 .9 9-.4 9-1 .3-1-8.3 .6-10-.3-7 .7-3.1zM347.2 311l1 .2 1.2 2.7 1.5 5 .8 5-.4 8-1.1 4.6-1 1.7-1-.5-2-3.3-1.4-7.5 .3-9 1.1-4.8 1-2.1zM391.1 330.9l1 4.5 0 3.7-1-.4-.1-.8 .1-7zM311.2 332.5l1.3 .4 1.2 3-.3 4-1.2 2.3-1 .4-.8-.7-.8-2 .1-5 1.5-2.4z"/>
<path fill="#f3a466" d="M362.2 199l7.8 0 1.2 6 .8 12-.2 9-1.8 6-2.8 4.3-2 1.3-1 0-1-1.5-2.8-9.1-1-5-.3-6 .4-7 .9-5 1.8-5zM388.1 212.8l1.6 4.2 .8 8-.8 9-.6 2.1-1 .6-2-3.9-.8-6.8 .8-9.1 1-3.4 1-.7zM406.1 241.9l1-.7 1 1 0 24.4-1 1.2-1-.3-.9-2.5-1-8 .3-10 1.6-5.1zM316.2 260.2l1 1.5 1.2 5.3 1.3 12.9-.8 9-1.2 3-1.5 1.4-1-.8-1-3.7-1.1-13.8 1-10 1.1-3.8 1-1zM349.2 264.5l1-.5 1 1.2 1.4 3.8 1.2 5 .7 7.9-.5 8-1 6-.8 2.1-3 1.5-1 .4-1-.6-1.4-3.4-1.2-6-.5-8 .4-6.9 1-5 .8-2 2.9-3.5zM362.2 265.9l1.3 2.1 .8 3 .5 8.9-.5 5-.9 4-1.2 2-1-.3-1.3-2.7-.8-4-.4-8 1.4-7.9 1.1-1.9 1-.2zM395.1 272.9l1.2 2.1 .5 3.9-.4 4-.3 1.2-1 .9-1.3-2.1-.5-4 .6-4.9 1.2-1.1zM382.1 275.9l1 .8 1.2 3.2 .8 9-1.2 8-.8 1.8-2 .8-1-.4-1-2.2-.7-5 0-5 1.1-7 1.6-3.4 1-.6zM370.2 277.9l1-.4 1.4 1.4 1.5 6-.2 8-1.7 6-1 1-1-.8-1.6-3.2-.9-4-.1-5 .4-4 .9-3 1.3-2zM334.2 285.7l1 1 .3 1.2 .9 7-.3 8-.9 5.5-.6 .5-.4 .4-1-3.3-.6-8.1 .5-9 1.1-3.2zM297.3 304l1 4.9 0 4.3-1-.3-.3-2 .3-6.9zM347.2 312.2l1 .1 1 2.1 2.1 9.5-.4 8-.7 3.1-1 1.9-1-.4-2-3.6-1-5 .2-9 .8-4.4 1-2.3zM391.1 332.6l.4 3.3-.4 1.3 0-4.6zM311.2 333l1 .1 .5 .8 .8 3-.4 3-1.3 2-.6 .3-.9-1.3-.5-2 .2-4 1.2-1.9z"/>
<path fill="#f07414" d="M362.2 199.9l.3-.9 6.9 0 1.3 5 .9 10 0 10-1 5-2.4 5.1-2.1 1.9-1.9 .5-1.4-2.5-2.8-11-.5-6 .2-7 .9-5 1.6-5.1zM388.1 214l1.5 4 .6 8-.6 7-.5 1.7-1 .9-1-1.3-1-3-.5-5.3 .5-7.4 1-3.8 1-.8zM407.1 241.8l1 1.1 0 23-1 1.2-.5-.1-.8-1-1-4-.5-9 .6-7 1.2-3.5 1-.7zM316.2 261.6l1 1.6 1.1 4.8 1.1 11.9-.3 5-.7 4-1.2 2.4-.9 .6-1.1-.8-1-4.1-.8-11.1 .8-9.9 1-3.4 1-1zM349.2 265.6l1-.5 1 1.2 1.4 3.7 1.2 5.9 .4 6-.4 7-1 6-.8 2-2.8 1.7-1 .2-1-.7-1-2.2-1.3-7-.4-7 .3-6 .9-4.9 .8-2 2.7-3.4zM361.2 266.7l1-.2 1 1.5 1.1 4 .3 3.9-.5 9-.9 3.9-1 1.4-1-.3-1-2-1.3-8 .6-8.9 1.7-4.3zM395.1 273.5l1 1.5 .5 3.9-.4 4-1.1 1.5-1.1-1.5-.5-4 .4-3.9 1.2-1.5zM381.1 277.6l1-.6 1 .8 1.1 3.1 .6 5-.7 8.9-1 2.7-1 .7-2-.3-.4-1-1.1-6 .5-8.2 2-5.1zM370.2 278.9l1-.5 1.3 1.5 1 3 .4 4-.7 8-1 2.9-1 1.1-1-.7-1.1-2.3-1.2-6 .3-6 1-3.4 1-1.6zM334.2 287l1 .9 1 6.9 0 4.1-1 8.1-1 .9-1.2-7 .1-10 1.1-3.9zM347.2 313.4l1 0 1 2.4 1.6 8.1-.2 7-1.4 4.7-1-.4-1.3-2.3-1.4-6 .2-8 1.5-5.5zM311.2 333.4l1.2 .5 .8 2.8-.1 2.2-.9 2.4-1 .4-1.2-2.8 .1-3 1.1-2.5z"/>
<path fill="#d06a28" d="M363.2 199l5.6 0 1.4 4 .7 5 .5 10-.4 7-1.7 6-2.1 3.1-2 1.4-1 0-1-1.5-3.2-14-.2-5 .4-6 1.4-6 1.6-4zM388.1 215.2l1.3 3.8 .6 7-.9 7.3-1 1.2-.4-.5-1.4-4-.4-5 1-8 1.2-1.8zM407.1 242.4l1 1.2 0 21.6-1 1.3-1-.5-1.3-5-.4-9 .7-6 1-2.8 1-.8zM316.2 262.9l1 1.8 1 4.6 .9 9.6-.9 8.7-1 2.2-1 .9-1-.9-.8-3.9-.8-10 .6-8.1 1-3.8 1-1.1zM349.2 266.6l1-.5 1 1.1 1.1 2.8 1.3 5.9 .3 6-.4 8-1.1 5-1.2 1.8-2 .9-1 .2-1-.8-1-2.5-1-5.7-.4-6.9 .3-6 .8-3.9 .8-2 2.5-3.4zM361.2 267.3l1-.2 1 1.4 1.3 7.4-.6 9-.7 3.2-1 1.5-1-.4-1-2.1-1.1-7.2 .5-7.9 1.6-4.7zM395.1 274.1l1 1.8 .3 3-.3 3.5-1 1.4-1-1.3-.4-3.6 .4-3.9 1-.9zM381.1 278.8l1-.7 1 .8 1 3.4 .4 3.6-.4 7.1-1 3.2-1 .8-1 .2-1-.5-1-3-.2-2.8 .2-6.4 1-3.9 1-1.8zM371.2 279.6l1 .9 1 2.7 .4 4.7-.4 5.2-1 3.5-1 1.3-1-.8-1-2.2-1-7 1-6 1-1.9 1-.4zM334.2 288.4l1.1 1.5 .5 7-.6 8.4-1 1-1-5.1-.1-5.3 .1-3.7 1-3.8zM347.2 314.7l1 0 .5 1.2 1.7 8-.1 6-1.1 4.2-1-.3-1-1.9-1.2-5 0-7 1.2-5.2zM311.2 333.9l1 .3 .7 2.7-.3 3-.4 .8-1 .5-1.1-3.3 .2-2 .9-2z"/>
<path fill="#d06a28" d="M363.2 199.4l.2-.4 4.8 0 1.5 4 .9 5 .5 9-.3 7-1.6 6-2 3-2 1.5-1 .1-1-1.7-2.8-12.9 .1-10 2.7-10.6zM388.1 216.6l1 2.5 .6 6.9-.6 5.8-1 1.6-1.2-2.4-.5-5 .7-7.9 1-1.5zM406.1 243.8l1-.8 1 1.2 0 20.3-1 1.4-1-.5-.5-1.4-1-7 .2-8 1.3-5.2zM316.2 264.4l1 2 1 4.7 .6 7.8-.6 6.8-1 2.7-1 1-1-1.1-.7-3.4-.6-9 .5-6.9 .8-3.4 1-1.2zM349.2 267.5l1-.5 1 1 1 2.5 1.1 5.4 .4 6-.4 7-1 5-1.1 1.8-2 .9-1 .1-1-.9-1-2.9-1.1-11 .3-5 .8-4.4 3-5zM361.2 267.9l1-.2 1 1.4 1.1 5.9-.1 7.2-1.4 5.7-.6 1-1-.3-1.1-2.7-.7-4 .2-8.9 .6-2.9 1-2.2zM395.1 274.9l1.1 4-.1 2.2-1 2-1-1.6-.2-2.6 .2-2.9 1-1.1zM382.1 279.4l1 .9 .9 3.6 .2 6-1.1 4.7-2 1.2-1-.5-.4-1.4-.6-6.1 1-5.7 1-2 1-.7zM371.2 280.9l1.2 2 .8 5-.7 6-1.3 2.8-1-.8-1-2.9-.4-4.1 .4-5 1-2.4 1-.6zM334.2 290.6l1 1.1 .2 2.2-.2 8.5-.6 .5-.4 .4 0-.4 0-12.3zM347.2 316.5l1-.1 .2 .5 1.3 9 .1 3-.6 3.3-1-.4-.3-.9-1.3-7 0-4 .6-3.4zM311.2 334.5l1 .3 .3 1.1-.3 4.2-1 .5-.6-1.7-.1-2 .7-2.4z"/>
<path fill="#e04424" d="M364.2 199l3.3 0 .7 1.2 1.7 5.8 .7 6 .1 8-.5 5.3-1.7 4.7-2.3 2.8-1 .7-1 .1-1-1.8-1.6-6.8-1-7 0-5 .6-5 1.8-7 1.2-2zM388.1 218.6l1 2.9 .3 4.5-.3 4-1 2.1-.9-2.1-.1-2 1-9.4zM407.1 243.6l1 1.3 0 19-1 1.4-.6-.3-.6-1-.8-3.4-.4-7.6 .9-7 .5-1.5 1-.9zM316.2 266l1 2 1 5.1 .4 5.8-.4 5-1 3-1 1.1-1.1-2.1-1-9 .8-7.9 .3-1.7 1-1.3zM350.2 267.9l1 .9 1.6 5.2 .7 9.9-1.3 9.2-1 1.5-2 1-1 0-1-1.2-1-3.5-.7-11 .5-4.9 .9-3 2.3-3.6 1-.5zM361.2 268.5l1-.2 1 1.5 1 5.7-.3 7.4-.7 3.7-.8 1.3-.2 .4-1-.4-.5-1-1.2-6 .3-7.9 1.4-4.5zM394.1 277.9l.6 1-.6 .6 0-1.6zM382.1 281.2l1.2 1.7 .2 6-.4 3.3-1 .1-1 1.5-1-.3-.1-.6-.2-6 .3-2.8 1-2.1 1-.8zM371.2 284.1l1 .8 .3 4-.3 4.1-1 2.1-1.1-1.2-.4-4 .5-4.3 1-1.5zM311.2 335.6l.5 .3 .3 3-.8 .9 0-4.2z"/>
<path fill="#f00c0c" d="M364.2 199.8l2-.7 1 .5 .7 1.4 1.6 5 .8 6 .1 8-.6 5-1.6 4.3-2 2.4-1 .8-1 0-1-1.9-2.2-12.6 0-5 .6-5 1.6-6.2 1-2zM388.1 225.1l.6 1.9-.6 3.2 0-5.1zM407.1 244.3l1 1.4 0 17.4-1 1.6-1-.7-1-5-.2-7 1-6 1.2-1.7zM316.2 267.8l1 2.1 1.1 8-.4 5-1.2 3-.5 .6-1-1.3-.7-7.3 .6-7.9 1.1-2.2zM350.2 268.7l1 .9 1.4 4.4 .6 4.9 0 5-1 7.7-1 1.8-2 1-1.3-.5-1.2-3-.6-4-.2-7 1.1-6.9 2.2-3.8 1-.5zM362.2 268.8l1 1.7 .5 2.5 .3 6.9-.8 6-1 1.8-1-.4-1.3-4.4-.2-7 .8-4.9 .7-1.8 1-.4z"/>
<path fill="#f00c0c" d="M365.2 200.3l1-.1 1 .6 1.4 3.2 1.1 5 .4 6-.1 6-.8 4.5-1.2 2.5-2.3 3-1.5 .5-1-2.1-1.2-6.4-.7-7 .2-5 1.1-6 1.6-4 1-.7zM407.1 245l1 1.5 0 15.8-1.1 1.7-.9-.7-.3-1.3-.8-8 .8-7 .3-1.1 1-.9zM350.2 269.4l1 1 1.1 3.6 .7 8.9-.8 7.2-1 2-2 .8-1-.1-1-1.9-.8-6-.1-5 .9-6 2-3.8 1-.7zM361.2 269.9l1-.4 1 1.8 .6 4.6-.3 7-.3 2.2-1 1.9-1-.4-.3-.7-1-5 .1-6.9 1.2-4.1zM316.2 270.3l1 3.2 .4 6.4-.4 3.4-1 1.6-1-1.8-.2-5.2 .2-5.6 1-2z"/>
<path fill="#cc0c0c" d="M365.2 201.4l1-.1 1 .6 1 2.3 1.1 4.8 .5 6-.2 5-.7 4-1.2 3-2.2 3-1.3 .3-1-2.3-1.2-7-.3-6 .3-5 1-5 1.2-2.8 1-.8zM407.1 245.8l1 1.7 0 13.9-1 1.9-1.1-1.3-.9-8 .9-7 1.1-1.2zM349.2 270.9l1-.6 1 .9 1.1 3.8 .5 4.9-.6 8.7-1 2.1-1 .3-1-.1-1.2-1-.8-2.6-.4-4.4 .3-7 2.1-5zM361.2 270.6l1-.4 .9 1.8 .5 3.9-.2 7-1.2 3.4-1-.5-1.1-4.9 .1-6.5 1-3.8z"/>
<path fill="#8b0000" d="M365.2 202.5l1-.1 1 .7 1 2.5 1 5 .2 5.4-.2 4.4-.9 3.6-3.1 4.9-1 .1-1-2.7-1.2-11.3 1.1-9 1.1-2.7 1-.8zM407.1 246.7l1 2.1 0 11.5-1 2.2-1-.9-.7-6.6 .7-7 1-1.3zM362.2 270.9l1 2.3 .3 4.7-.3 5.2-1 2.4-1-.5-.3-1.1-.7-6 .9-5.9 1.1-1.1zM349.2 271.9l1-.8 1 1 1 3.5 .4 3.3-.4 8.1-1 2.4-1 0-2-2.7-1-5.5 .4-5.3 1.6-4z"/>
<path fill="#8b0000" d="M365.2 203.7l1-.1 .5 .4 1.1 2 .9 4 .4 5-.9 7.3-2.7 4.7-1.3 .5-.8-2.5-1-9 .8-8.8 1-2.7 1-.8zM407.1 248.1l1 3.3 0 7.2-1 2.9-1-1-.4-5.5 .4-6 1-.9zM362.2 271.9l1 2.8 .1 3.2-.1 3.7-1 3-1-.8-.4-4.9 .4-5.9 1-1.1zM350.2 272.1l1 1 1.1 5.8-.1 6.3-1.2 2.7-.8-.3-1-1.7-1.2-5 .2-5 1-2.8 1-1z"/>
<path fill="#edfbfb" d="M314.2 199l6.7 0-.7 12.2-1 5.8-1 1.2-1-.6-2-1.8-.6-1.8-.7-8-.1-7 .4 0zM341.2 199l13 0 .6 15-1 24-1.9 4-.7 .8-1 .4-1-1.2-.7-2-2.3-10.4-.3 11.4-1.2 15-1.1 5-.4 1.3-1 .4-1-2.7-.9 0-.1-8.7-.7-7.3-.2-20 1.3-23 .3-2 .3 0zM374.2 199l2.5 0-.6 4.6-.7 1.4-.3 .5-.7-2.5-.2-4zM383.1 199l3.6 0-.5 9-2.6 14-.1 5 .7 10 2.4 7 2.5 19 .6 7-.2 5.9-1.4 5.2-1 2-3.8-15.1-1.2-2-1 .3-3.5 13.6-1.5 16.6-.4-12.6-1.1-8-.8-1.9-1.6-1.6-1 0-3.7 4.5-1.3 4.2-.2-10.1 1.4-17 0-8 2.8-6.4 1 .9 1 13.1 1.9 4.4 1 8.2 1-.6 .3-5.6-.9-11 .6-14 3-7.6 1-1.3 1 1.7 1.1-1.8 1.1-16-.2-11zM406.1 199l1.5 0-.5 3.3-.6 .7-.4 .7-.1-.7 .1-4zM304.3 202.3l1 3.3 .7 12.4-.4 9-1.1 4-.2 .6-.4-2.6-.5-8 .9-18.7zM336.2 208.9l2.1 16.1-.1 14-1-3.5-1.4-14.5 .4-12.1zM406.1 224.9l2 7.1 0 6-1-.7-1 .5-1-.8 .1-7 .9-5.1zM308.2 230.6l1-.4 2 1.6 .2 1.2-1.8 34 .6 .2 1-1.9 .2 .7 .3 11.9 1.4 16-.9 7.6-1 4.2-1-.5-2-3.3-1.2-7-.7-23.1-1-1.5-2 6.6-1-1-.2-.9-.4-18-1-13 .1-1 .5-.3 1 .7 1 0 1 1.6 1 4.7 1-.5 1.9-18.6zM309.2 268l.1 6 .3-6-.4-.8 0 .8zM319.2 234.4l2 .3 1 2.3 .4 4 .2 22-.4 5-.8 3-.4 .8-1-4.5-1.5-10.3 .5-22.6zM360.2 237l1 .6 3.3 8.4-.3 13-.7 3-.3 .2-1.2-1.2-1.3-5-1.1-14 0-3 .6-2zM401.1 237.3l1 1.1 .6 2.6 .7 5 .1 6-.1 9-.6 5-.3 2-1.3 2-.7-1-.9-4-.4-12 .3-11 1.6-4.7zM300.3 239.4l0 2.7 0-2.7zM330.2 247.6l0 4.5 0-4.5zM338.2 252l1.3 2 .7 9-.5 6-2.6 12.9-.9 .8-1.6-3.8-.3-2 1.6-16.9 2.3-8zM397.1 264l2 7.3 1.6 1.7 .3 2-.5 7.9-1.4 5.6-1 .2-.5-1.8 .3-11-2.1-6.9 .3-2.9 1-2.1zM408.1 271.4l0 58.8-.9 6.7 .9 3.3 0 10.7-2.9 0 .1-2 1.2-12-1.8-17-1.6-27 5-21.5zM329.2 278.1l1.1 1.8-.1 7-1-.9-.1-1.1 .1-6.8zM387.1 289.1l1.6 4.8 1.4 11.4 1-13.5 1 .3 .3-1.2 1.7-1.8 1-.1 1.5 1.9 1.2 3 1.3 9.2 1.1 2.8 .3 6-.5 10-.9 4.6-.4 6.4-1.1 5-1.2 3-2.5 3-.8 2.9-.6-1.9 .4-7-.9-8-.9-2.3-.4 .3-1.6 7.4-1-4.4-1.5 20-9 0 1.2-24 .3-1.6 2 3.3 1 .4 1-1.8 1.3-10.3 .4-14 2-10 .3-3.8zM323.2 290.1l1 .9 1 5.5 0 7.5-1 .8-1.4-.9-.8-3 .2-6.6 1-4.2zM340.2 292.1l1 0 1.7 5.8 1.4 12-1.1 8.7-1.2 3.3-.8-.1-1.7-5.9-2.3-5.1 0-5.1 1.4-7.8 1.6-5.8zM367.2 301.1l2 1.8 1.4 3 1.6 14.4 .5-2.4 0-9 .5-4.3 1-2.4 .9-.6 1 5.6 .3 9.7-1.3 8.3-.9 3.9-1-6.6-1.5 11.4-1.9 7-.7 2 1.1 3.8 .1 4.2-19.2 0 1-8 3.1-6.5 1 1.3 1 2.6 1 .6 1.3-2 1.4-4 1.9-19 1.8-6 2.3-5 .3-3.8zM350.2 304.1l1.3 .8 .5 2 .2 5.2-1 .9-2.3-6.1 .3-1.8 1-1zM320.2 308.8l1 3.1 .5 9-1.2 7-.3 .6-1 .1-1.1-5.7-.4-7 1-4 1.5-3.1zM326.2 309.6l1 1.5 1.9 5.8 1.1 1.8 1 .4 2-1.4 1 1 .5 2.2 .6 6 .1 8 .6 4-1.1 4-1 2-.3 5 0 1-6.4 0 1.9-11 .3-7-.7-7-2.6-7 .1-9.3zM342.2 326l2.6 12.9 2.4 5.2-3-.6-2-5.6-.6-7 .6-4.9zM302.3 333.9l1-.8 2.2 9.8 .6 8-.8 0-2.9 0-.5-13 .4-4zM319.2 338.5l1-.6 .8 1 .1 4-.9 1-1-.8-.5-1.2 0-2 .5-1.4zM298.3 343.9l1 3 .1 4-1.1 0-1.3 0 .3-4.2 1-2.8zM322.2 344l.7 6.9-1.7 0 0-3 1-3.9z"/>
<path fill="#edfbfb" d="M315.2 199l4.7 0-.6 8-1.1 3.8-1 .4-1.5-3.2-.6-5 .1-4zM342.2 199l11.7 0 .6 16-.5 15-.6 5-.8 3-1.4 2.7-1 .3-1-1.2-1.4-4.8-1.6-9-.4 12-1.1 15-1.5 7.3-1 .3-.3-.6-1.3-6-1-16 0-15 1.3-21 .5-3 .8 0zM379.1 233.1l1 .4 1 3 2 2 3 6.8 1 6.7 .3 12 .8 5-.1 2.4-1 2.6-1-.4-1.7-5.6-2.3-4.3-1 .2-1.7 3.1-2 8-.3 4.1-1 3.1-.1-4.3 .1-2.5 1.4-3.4 .4-5-1.2-12 0-8 .9-9 1.5-4.9zM309.2 238.3l.5 5.7-.5 8-1 7.6-1 .5-.1-6.1 1-11 1.1-4.7zM401.1 238.5l1 1.1 .4 1.4 .9 8-.1 11-1.2 7-1 .9-.7-1.9-1-8 .2-14 1.5-5.5zM361.2 240.3l1 2.1 .6 3.6 .2 6-.8 2.3-1.1-5.3-.3-6 .4-2.7zM320.2 245.4l1 1.2 .1 2.4-1 13-.6-4 .5-12.6zM370.2 246.7l1.8 22.3-.1 1-2.7 3.5-1.9 1.5-.4-3 .8-12 1.5-10.7 1-2.6zM303.3 252.5l1 2.5 .5 6-.5 7-1 2-.5-7 .5-10.5zM337.2 267.4l0 5.6-1 4.1 0-7.2 1-2.5zM311.2 278.5l1.3 13.4-.3 3.8-1 2.6-1.2-3.4-.2-3 1.4-13.4zM407.1 280.8l.5 4.1 .5 39.3-1 5.5-.5-.8-.5-.7-1.2-10.3-.6-20 .5-8 1.3-6.6 1-2.5zM394.1 291l1-.1 1 1.4 1.4 3.6 1.2 7 .9 10-1 17-1.4 7-1.1 2.9-1 1.3-1 .5-1-1.3-1-10.7-1-2.8-.9-.9-.2-6 .5-14 1-8 1.3-5 1.3-1.9zM340.2 298.8l1 .1 .7 5 0 5-.7 3.2-1-.9-.7-4.3 .7-8.1zM386.1 300.1l1 1.8 .2 4-.8 15 .2 17-.8 13-1.8 0-1 0 .1-13 2.4-20 .5-17.8zM350.2 305.6l1.1 1.3-.1 3.6-1.4-2.6 .4-2.3zM368.2 305.2l1-.2 1.6 6.9 1 7 .1 9-1.4 9-1.8 4-2.4 3 1 3 .5 4-1.6 0-4.2 0 .8-13-.5-15 .5-5 1.2-5 1.6-4 2.6-3.7zM319.2 318.2l0 3.5 0-3.5zM333.2 324.3l1 2.5 .3 6.1 1.1 6-.7 3-1.6 3-.3 6-.8 0-3 0 1.9-21 .8-4 1.3-1.6zM320.2 338.2l.8 1.7-.2 3-.6 .7-.8-.7-.5-1 0-2 .3-.9 1-.8zM354.2 343.7l1-.4 1.1 5.6 .2 2-1.3 0-2.6 0 1.6-7.2zM407.1 345.7l1 2.3 0 2.9-2 0 0-4.7 1-.5z"/>
<path fill="#dfe6f7" d="M316.2 199l2.3 0-.3 4-.4 1-.6 .8-.2-.8-.8-5zM342.2 199l11.4 0 .1 1 .4 19-.3 10-.9 6-1.7 4-1 .4-1-1.3-1.7-6.1-1.3-9.4-.6 13.4-.9 15-1.5 7.7-1 .3-1.5-7-.9-16 0-12 1.1-19 .8-6 .5 0zM379.1 239.4l1-.4 3 2.3 2 3.8 1 3.5 .6 6.4-.2 7-1.4 4-1.1-1-1.9-3.6-1 .2-2 2.4-1-1.9-.7-6.1-.1-6 .6-6 1.2-4.6zM401.1 239.5l1 1.2 .3 1.3 .9 8-.1 9-1.2 7-.9 .8-.6-1.8-1-8 .2-12 1.4-5.5zM369.2 257.1l1 1.9 .4 7-.3 4-1.1 2.1-1 .4-.4-2.5 .4-7.5 1-5.4zM406.1 288l1 3.4 .7 25.5-.4 7-.3 1.8-.5-.8-.5-.7-1-8.8-.4-11.5 .3-10 1.1-5.9zM394.1 292.2l1 0 1 1.4 1.2 3.3 1.3 8 .5 7-.6 16-1.1 7-1.3 3.8-1 1.3-1 .3-.6-1.4-1.4-10-1.5-4-.2-4 .2-11 1-10 1.1-5 1.4-2.7zM367.2 307.9l1-.7 1 .6 .7 2.1 1.5 9 .3 6-1.1 10-1.4 3.9-2 2.5-2-.8-1.4-2.6-1.1-6-.2-6 .3-6 .9-5 1.5-4.1 2-2.9zM385.1 330.9l.7 5-.5 15-1.2 0 0-11 1-9zM332.2 332l1-.1 1.4 2 .6 4-.4 4-2.4 3-.2 4-1.8-10 .1-3 1.7-3.9zM320.2 338.5l.6 1.4 0 2-.6 1.4-.4-.4-.7-1-.1-2 1.2-1.4zM364.2 344.2l1.4 6.7-1.4 0-1 0 1-6.7z"/>
<path fill="#c9ebe3" d="M342.2 199l1.7 0 .6 2 .7 8.7 1.9-10.7 6.1 0 .7 8 .1 10-.4 11-1 7-1.4 2.9-1 .1-1-1.3-2.2-9.7-.8-8.2-.2 2.2-1.7 31-1.1 5.4-1 .3-1.1-4.7-.7-9-.4-17 .8-19 1.4-9zM401.1 240.4l1 1.2 .3 1.4 .8 8-.2 8-1 6-.9 .8-.3-.8-1.2-8 .2-11 1.3-5.6zM380.1 241.7l2 1.2 2 2.8 1 2.1 .9 4.2 .2 6-.9 5-.2 .3-1-.2-1.3-3.1-.7-3.6-.3 1.6-1.7 2.7-1 .7-1-3-.3-5.4 .2-5 1.1-5.3 1-1zM369.2 265.4l0 2.6 0-2.6zM394.1 293.3l1 0 1 1.4 1.1 3.2 1.3 8 .4 7-.2 10-1 9-1.3 5-1.3 2.2-1 .1-.7-2.3-1.3-8.6-1.3-4.4-.2-4 .2-9 .8-9 1.2-6 1.3-2.6zM406.1 295.9l.2 10 .9 7-.1 8-1-1.4-.7-14.6 .7-9zM367.2 308.9l1-.5 1 .8 .8 2.7 .9 5 .5 8-.4 6-.8 4-1.1 3-1.9 2.2-2-1.2-1.1-2-1.1-6-.3-5 .3-5 1-6 1.2-3.2 2-2.8zM333.2 332.7l1.5 2.2 .3 5-.8 2.6-1 1.3-1 0-1.5-2.9-.1-4 1-3 .6-.9 1-.3zM320.2 338.8l.5 2.1-.5 2-.9-1-.2-1 .1-1 1-1.1z"/>
<path fill="#c9ebe3" d="M342.2 199.7l1-.7 1.3 5 1.1 14-.8 27-1.5 11-1.1 .5-1-4.5-.9-16 .3-23 1.6-13.3zM348.2 199l4.8 0 .4 4 .4 10-.4 14-.8 7-1.4 3-1 .1-1.6-3.1-2-13-.1-15 .5-4 .8-3 .4 0zM401.1 241.2l1 1.3 .3 1.5 .7 10-.8 9-.2 .9-1 1-1.1-4.9-.3-7 .2-7 1.2-4.8zM380.1 244.4l1.5 1.6 .3 2-1.8 10-1 .6-.8-5.6 .8-7 1-1.6zM384.1 249.8l1 1.6 .3 2.6-.3 6.3-1 .3-.6-2.6 .6-8.2zM394.1 294.3l1-.1 1 1.5 1 3.2 1.3 8 .3 6-.1 9-1 9-1.1 5-1.4 2.3-1 0-.7-2.3-2.1-11-.4-6 .8-16 1.1-6 1.3-2.6zM367.2 309.7l1-.3 1 .9 .8 2.6 .9 6 .2 7-.5 6-1.1 4-1.3 2.6-1 .6-.8-.2-1.2-1.2-1.2-2.8-1-10 1.2-9.4 1-3 2-2.8zM332.2 333.4l1-.3 .8 .8 1 3-.3 4-1.5 2.6-1 0-.4-.6-1-3 0-3 1.4-3.5zM320.2 339.2l0 3.4-.9-1.7 .9-1.7z"/>
<path fill="#a8d3e6" d="M348.2 199.8l.2-.8 4.3 0 .4 3 .5 8-.1 10-.6 11-1 4-.7 1.3-1 .1-1-1.9-2.2-11.5-.4-14 .5-5 1.1-4.2zM343.2 200.3l1.5 7.7 .6 17-.6 20-1.5 10.1-1 .2-1.1-5.3-.8-20 .9-22 1-6.9 1-.8zM401.1 242l1 1.4 .3 1.6 .5 9-.6 8-.2 .9-1 1.2-1-4.4-.3-6.7 .3-7 1-4zM380.1 249.8l0 .5 0-.5zM379.1 251.3l0 1.8 0-1.8zM394.1 295.2l1-.1 1 1.5 1 3.3 1.5 13-.2 8-.8 9-1.1 5-1.4 2.5-1 0-1-3.9-1.8-9.6-.2-5 .6-15 1.2-6 1.2-2.7zM367.2 310.5l1-.2 1 1.1 .5 1.5 .9 5 .3 6-.8 9-1.5 4-1.4 1.4-1.9-1.4-1.1-2.7-1-8.3 1-9.3 1-3.2 2-2.9zM332.2 333.7l1-.3 .5 .5 1.2 3-.3 4-1.4 2.3-1.2-.3-1.1-3 .1-3 1.2-3.2zM320.2 339.7l0 2.4-.3-1.2 .3-1.2z"/>
<path fill="#5aa7e6" d="M349.2 199l3.2 0 .9 8-.4 22-.5 4-1.2 2.7-1 0-1.5-3.7-1.8-14 .2-11 .9-5 1.2-3zM343.2 201.5l1 4.5 .6 6 .3 22-.9 14.9-1 5.1-1 .2-1.4-10.2-.3-19 .8-17 .9-5.7 1-.8zM401.1 242.8l1.1 2.2 .5 9-.6 8-1 1.2-1-4.9-.2-5.3 .2-5.6 1-4.6zM394.1 296.1l1-.1 1 1.4 .8 2.5 1.5 13-.7 15-.9 5-1.2 3-.5 .7-1-.1-.2-.6-2.3-11-.3-4 .5-16 1.1-6 1.2-2.8zM367.2 311.3l1-.2 1.1 1.8 1.1 5 .3 6-.9 9-1.6 3.9-1 .6-1.1-.5-1.6-3-1.1-8 1-9 .9-3 1.9-2.6zM333.2 333.6l1.4 2.3 .2 3-.6 2.7-1 1.4-.4-.1-.6-.1-.5-.9-.7-4 .7-3 .5-.9 1-.4z"/>
<path fill="#5aa7e6" d="M349.2 199.7l.2-.7 2.7 0 1 8-.2 21-.5 4-1.2 3-1 .1-1.3-3.1-1.8-14 .2-10 1.9-8.3zM343.2 202.7l1 4.6 .5 5.7 .3 21-.8 13.6-1 5.4-1 .2-1.4-10.2-.2-18 .9-17 .7-4.5 1-.8zM401.1 243.6l1 1.8 .4 8.6-.4 6.9-1 1.4-1.1-9.3 .2-4 .9-5.4zM395.1 296.8l1 1.5 1.2 4.6 1 13-1.1 14-1.1 4.5-1 1.5-1-.2-1-3.8-1.4-8-.3-7 .2-8 .9-7 1.6-4.9 1-.2zM367.2 312.1l1-.1 1.1 1.9 .9 4 .3 6-.2 5-.8 4-1.3 3-1 .7-1.2-.7-1.5-3-.8-8 .3-5 .9-4 1.3-2.8 1-1zM332.2 334.3l1-.4 1 1.3 .5 1.7-.3 4-1.2 1.8-1-.1-.4-.7-.7-3 .4-3 .7-1.6z"/>
<path fill="#4a72ee" d="M350.2 199l1.4 0 .6 1.7 .8 13.3-.5 16-1.3 4.5-1-.1-1.6-5.4-1.3-15 .8-9 2.1-6zM343.2 203.9l1 4.9 .4 5.2 .3 20-.7 12.3-1 5.7-1 .2-1.3-10.2-.2-18 1-16 .5-3.3 1-.8zM401.1 244.6l1 2.1 .2 4.3-.1 8-.8 2-.3 .3-.4-2.3-.5-6 .9-8.4zM394.1 297.8l1-.2 1.5 3.3 1 5 .5 7-.7 15-1.1 5-1 2-1.2 0-1-3.7-1.3-7.3-.2-4 .5-14 1-5.8 1-2.3zM367.2 312.9l1-.1 1 1.5 .8 4.6 .3 5-.2 4-.9 5-1 2.2-1 .7-1-.5-1.3-2.4-.7-3-.3-5 1-8 1.3-3 1-1zM332.2 334.5l1-.4 1.4 2.8-.1 3-.8 2-.5 .6-1-.2-.8-2.4 0-3 .8-2.4z"/>
<path fill="#2171d6" d="M350.2 199.8l1-.7 1 3.3 .6 10.6-.4 17-1.2 3.9-1-.1-1.4-4.8-1.2-14 .6-8.4 2-6.8zM342.2 205.8l1-.8 .6 3 1 13-.3 19-1.3 11-1 .1-.4-2.1-1-13 .2-18 1.2-12.2zM401.1 245.7l1 3 .1 3.3-.1 5.8-.9 2.2-.6-7 .5-7.3zM394.1 298.6l1-.2 1.3 2.5 1 5 .5 7-.6 14-1.2 5.9-1 1.6-1-.2-1-3.8-1.3-10.5 .3-12.7 1-6.1 1-2.5zM367.2 313.7l1-.1 1 1.7 .9 8.6-.9 7.9-1 2.4-1.1 .7-.9-.6-1-1.8-.9-3.6-.2-4 1.1-7.8 1-2.3 1-1.1zM332.2 334.8l1-.4 1.3 2.5-.1 3-.9 2-.3 .4-1-.2-.7-2.2 0-3 .7-2.1z"/>
<path fill="#2171d6" d="M351.2 200.5l1 4 .2 3.5 .1 18-.8 6-.5 1.3-1.1-.3-1.4-6-.8-14 .3-4 1-4.6 1-3.1 1-.8zM343.2 206.1l1.3 9.9 .2 18-1 13-.5 3-1 .1-1.1-9.1-.2-17 1-15 .3-2 1-.9zM401.1 247.5l0 10.7 0-10.7zM394.1 299.5l1-.3 1.1 1.7 1 5 .6 7-.6 14-1.1 5.2-1 1.6-1-.3-1-3.7-1.2-10.8 .5-12 .7-4.8 1-2.6zM367.2 314.6l1 0 1 1.9 .6 7.4-.6 6.6-1 2.7-1 .8-1-.7-1-2-.8-6.4 .8-6.6 1-2.6 1-1.1zM333.2 334.6l1 1.7 .2 1.6-.2 2.4-1 1.8-1-.3-.7-2.9 .3-3 .4-.8 1-.5z"/>
<path fill="#1c4f8f" d="M350.2 203l1-.9 1 5.3 .2 17.6-.7 6-.5 1.6-1-.1-1.2-4.5-.8-13 .7-7 1.3-5zM343.2 207.3l1.2 8.7 .2 18-1.1 13-.3 1.9-1 .1-1.1-9-.1-16 1.1-15 .1-.7 1-1zM394.1 300.4l1-.4 1 1.6 1 4.5 .6 6.8-.6 13.4-1 5-1 1.7-1-.4-1-3.6-1.1-10.1 .4-11 .7-4.7 1-2.8zM367.2 315.6l1 0 1 2.4 .3 4.9-.3 5.9-1 3.2-1 .9-1-.8-1-2.5-.4-4.7 .4-5 1-3 1-1.3zM333.2 334.8l1.1 3.1-.1 2-1 2-1-.4-.6-2.6 .4-3 1.2-1.1z"/>
<path fill="#17186e" d="M351.2 204.2l.6 5.8-.2 8 .6 8-1 5.8-1 0-1.2-5.8 0-12 1.2-8.6 1-1.2zM343.2 208.4l1.1 9.6 .1 17-1.2 12.8-1 0-1-9.1-.1-14.7 1.1-14.4 1-1.2zM395.1 300.8l1 1.7 1 4.8 .5 8.6-.5 9.2-1 5.4-1 1.7-1-.4-1-3.6-.9-12.3 .9-11.6 1-3 1-.5zM368.2 316.9l1 3.7 0 4.8-1 4.7-1 1-.3-.2-.7-.7-1-3.8 0-3.1 1-4.6 1-1.7 1-.1zM332.2 335.6l1-.5 .9 1.8 .1 2-.6 2-.4 .7-1.1-.7-.4-3 .5-2.3z"/>
<path fill="#17186e" d="M351.2 208.6l0 1.4 0-1.4zM343.2 209.7l1 8.3 .1 17-1.1 11.7-1-.1-1-11.5 0-9.7 1-14.4 1-1.3zM351.2 218.9l.8 7.1-.8 4.8-1 .2-.8-4-.1-4 .9-3.8 1-.3zM395.1 301.7l1 1.7 .9 4.5 .5 8-.7 10-.7 3.7-1 1.9-1-.5-1-3.7-.7-10.4 .7-11.2 1-3.4 1-.6zM332.2 335.9l1-.5 .9 2.5-.9 3.4-1-.3-.3-1.1 .3-4z"/>
<path fill="#fff" d="M273.3 341.6L401.1 341.6L402.1 350.9L273.3 350.9Z"/>
<path fill="#fdeee2" d="M466.8 199l2.8 0-.8 33-2 16.8-1-1.4-1.1-13.4-.9-2.2-.8 3.2-1 9-.2 .4-1-.2-.7-1.2-1.7-11-.2-8 .6-2.9 1-1.6 1 .7 2-1.7 1 3.2 1 1.2 2-23.9zM486.7 199l7.5 0-1.7 16 .4 4 .8 2.8 2-2.5 1-.6 .6 1.3 .7 5 .3 17 .4 1.2 .3-6.2 .7-2.8 .3 4.8 .7 2.3 .3 11.7-.6 8-1.7 10.3-1-.7 0 .4-.2 23.9-1.4 27-.4 2.2-2.4 3.8-1 3-1 20-3.6 0-1.5-23-.5-2.9-1-1.3-2 14.1-.7-.9-1.8-1-.5-2.3-1 1-1-.1-.7-.6-.3-1.3-2.3 10.3-1.7 .9-1-.5-.6-1.4-.9-4 .6-6-1.1-1.9-1 .8-.9-.2-2.3-13.7-1.7-15.6-2.2-10.4 0-12 1-12.9 1.2-11.8 1-.2 .2 1 2.5 19 .3 13.6 .2-11.7 1.7-9.1 1 .2 1 5 1-3.1 2-14.3 1-.3 4 5.5 1-.6 1-12.2 3-8 .6 11-1.5 19 .4 14.9 1.3 10 3.2 9.3 2-10.3 1.6-39.9 1.4-6.4 1-1.7 1 .2 .2-2.1-1.2-6.8-1-2.8-.3 .6-1 3-2.7 18.2-.3-1.2-3-24-.2-31 .5 0zM489.7 205l-.8 7 0 7 .8 5.3 1 .2 .2-.5 .6-4-.1-6-.7-5.8-1-3.2zM473.3 289.9l-1 6-1.7 5-.1 6 .2 4.3 1 4.5 2 .8 .4-.6 .7-2 1.9-13.1 .2-4.9-.2-1.1-2.5-3.9-.5-1.5-.4 .5zM490.5 313.9l-.3 3 .5 6 1 2.6 .1-.6-.1-10.7-1-.7-.2 .4zM501.7 199l6.1 0-.7 32 .6 7.5 1 1.1 1.2-7.6 .8-10 .1 1 1.1 1 .6 5 .3 10-.5 21 2.1 9 .8 13.9 2.5 10.5 1.7 21.5-.4 4-1.9 6-.4 5.5-2.7 9.5-.3 3.9-.8-10.9-1.2-10.5-1.9 14.5-1.1 4.8-.8 1.2 .8 8-3.5 0 .9-12-.9-29 .5-12.7 .7-3.3-2.5-10-.4-8.9 .7-8 2.2-9 0-8-1-36-1.7-8.6-1-1.7-1 1.2-.5-.9-.3-5 .8 0zM512.9 286.9l-5.7 6-.3 1 1.8 1.8 1.1 2.2 1.2 6 .6 6 .1 2.1 1-1.4 .8-8.7 .4-15-.2-.8-.8 .8zM517.7 199l4.8 0 .5 33-1 15-.9 4-.9 1-.5 .1-1.1-1.1-1.5-4-1.3-20 0-11 .9-7.7 .3-9.3 .7 0zM538.6 199l3.8 0 1.2 9.8 2 1.7 3.4-1.5 .7-10 3.4 0-.6 16-2.3 17-1.6 5.5-1 .6-3-9-1 .7-1-.7-2 5-1.4-5.1-.6-1.8-1-.3-3.6 7.1-2 5-1.3 1.8-1 .5-1-.6-1.5-2.7-1.2-5-.9-6-.4-8 .4-12 1.5-5 2.1-1.1 1 .1 1.2 2 2.8 7.2 1-6.5 1-.9 .9 .4 1.3-4.2 .7 0zM555.6 199l10.4 0-.4 7-.5 1-1.5 .9-.6 3.1-1.4 19.2-1 2-1 .5-2 6.2-1-4.2-1.3-32.7 0-3 .3 0zM567.6 199l2 0 0 30-2.5-26-.1-4 .6 0zM478.7 215.8l1 4.2 .3 4-.3 12.2-1 2.3-1 .4-2-3.7-1 2.7-.3-.9-1.7-7 0-11.5 1-1.5 1 1 1 2.5 1-1.3 1-2.7 1-.7zM569.6 236.1l0 48.6-2 3.9-1 .3-2-2.7-1.5-3.3-1.1-6-.4-7.9 .4-8 2.1-12 .5-1.7 1-.8 1-.1 1-1 2-9.3zM547.6 245.2l1 .6 .6 7.2-.2 9-.4 2.9-.4-.9-1.1-3-.5-5 .2-6 .8-4.8zM540.6 247.7l.3 1.3 .7 .5 1.3 9.5-.3 7.1-1-.3-.8-5.8-.2-12.3zM527.7 248.6l2 .3 1-.4 2 4.1 1 .5 1-1.7 1 2.1 .1 11.5-.4 5-1.2 5-1.5 .9-.7-1.9-.3-3.4-1-1-1-2.4-1-.5-1 .7-1-.9-1-3.8-1-5.7 .4-3 .6-3.1 2-2.3zM455.8 260.1l.6 10.9-.6 10.5-.9-12.5 .9-8.9zM531.7 275.6l1 .4 .3 .9 1.2 9-.1 5-.8 4-.6 1.3-1-.3-.5-1-1.1-7 .1-5 1.5-7.3zM541.6 281.9l.7 3 0 5-.7 6-1 2.4-.6-3.4 0-7 .6-4.9 1-1.1zM527.7 283.9l.9 7-.9 6.2 0-13.2zM535.7 290.1l.9 1.6 .5 2.2 .5 8-.5 6-1.5 5-1.4-4-.7-7 .9-8 1.3-3.8zM546.6 304.4l1 1.5 .5 2 .5 9-.7 7-1.3 2.7-.4-.7-1.2-3-.6-7 .8-8 1.4-3.5zM551.6 308.6l2 8.4 1-.3 2 1.1 1-.6 1.7-3.3 .3-3.2 1.6 3.2 .1 2-.8 4-2.6 6-1.3 6.2-1 3-2 3.7-.7 4.1-.3 .4-1-.1-.5-1.3-.7-6-.1-10 1.3-17.3zM539.6 309.8l2.3 16.1-.3 4.7-1 4.1-1-3.2-.9-14.6 0-5 .9-2.1zM569.6 318.8l0 32.1-2.5 0 .4-23 .7-5 1.4-4.1zM525.7 329.1l1 .2 3.9 13.6 .1 8-2 0-5.7 0 1.7-18.9 1-2.9zM497.7 336.8l1.4 8.1 .6 1.6 1-2.9 1 1.1 .4 5.2 .1 1-5.7 0 .2-9.3 1-4.8zM546.6 339.8l1 .6 .2 1.5 .4 9-.6 0-1.7 0 .7-11.1zM539.6 341.9l1 2.2 .5 6.8-2.5 0-1 0 0-2.3 1-5.3 1-1.4zM513.7 346.1l.1 4.8-1.1 0 0-3 1-1.8zM517.7 348.5l0 2.4 0-2.4zM563.6 349.7l0 1.2 0-1.2z"/>
<path fill="#fdeee2" d="M491.7 199l1.4 0-.4 4.5-1-.3 0-4.2zM502.7 199l3.7 0-.7 12.5-.2-1.5-.8-1.1-.6-3.9-2.1-4-.1-2 .8 0zM518.7 199l2.9 0 .9 16 .2 11-.4 13-.9 8-1 3-.7 .4-1-1-1.3-4.4-1.1-19 .1-7 1.4-20 .9 0zM539.6 199l1.8 0 .6 7-.1 6-1.3 3.5-1.2-.5-1.2-2-.5-2 1.1-12 .8 0zM550.6 199l1.5 0 0 5-1.8 24-1.7 7.8-1 .7-.7-1.5-1.8-6-1-8 .9-6 1.3-3 1.3-1.2 2 .1 .4-.9 .6-11zM556.6 199l1.7 0-.7 11.5-1-3.7-.4-7.8 .4 0zM568.6 199l1 0 0 16-1.3-11-.2-5 .5 0zM527.7 202.7l1-.7 1 .1 1 1.5 1.4 4.4 1.6 7 2-5.7 1.4 1.7-1 12-.4 1.9-2 3.3-.9 4.8-1.8 5-1.3 1.2-1-.4-1-1.6-1.7-6.2-.9-8-.1-10 1.2-8 1.5-2.3zM467.8 204.3l.7 8.7-.4 9-.3 2.3-.3-.3-.7-1.5-.3-5.5 .3-5.9 1-6.8zM561.6 210l0 12.7-1 3.6-.6-3.3 0-5 .6-6.2 1-1.8zM557.6 218.5l.5 4.5-.5 4.8 0-9.3zM477.7 220.2l1 .1 .6 5.7-.3 4-1.3 4.3-1-2.6-.3-3.7 1.3-7.8zM488.7 229.4l1.5 4.6-.5 4-1-3.1 0-5.5zM460.8 231.5l1-.2 .6 2.7-.1 6-.5 2.9-1-.3-.6-2.6 0-6 .6-2.5zM510.7 238.5l1-.2 0 1.7-1 13-.6-5 .6-9.5zM567.6 247.9l1 .2 1 2 0 33.1-2 3.8-1 .4-1-.9-1.5-2.6-1.2-4-.9-6.9 0-8 .9-9 1.1-5 .6-1.7 1-1.1 2-.3zM494.7 248.3l1.4 3.7 .6 5.1 2-2.8 .8 1.7 .2 1.9-1 8-1-2-.2 2.1-.3 27.9-1.5 22-1 5.3-1-.5-2.7-20.8 1.3-41.9 1.2-8 1.2-1.7zM475.7 256.3l1 .8 3.1 4.9 1.3 3 4.9 39.9-.3 4.3-2.4 3.7-.7 3 .2 12-.8 6-.3 1.1-.2-1.1-.5-4 .1-12-.4-2.1-3 2.7-1 2.7-.5-1.3 .5-6 1.5-8 .2-12-.4-1-2.3-1.9-1.1-2.1-1.2-4-.5-4-.1-6.9 .6-9 1.3-7.6 1-1.1zM508.7 258.9l1-.4 1 .9 2.3 6.6 1.1 6 .1 5.9-1.2 7-2.3 3.9-3 2.1-1.2 0-2-6-.7-4-.1-5.9 .5-6 1.3-6 1.2-2.7 2-1.4zM533.7 263.8l.7 1.2 .2 5-.3 4-.6 1.2-.4-.2-1.3-2-.2-6 .5-2 1.4-1.2zM470.7 272.5l.9 10.4-.3 4-.6 2-1-10 .2-3.9 .8-2.5zM531.7 277l1 .2 .2 .7 .8 7-.2 6-.8 3.7-1-.2-.2-.5-.9-7 .3-6 .8-3.9zM464.8 287.7l1 2.2 0 6.1-1 .7 0-9zM515.7 294.8l1.4 7.1-1.8 22-.8 4-.8 .3-.6-11.3 1.6-20.7 1-1.4zM507.7 296.9l1 .4 1.4 3.6 .9 6 .5 7-.3 11-2.3 13-.2 .8-1-.1-.6-1.7-.8-5-.4-8 .2-21 .6-4 1-2zM535.7 297.7l0 4.8 0-4.8zM546.6 305.4l1.2 2.5 .6 7-.4 7-1.4 3.4-1-1.6-.4-1.8-.4-6 .5-7 1.3-3.5zM468.7 306.3l1 5.7 .8 9.9-.4 2-1.4 1.6-1.1-3.6-.5-9 .4-5 .3-.8 .9-.8zM551.6 319.5l1 1.1 .9 10.3-.1 8-.8 3.4-1 .1-.2-.5-.6-5 .8-17.4zM555.6 319.4l1-.2 .5 .7-.5 3.8-.3 .2-.7 .8 0-5.3zM472.7 321.2l2.6 2.7 0 2-.8 15-1.1 2-.7 .5-.8-.5-.9-2-.5-3 1.5-6-.9-8 .2-1 1.4-1.7zM569.6 324.6l0 26.3-1.6 0 .5-20 1.1-6.3zM477.7 326.5l1-.1 1.7 2.5 .1 2-1.7 3-1.1-.2-.7-1.8 0-4 .7-1.4zM488.7 329.9l1.1 6-.1 3.8-.7 1.2-.3 .4-.4-5.4 .4-6zM525.7 340.7l2 .9 1-.9 .5 1.2 .6 3-.1 6-5.2 0 .2-4.6 1-5.6z"/>
<path fill="#fddcaa" d="M503.7 199l1.2 0-.2 3.7-1.2-1.7-.4-2 .6 0zM518.7 199l2.2 0 1.4 16 0 21-.6 7-1 5-1 1-1.3-2-1-5-.4-7-.1-21 1.8-15zM569.6 199l-.1 8-.7-8 .8 0zM539.6 202.3l1 3.7-1 2.3 0-6zM527.7 203.8l1-.7 1 0 1 1.6 1.5 5.3 1.2 7-.2 11-1.3 6-1.4 3-.8 .7-1-.4-1-1.6-1.3-4.7-1-7 .1-13 .9-5 1.3-2.2zM547.6 211.9l1 .2 1.5 1.9 .4 6-.7 10-1.2 4.4-1 .7-1-2-1.2-5.1-.4-6 .8-7 .8-2.2 1-.9zM460.8 233.6l1-.3 .1 .7-.1 7.2-1-.2-.2-1 .2-6.4zM565.6 249.4l2-.2 1 .7 1 2.4 0 29.6-2 3.9-1 .5-2-2.4-1.1-3-1.4-10.9 .2-7 .9-7 1.3-5 1.1-1.6zM494.7 250.8l1.4 5.2 .7 9 .2 23.9-1.2 22-1.1 6.9-.7-.9-1.9-12-.5-14 .8-30.9 1.2-8 1.1-1.2zM475.7 257.8l1 .6 3.2 5.6 1.3 7-.1 12.9-1 5-1.4 1.7-2-.5-1.2-1.2-1.2-3-1-6-.2-5.9 .5-8 1.1-6.7 1-1.5zM507.7 260.7l2-.4 1.3 1.7 2 6 .7 6 0 3.9-.6 5-1.8 4-1.6 2-2 1.1-1-.1-1.6-4-1.2-7 .1-5.9 .8-6 1.2-4 1.7-2.3zM533.7 264.4l.7 2.6 0 5-.7 2.8-.8-.8-.8-2-.1-4 .4-2 1.3-1.6zM531.7 278.2l1 .1 .6 4.6 .1 6-.7 4.6-1-.2-.8-4.4 0-6 .8-4.7zM482.7 294.9l0 3.2 0-3.2zM507.7 298.7l1 .1 1 2.1 1.1 7 .4 6-.3 10-2 12-.2 .7-1-.3-.4-1.4-1.2-12 .1-17 .5-4 1-3.2zM546.6 306.4l1.2 2.5 .4 6-.3 6-1.3 3.4-1.1-2.4-.5-6 .6-7 1-2.5zM477.7 327.4l1-.3 .8 1.8 0 2-.8 2.4-1-.3-.4-1.1-.1-3 .5-1.5zM551.6 329.4l1 .6 .7 2.9-.1 6-.6 2.5-1 .2-.5-2.7-.1-6 .6-3.5zM472.7 332.5l1.6 2.4 .2 3-.2 3-1.6 2.1-1.2-1.1-.7-4 .7-4 1.2-1.4zM569.6 349.8l0 1.1 0-1.1z"/>
<path fill="#f3a466" d="M519.7 199l1 1.8 .7 5.2 1 19-.7 15.8-1 5.5-1 1.3-1-1.2-1.1-5.4-.7-17 .6-14 1.2-9 1-2zM527.7 204.9l1-.8 1 0 1 1.7 1.3 5.2 1 7 .1 6-.6 5-.9 4-1.6 3-.3 .3-1-.4-1-1.6-1.4-5.3-.7-6 .2-12 .9-4.3 1-1.8zM547.6 213l1 .2 1 1.8 .6 6-.6 8.2-1 3.9-1 .6-1.6-4.7-.6-7 .7-6 .5-1.9 1-1.1zM565.6 250.4l2-.2 1 .9 1 2.7 0 27-1.4 3.1-1.6 1.5-1-.7-1-1.7-1-3.1-1.3-9.9 .9-13 1.3-5 1.1-1.6zM493.7 253.7l1-.7 1 3.4 .9 12.6-.2 29.9-.6 10-1.1 6.3-1-1.6-1.2-7.7-.6-11 .4-28.9 1.4-12.3zM475.7 259.2l1 .4 2.4 4.4 1 3 .6 4 .3 5.9-.4 5-.7 4-1.2 2.6-1 .4-2-1.1-1.1-2.9-1-6-.1-5.9 .4-7 .8-5.1 1-1.7zM507.7 261.7l2-.3 1.2 1.6 1.7 5 .8 6-.2 5.9-.9 4-1.6 3.2-2 1.7-1 .4-1-.3-1-2-1.2-5-.4-4 .2-5.9 .8-5 1.4-4 1.2-1.3zM533.7 264.9l.6 2.1 .1 4-.5 3-.2 .4-.5-.4-.9-2-.2-3 .2-2 1.4-2.1zM531.7 279.3l1 .2 .3 2.4 .2 6-.5 4.5-1-.2-.5-3.3 .5-9.6zM507.7 300.3l1-.1 1 2.3 1.2 10.4-.1 9-1.8 12-.3 1-1-.5-.1-.5-1.3-11 .1-15 1.3-7.6zM546.6 307.5l1 2.1 .4 5.3-.4 5.9-1 2.4-1-2.1-.4-5.2 .4-6 1-2.4zM478.7 327.9l.3 4-.3 .6-1-.4-.1-3.2 .1-.6 1-.4zM551.6 330.5l1 .6 .6 3.8-.3 5-.3 .8-.7 .2-.5-1-.3-4 .5-5.4zM472.7 333.3l1.3 1.6 .4 3-.3 3-1.4 1.8-1-.8-.8-4 .4-3 1.4-1.6z"/>
<path fill="#f3a466" d="M519.7 200.9l1 2.1 .7 5 .8 17-.5 13.5-1 6.2-1 1.5-1-1.2-1-5.7-.7-15.3 1-16 .7-4.9 1-2.2zM528.7 205.1l1 0 1.3 2.9 1.1 5 .6 7-.8 10-1.2 3.9-1 1.1-1-.3-1.6-3.7-1.4-10 .6-11 .8-3 1.6-1.9zM547.6 214.1l1 .3 .4 .6 .9 5-.3 7.3-1 4.4-.4 .3-.6 .3-1-2.2-.9-7.1 .6-6 .3-1.5 1-1.4zM566.6 250.9l1 .2 1 1.1 1 3 0 24.5-2 4.3-1 .5-.8-.6-1.3-2-1.1-4-.9-10.9 .5-7 .9-5 .7-2.4 1-1.3 1-.4zM493.7 255.7l1-.7 1 3.9 .7 11.1-.1 27.9-.6 9-1 6.1-1-1.7-.7-4.4-1-13 .4-25.9 1.3-12.3zM475.7 260.5l1 .4 2 3.8 1.6 6.3 0 9.9-.8 4-1.1 2-.7 .5-1-.1-1-1-1-2.5-.7-4.9 .1-11.9 .6-4.4 1-2.1zM507.7 262.5l1-.4 1 .2 1.2 1.7 1.4 4 .8 6-.1 4.9-.8 4-1.5 3.4-1.7 1.6-1.3 .5-1-.4-.5-1.1-1.2-4-.6-5 0-4.9 .8-5 1.3-4 1.2-1.5zM533.7 265.3l.6 4.7-.2 3-.6 1-1.1-2-.2-3 .4-2 1.1-1.7zM531.7 280.6l1 .2 .1 1.1-.1 9.3-1-.1-.2-1.2 .2-9.3zM508.7 301.7l1.3 4.2 .7 10-.7 11-1.3 6.2-1-.5-.5-2.7-.8-13 .7-12 .6-2.9 1-.3zM546.6 308.7l1 2.7 .2 3.5-.2 4.1-1 3-1-2.7-.1-3.4 .1-4 1-3.2zM551.6 331.4l1 .6 .2 .9-.2 7-1 .3-.2-1.3-.2-5 .4-2.5zM472.7 333.7l1.3 2.2 .2 2-.4 3-1.1 1.5-1.3-1.5-.3-3 .4-3 1.2-1.2z"/>
<path fill="#f07414" d="M519.7 202.6l1 2.2 .5 4.2 .9 16-.6 13-.8 5.1-1 1.7-1-1.3-.8-4.5-.7-15 .8-14 .7-5.1 1-2.3zM528.7 206.1l1 .1 1.2 2.8 1 5 .5 6-.7 9-1 3.5-1 1.2-1-.3-1.3-2.4-1-5-.4-5 .6-11 1.1-2.9 1-1zM547.6 215.4l1 .2 1 4.4 0 4.3-1 5.7-1 .5-1-2.4-.4-4.1 .3-6 1.1-2.6zM566.6 251.7l1 .3 1 1.2 1 3.3 0 22.1-1.3 3.3-.7 1.3-1 .5-1.1-.8-1.6-4-.9-4.9-.3-6 .4-7 .8-5 1.1-3 .6-.9 1-.4zM493.7 257.7l1-.7 1 4.4 .5 9.6 0 25.9-.5 7.7-1 6.4-1-1.8-.5-3.3-1-12 .4-23.9 1.1-12.3zM475.7 261.9l1 .3 2 4.2 1.3 5.6-.3 9.4-1 3.5-.9 1-1.1 0-1-1-1-3.1-.4-3.9 0-9.9 .4-3.6 1-2.5zM508.7 262.9l1 .2 .7 .9 1.3 3 .9 4 .3 4.9-1.1 7-1.1 2.6-2 1.9-1 .3-1-.5-.9-2.3-.9-4-.3-5 1.1-9.1 1-2.4 2-1.5zM533.7 265.7l.5 2.3-.1 4-.4 1.7-.6-.7-.7-4 .3-1.6 1-1.7zM531.7 282.8l1 2.4 0 4.2-1 0 0-6.6zM507.7 303.8l1-.5 1 2.6 .7 8-.5 11-1.2 6.4-1-.6-1-9.7 0-9.1 1-8.1zM546.6 311.9l.5 4-.5 4.4-.3-3.4 .3-5zM551.6 332.2l1 .8 0 5.9-1 .4 0-.4 0-6.7zM471.7 334.9l1-.8 1.3 2.8-.1 3-1 2-1.2-.6-.3-1.4-.1-3 .4-2z"/>
<path fill="#d06a28" d="M519.7 204.3l1 2.3 .4 3.4 .8 15-.7 13-.5 3.4-1 2-1-1.3-.7-4.1-.6-14 .8-14 .5-3.4 1-2.3zM528.7 207.1l1 .1 1 2.2 1.3 9.6-.3 8.3-1 3.8-1 1.3-1-.3-1-1.6-1.1-4.5-.4-5 .5-9.8 1-2.9 1-1.2zM547.6 217.1l1 .1 .6 3.8-.6 6.4-.5-1.4-.5-2.1-1 .5 0-.4 0-4.2 1-2.7zM565.6 252.9l1-.4 1.2 .5 .8 1.1 1 3.6 0 19.7-1.2 3.5-.8 1.5-1 .5-1-.6-1.4-3.4-1.2-8.9 .5-11 1.1-4.6 1-1.5zM493.7 260l1-.9 .6 2.9 .8 10-.1 23.9-1.3 13.2-1-1.8-.4-2.4-.9-12 .3-21.9 1-11zM475.7 263.4l1 .4 1 2.1 1 2.6 .9 4.5-.1 5.9-.8 4-.7 1-1.3 .5-1-1.2-1-4.3-.2-9.9 1.2-5.6zM508.7 263.6l1 .3 .8 1.1 1.2 3 .7 4 .2 4.9-.6 4-.9 3-1.4 2.2-1.8 .8-1.2-.6-1-2.7-.9-8.6 1.2-8 .9-2 1.8-1.4zM533.7 266.1l.3 4.9-.2 2-.1 .4-.3-.4-.7-1.7-.2-2.3 1.2-2.9zM508.7 305.2l1 2.9 .4 7.8-.4 8.4-1 5-1-.7-.7-11.7 .7-10.9 1-.8zM551.6 333.4l1 1.2 0 2.6-1 .2 0-4zM472.7 334.5l.9 1.4 .3 2-.2 2-1 1.8-1-.8-.3-3 .3-2.6 1-.8z"/>
<path fill="#d06a28" d="M519.7 205.8l1 2.6 .3 2.6 .7 14-.8 13-1.2 3.9-1-1.4-.4-2.5-.8-14 .8-13 .4-2.8 1-2.4zM528.7 208.3l1 .1 1 2.5 1 8.1-.3 7-.7 3.5-1 1.5-1-.2-1-1.3-1.3-8.5 .3-8 1-3.5 1-1.2zM565.6 253.6l1-.4 1.3 .8 .7 1.1 1 4 0 17.1-1 3.5-1.6 2.2-.4 .3-1-.7-1-2-1.4-8.5 .4-11 1-4.7 1-1.7zM494.7 261.3l1 6.7 .3 18.9-.3 12.5-1.1 7.5-.9-1.6-.6-4.4-.6-13 .9-21.9 .3-3.5 1-1.2zM507.7 264.8l1-.5 1 .3 1 1.5 1.2 3.9 .4 4-.1 3.9-.7 4-.8 2.1-1.8 1.9-1.2 .3-1-.8-1-2.9-.6-4.6 .6-8.9 1-2.9 1-1.3zM475.7 265.3l1 .7 2.2 7 0 5.9-1.2 3.4-1 .1-1-1.3-.9-6.1-.1-4 1-5.7zM533.7 266.5l0 6.5-1-3 1-3.5zM508.7 308.3l1 3.6 .1 4-.1 3.7-1 6.6-1-.4-.3-7.9 .3-8.9 1-.7zM472.7 334.9l1.1 3-1.1 3.4-1-1-.2-2.4 .2-2.1 1-.9z"/>
<path fill="#e04424" d="M519.7 207.4l1.1 3.6 .7 13-.8 13-1 3.2-1-1.3-.3-1.9-.7-13 .8-13 1.2-3.6zM528.7 209.6l1 .3 1 3 .6 8.1-.6 6.4-1 1.9-1 .2-1-1.2-.3-1.3-.8-8 .5-6 .6-2.1 1-1.3zM565.6 254.4l1-.4 1.4 1 1.6 5.6 0 14.3-1 3.9-1.3 2.1-.7 .5-1-.6-1-2.2-1.2-7.6 .3-10 .9-4.8 1-1.8zM494.7 263.9l1 8.1 .2 14.9-.2 9.1-1 8.9-1-1.5-.3-2.5-.7-13 1-22.2 1-1.8zM508.7 264.9l1 .4 1.4 2.7 1 7-1 6.9-1.4 2.9-1 .6-1 .1-1.2-1.6-.8-3-.4-5 .3-4.9 .7-3 1.4-2.5 1-.6zM533.7 266.9l0 5.5-.6-2.4 .6-3.1zM472.7 335.3l.6 1.6 0 2-.6 2-.7-1-.3-3 1-1.6z"/>
<path fill="#f00c0c" d="M519.7 209l1 3.3 .5 10.7-.5 11.7-1 3.4-1-1.2-.8-12.9 .7-12 1.1-3zM528.7 211.5l1 .6 1 7.9 0 3.5-1.8 4.5-1.2-.9-.9-7.1 .5-6 .4-1.4 1-1.1zM566.6 254.7l1 .5 1 1.8 1 5.3-.1 11.7-.9 3.8-1 2.1-1 .8-1-.7-1.1-3.1-1-9.9 1.1-9.8 1-2 1-.5zM508.7 265.6l1 .4 1.1 2 1.1 7-1.1 6.9-1.1 2.2-1 .6-1 0-1-1.1-.9-3.7-.3-4 .8-6.9 1.4-2.8 1-.6zM494.7 267.6l1 21.3-.7 11-.3 2.7-.4-.7-.6-.7-.2-2.3-.5-10 .7-16.8 1-4.5zM533.7 267.6l0 3.8 0-3.8zM472.7 335.8l0 4.2-.6-2.1 .6-2.1z"/>
<path fill="#f00c0c" d="M519.7 210.7l1 4 .2 7.3-.2 8.2-1 4.4-1 0-.5-10.6 .5-10.6 1-2.7zM527.7 214.3l1 .3 .5 2.4 0 6-.5 3.3-1-.8-.4-3.5 .4-7.7zM566.6 255.5l1 .5 1 2.1 1 6.8-.3 8.1-.7 3.8-1 2.2-1 .8-1-.7-.5-1.2-.8-2.9-.6-6 .1-5 .8-5.8 1-2.1 1-.6zM507.7 266.9l1-.7 1.2 .8 1.2 3 .5 4-.8 6.9-1.1 2.4-.9 .6-1.1 0-1-1.4-.9-5.6 .3-5.9 1.6-4.1zM494.7 280.9l.5 12-.5 6.9-.7-.9-.5-3-.1-7 .3-5.6 1-2.4z"/>
<path fill="#cc0c0c" d="M519.7 212.8l.9 5.2 .1 4.4-1.8 8.6-.4-12 .2-3.3 1-2.9zM527.7 216.6l.9 3.4-.9 2.5 0-5.9zM565.6 256.9l1-.5 1 .5 1 2.4 .6 3.7 0 9-.6 3.5-1 2.5-1 .9-1-.7-1-3-.4-3.2-.1-9 .5-3.6 1-2.5zM508.7 266.9l1 .5 1 2.1 .6 5.5-.6 5.3-1 2.2-1 .7-1-.1-1-1.8-.7-5.4 .7-6.1 1-2.2 1-.7zM494.7 288l-.1 7.9-.8-2-.1-2 1-3.9z"/>
<path fill="#8b0000" d="M519.7 216l0 4.6-1 5.5 0-6.7 1-3.4zM565.6 257.9l1-.6 1 .6 1.3 5.1 0 9-1.3 4.9-1 1-1-.8-1.1-4.1-.2-9 .3-3.1 1-3zM508.7 267.6l1 .6 1 2.5 .3 4.3-.3 3.9-1 2.6-1 .8-1-.2-1-2.3-.4-4.8 .4-4 1-2.5 1-.9z"/>
<path fill="#8b0000" d="M566.6 258.5l1 .7 .5 1.8 .7 6-.2 4.7-1 3.7-1 1.2-1.2-1.6-.8-3.9-.1-4.1 .6-6 .5-1.8 1-.7zM508.7 268.5l1 .6 .3 .9 .7 5-1 4.9-1 1.1-1-.3-.3-.8-.7-4.9 .8-5 1.2-1.5z"/>
<path fill="#edfbfb" d="M456.8 199l9.1 0-1.1 13.5-1.2-.5-.8-2-2-.4-1-3.7-1 .3-1 2.3-1.3-7.5-.1-2 .4 0zM471.7 199l7.7 0 .3 5.7 .4-5.7 2.9 0 .5 8 1.2 5-.2 10-1.8 14.7-1 3.7-1 1 0-15.4-1-12.2-1-3.1-2 4.2-2-2.8-2-.6-.6 16.5-1.4 4.4-.6-1.4-.9-5 .1-13 .4-4 1.3-5 0-5 .7 0zM495.7 199l4 0 .3 10 .7 3.3 .3-4.3 1-2 .7-1.1 1 1.7 1.7 11.4 .1 20-.9 13 .2 10-1.2 8-.3 5 .4 11.6 1.1 5.3-.8 19 1.1 21-1.4 19.2-1.6-14.2-.1-5 .8-19-.5-13-.6-.5-1.3 1.5 .5 8-2.2 14-1-1.2-.5-5.8 .5-15.5 1.1-6.5-.9-15 .8-3.1 .6-5.8 1.8-7 .8-7-1.8-23-.7-17-1.7-3.2-1-.5-2 1.9-.2-1.2 .7-13 .5 0zM509.7 199l2.7 0-.3 5-1.8 4-.6 1.1-.5-4.1-.2-6 .7 0zM514.7 199l1.4 0-.3 6-1.2 9-.2 8-.7 1.9-1 0-1.6-2.9-.1-5 .1-1 1.9-3 .7-13 1 0zM527.7 199l6.5 0-.6 5-.6 2-.3 .3-3-6.6-2 .1-1-.8 1 0zM543.6 199l5.5 0-.4 8-1.1 .9-.7-.9-1.3-4-1 1.3-.6-1.3-.6-3-.1-1 .3 0zM523.7 204.7l.3 19.3 2.9 17-.2 1.2-2 1.1-1 2-.9-.3 .5-6 .4-34.3zM554.6 215.5l1.3 27.5-1.6 17 .6 26.9 .7 .5 1-.2 .7-.3 .2-1-.1-24.9 .6-12 1.5-10 2.1-4.4 .7-2.6 1.3-16.2 1 0 2.1 7.2 .9 5.4 .2 5.6-1.2 6.9-1-.3-1 .5-.2 .9-2.4 17-.8 9 .5 11.9-.8 19-.6 7-1.3 7-1.1 3-1.3 1.2-1.7-1.2-1-2-1-6-.3-13.8-2-4.2-1 37 .3 10 2.7 12.2 2-6.7 1-.2 1 2.6 1.1-10.9 .9-4.6 2-1.6 2.2-5.8 .5-7-.3-10-.1-7 .6-11 1.1 .9 1.1 2.1 .9 6.6 1 .4 2-9 0 24.9-2.5 7.1-.8 5-.5 26-.8-9-.4-1.5-1-.3-2 7.6-1 0-.9 3.2-2 0-.1-1.8-.1 1.8-8.6 0-.6-15-.7-3.8-1-.4-1.2 7.2-.5 12-2.3 0-.3-11 1.6-17 .7-.5 .6 3.5 1.4 2.5 .4-.5 1-2 .6-5 .6-1 .1-5-1.2-9-1.5-2.6-1.3 2.6-1.1 6-.6 9.7-.4-2.7-1.6-3.3-.2-1.7-.4-9 2.6-16.7 1.3-4.3 1.5-12.9 .2-.6 1 .5 1.5 5 .5 4.7 .2-.7 .2-26.9-1.1-13 1.7-8.8 1.8-5.2 2.2-10.5zM514.7 228.5l1 6.2 1 18.3 1-.4 1 .6 5 4.8 3.4 15 .1 24.9 .5 5.1 2-3.6 1 3.9 1.1 11.6 1.9 .6 2 2.4 1.9 .2 .7 14.8-1.6 14-.1 4-5.3 0 .1-7-2.3-8-1.4-10.8-1-4.3-1-1.3-1-2.9-3-1.1-1-1-1.2-4.6-2.1-26 .3-14.4-1-1-1-3.3-1.3-5.2-.7-6.1 0-24.1 .2-.8 .8-.5zM544.6 233.5l1 .9 1.6 6.6-1.6 9.3-1 2.9-1-2.1-.4-2.1-.6-9 .4-4 1.6-2.5zM471.7 240.8l1 1.2 .2 1 .7 13-.9 9-1 1.9-.1-.9-2.4-11 .5-9.9 2-4.3zM476.7 242.1l3 1.9 .4 1-.4 12.1-1 .2-1-1.4-1.6-3.9-.1-7 .7-2.9zM538.6 243.6l1 7.4 .5 22-1.5 16.2-1-.1-1.6-4.2-.3-.5-1 2.8-1.3-10.3 1.3-2.7 1 .5 .8-3.7 .4-21 .7-4.8 1-1.6zM522.7 245.1l.3 .9-.3 1 0-1.9zM460.8 247.8l.7 3.2-.2 7-1.4 25.9-1.1 3.7-.8-4.7 .1-11.9 1.4-19 1.3-4.2zM486.7 261.8l1 .4 1 2.1 1 4.1 1 .2 0 15.2-1.9 9.1-1.1 0-2-3-.7-6 .1-12.9 .6-6.1 1-3.1zM530.7 276.8l0 .3-.5-.2 .5-.1zM529.7 277.3l.3 .6-.3 6.3 0-6.9zM511.7 289.7l1-.4 .1 .6 .2 6-.3 7.5-1.1 2.5-.5-5-2.2-7 .6-2 2.2-2.2zM456.8 296.8l1 8.9 1 .3 2-1.8 1 0 1 1.5 .3 2.2 .6 6 .2 15 1.3 12 .6 10-2.3 0-.3-9-.4-1.5-1.1-.5-.7 11-6 0-.5-11-.1-28 1.4-14.7 1-.4zM473.7 302.8l0 6.1-.9-2 .9-4.1zM519.7 319.7l1 .2 1.6 3 .9 3 .3 3-.1 7-1.3 15-1.4 0-1.6 0-.2-7-1.6-6-.3-3 .3-8 .9-4 1.5-3.2zM499.7 326.2l1.3 5.7-.1 2-.7 2-.5 .9-.6-4.9 .1-4 .5-1.7zM511.7 328.9l.1 10-1.1 5-.6-1-.2-2 .8-7.6 .6-1.4 .4-3zM494.7 331.1l1 1.2 .1 2.6-.1 3.8-.8 4.2-.2 .6-.4-1.6-.4-4 .8-6.8zM484.7 333l1 6.9-.1 11-8.4 0 .5-12.3 2-1.5 1-.7 1.8 1.5 .1 1-.2 5-1.7 .8-1-.9-.5 .1 .5 3.7 1 2.9 1-1.9 1.2-4.7 1.8-10.9zM469.7 334.8l.7 6.1 1.3 2.8 1.6 1.2 .9 3 .3 3-1.8 0-4.2 0 .1-12 1.1-4.1z"/>
<path fill="#edfbfb" d="M462.8 199l2.1 0-.5 5-.6 .6-1-5.6zM472.7 199l4.8 0-.8 7.4-1-.9-1 .2-1 1.5-1-.8-.7-7.4 .7 0zM530.7 199l2.6 0-.6 4.8-2.5-4.8 .5 0zM547.6 199l0 1.3 0-1.3zM502.7 206l1 1.6 .8 4.4 .7 7 .2 10-.2 11-.9 10-.6 3.8-1 1.3-1.5-10.1-.9-20 .7-14 1.7-5zM470.7 207.4l1.3 2.6 .2 6-.3 10-1.2 4.3-1-3.3-.4-8 .3-7 1.1-4.6zM481.7 210.6l1 4.6 .3 4.8-.3 6.7-.9 5.3-.7-16 .6-5.4zM512.7 213.5l1.2 1.5 .4 3-.2 3-1.4 2.2-1.2-2.2-.3-3 .2-2 1.3-2.5zM562.6 237.8l.4 3.2-.4 10.5-1.6 11.5-.7 9-.7 19.9 .4 10-.6 7-.5 3-1.3 3.7-1 .9-1-.5-1.2-2.1-1.3-7 .1-10 .8-5 1.3-3 1.3-.7 1.8 .7 .2 .7 .4-.7-.4-4 .4-11.9-.5-12 .4-9 1.2-10 1.5-3.3 1-.9zM551.6 240.3l1 1.6 1-.9 .8 3-1.5 11 .5 17-.8 6.6-1-2.6-.7-10-.3-23.7 1-2zM477.7 247.1l1 .9 .4 2 .1 3-.5 2.1-1-1.3-.5-1.8 0-3 .5-1.9zM538.6 252.5l.3 9.5-.3 5.4-.2-.4-.8-1.8-.1-8.2 .1-3.2 1-1.3zM520.7 257.7l1-.4 1.6 1.7 .3 1 2.4 9 .9 7.9-.5 30-.4 3-.9 3-.8 1-.6 .5-2-.7-1.2-1.8-1.2-6-1-12-.4-12 .9-19.9 .9-2 .2-2 .8-.3zM502.7 260.9l1 2.6-.6 5.5 .3 19.9-1.1 6-.6 1.4-1 .8-1.6-5.2-.2-16.9 1.4-9 2.4-5.1zM487.7 269.6l1 3.7 .3 5.6-.3 5.9-1 2.3-1-.9-.3-1.3-.6-5 .9-8.9 1-1.4zM547.6 281l1.4 10.9 .1 13-.5 1.8-.3-2.8-1.7-2-1.4 3-.5 3-1.1 3.8-.9-1.8-.4-3 .3-4.9 1-6.9 1-2 1 .1 .6-1.3 1.4-10.9zM510.7 292.7l1-.3 0 3.3-.4 .2-.6 .1-.4-2.1 .4-1.2zM564.6 295.3l1 4.1 .8 9.5-.8 7.8-.8 .2-.7-13 .5-8.6zM528.7 306.5l1 .3 1.2 9.1 .8 .6 2 .1 1 .9 1.4 2.4 1.3 4 .1 10-1.6 8-.1 9-3.8 0 .2-7-3.2-10-1.3-20 .2-4 .8-3.4zM519.7 320.9l1 .1 1.4 2.9 1.1 7-.3 5-1.5 9-.4 6-.3 0-.4 0-.3-6-2-6-.7-6 .8-8 1.6-4zM480.7 336.8l1.6 1.1 .3 3-.2 2-1.7 1.5-1.5-1.5-.3-2 .4-3 1.4-1.1zM469.7 340.3l2 4.6 .6 3 .4 3-1 0-2.5 0 .5-10.6zM458.8 342.4l1 .5 .4 8-.4 0-1.9 0 .9-8.5zM550.6 345.3l.3 5.6-1.3 0 0-4.5 1-1.1z"/>
<path fill="#dfe6f7" d="M531.7 199l.7 0-.7 1.1-.4-1.1 .4 0zM502.7 206.9l1 1.7 .6 3.4 1 13-.3 15-.8 9-.7 3-.8 .9-1.2-6.9-.7-15 .3-18 1.6-6.1zM470.7 209.2l1 3.4 .3 5.4-.3 5.9-1 4.6-1-3.9-.2-5.6 .2-5.4 1-4.4zM512.7 214.3l1.1 1.7 .3 2-.4 3-1 1.5-1-2-.3-2.5 .3-2 1-1.7zM561.6 243.8l.3 4.2-.3 7.8-1.1 4.2-.9-2 .1-5 .9-7.9 1-1.3zM521.7 257.9l1.6 2.1 1.9 7 1 6 .5 7.9-.6 24-1.1 6-1.3 2-2-.5-1.6-3.5-.9-6-.9-14 .8-24.9 1.1-5 1.5-1.1zM500.7 265.8l1-.7 .5 .9 .7 7 .2 13.9-1.4 8-1 .8-.7-1.8-1.1-9 .3-11.9 1.5-7.2zM555.6 289.4l1-.4 1 .6 .8 1.3 .7 2 .4 5-.4 12-1 4-1.5 2-1-.4-1.2-2.6-1.2-8 .7-11 1.7-4.5zM544.6 300.2l0 5-.3-2.3 .3-2.7zM530.7 317.7l3-.3 1 1 1.3 2.5 1 4 .1 9-1 5-1.7 5 .4 6 0 1-1.9 0 .3-7-2.6-5-1.5-6-.3-5 .3-7 .6-2.4 1-.8zM519.7 321.7l1 .1 1 2.1 1.1 7-.6 8-1.5 4.1-1-.6-1.3-3.5-.8-6 .5-7 1.6-4.2zM480.7 337l1.3 .9 .5 3-.3 2-1.5 1.1-1.6-2.1-.1-1 .1-2 1.6-1.9zM470.7 348.4l0 2.5-.3 0 .3-2.5z"/>
<path fill="#c9ebe3" d="M502.7 207.8l1 1.7 .6 3.5 .8 14-.7 18-.7 5.1-.7 .9-.3 .4-.1-.4-1.1-7-.7-16 .4-14 1.5-6.2zM470.7 211.1l.8 6.9-.8 8.3-.8-7.3 .8-7.9zM512.7 214.9l1.1 3.1-.6 3-.5 .8-1-2.8 .2-2 .8-2.1zM521.7 258.3l1.6 2.7 2 8 .9 6 .3 6.9-.6 22-1.2 6.2-1 1.5-1 .1-1-.5-1-1.7-.8-3.6-1.4-19 .7-21.9 1-5 1.5-1.7zM500.7 266.9l1-.5 .5 1.6 .7 8.9 0 9-.7 6-.7 2-.8 .6-.8-2.6-.8-8 .2-9.9 1.4-7.1zM556.6 289.6l1.4 1.3 1 3 .4 11-.5 5-1.1 4-1.2 1.5-.9-.5-1.6-4-.6-10 .9-8 1.2-2.9 1-.4zM530.7 318.9l1-.7 2-.1 1.4 1.8 1.4 4 .5 4-.2 5-.9 5-1.2 3.6-1 1.1-1-.5-1-1.5-1.5-3.7-.8-4-.2-9 .5-3 1-2zM519.7 322.5l1 .1 1 2.1 .8 5.2-.3 7-1.5 4.9-1-.4-1-2.5-.8-5 .3-7 1.5-4.4zM480.7 337.2l1.1 .7 .5 1 .1 2-.4 2-1.3 .9-1.4-1.9-.2-1 .2-2 1.4-1.7z"/>
<path fill="#c9ebe3" d="M502.7 208.7l1 1.6 .6 3.7 .7 14-.8 17-.5 3.8-.9 1.2-1.4-8-.5-15 .4-12 1.4-6.3zM470.7 214.9l0 .2 0-.2zM512.7 215.8l.4 2.2-.4 3-.4-3 .4-2.2zM521.7 258.7l1.4 2.3 1.9 8 1.3 10.9-.4 21-1 7-1.2 2.5-1 .2-1-.6-1.1-2.1-1.1-7-.7-10 .6-24.9 .7-5 .6-1.5 1-.8zM500.7 267.8l1-.2 .4 1.4 .7 8.9-.3 10-1.2 5-.6 .6-.7-2.6-.8-8 .3-8.9 1.2-6.2zM555.6 290.6l1-.5 1 .8 1.6 6 0 10-1.6 7-1 1-1-.5-1.1-2.5-.6-4 0-11 .5-3 1.2-3.3zM531.7 318.9l2-.2 1 1.1 1.3 3.1 .5 3 .2 4-.4 5-1 4-1 2-.6 .7-1-.3-1-1.5-1.5-3.9-.7-4 0-8 .6-3 1.6-2zM519.7 323.2l1 .1 .7 1.6 .9 5-.3 7-1.3 4-1-.4-.7-1.6-.9-5 .3-7 1.3-3.7zM480.7 337.3l1.5 1.6 .1 2-.5 2-1.1 .7-1.4-2.7 .2-2 1.2-1.6z"/>
<path fill="#a8d3e6" d="M502.7 209.5l1 1.5 .5 3 .7 12-.5 15-1 7-.7 .9-1-5.8-.7-12.1 .3-15 1.4-6.5zM520.7 260l1-.9 1.5 2.9 2.1 10 .8 6.9-.2 20-.9 7-1.1 3-1.2 .7-1-.6-1-2.1-1.5-11-.3-12 .6-16.9 1.2-7zM500.7 268.8l1 0 .3 1.2 .7 10.9-.7 9-.3 1.6-1 .9-1-4.5-.4-7 .4-6.9 1-5.2zM556.6 290.6l1 .9 .9 2.4 .8 8-.9 9-.8 2.5-1 1.1-1-.6-1.1-3-.8-8 .6-8 1.3-3.7 1-.6zM531.7 319.5l2-.2 1 1.1 1.3 3.5 .4 3-.3 8-1.1 4-1.3 1.9-1-.2-1.6-2.7-1.5-7 .3-8 .8-2.2 1-1.2zM519.7 324l1 0 .4 .9 1 5-.2 6-1.2 4.2-1-.4-.4-.8-1-5 .2-6 1.2-3.9zM480.7 337.5l1.4 1.4 .2 2-.6 1.8-1 .7-1.3-2.5 .3-2 1-1.4z"/>
<path fill="#5aa7e6" d="M502.7 210.2l1 1.4 .4 2.4 .6 12-.3 14-1.1 7-.6 .8-1-6-.6-11.8 .3-13 1.3-6.8zM521.7 259.5l1 1.5 .6 2 2.1 11 .6 6.9-.4 19-.9 6-1 2.3-1 .5-1-.6-1-2.4-1.5-13.8-.1-9 .7-17.9 .6-4 1.3-1.5zM500.7 269.7l1 .2 .2 1.1 .6 9.9-.7 9-1.1 1.4-1-5-.2-5.4 .2-5.7 1-5.5zM555.6 291.7l1-.6 1 1 1.1 3.8 .4 4-.3 8-1.2 5-.9 1-1.1-.5-.6-1.5-1.1-6 .3-9 1.4-5.2zM532.7 319.7l1 .2 1.7 3 .9 7-.3 4-1 4-1.3 2.2-1-.2-1-1.4-1.3-3.6-.8-7 .9-6 1.2-1.7 1-.5zM519.7 324.8l1 .1 1.2 5-.2 6-1 3.3-1-.3-1.2-5 .2-5.8 1-3.3zM480.7 337.7l1.3 1.2 .2 2-.5 1.6-1 .8-1.2-2.4 .3-2 .9-1.2z"/>
<path fill="#5aa7e6" d="M502.7 210.9l1 1.3 .5 2.8 .4 13-.6 15-.3 2.2-1 1.6-1.1-7.8-.4-12 .3-10 1.2-6.1zM521.7 259.8l1.5 3.2 2.1 12 .6 6.9-.4 17-.8 5.8-1 2.6-1 .6-1-.7-1-2.6-1.4-12.7 .6-26.9 .7-4 1.1-1.2zM500.7 270.8l1 .3 .6 8.8-.6 9-1 1.3-1.1-9.3 1.1-10.1zM556.6 291.5l1 1.1 .7 2.3 .7 7-.7 8-.7 2.5-1 1.2-1-.6-1-2.8-.6-7.3 .6-7.8 1-2.9 1-.7zM531.7 320.8l1-.5 1.4 .6 1 2 .8 3 0 7-.8 4-1 2-.4 .6-1-.2-1-1.4-1.6-6 0-7 .6-2.6 1-1.5zM519.7 325.7l1 0 1 4.2 0 4.9-1 3.6-1-.4-1-4.9 .1-3.2 .9-4.2zM480.7 337.8l1.2 1.1 .2 2-.4 1.4-1 .8-1-2.2 .3-2 .7-1.1z"/>
<path fill="#4a72ee" d="M502.7 211.5l1 1.3 .4 2.2 .4 12-.6 15-.2 2.1-1 1.6-1-6.7-.4-12 .4-10 1-5.5zM521.7 260.2l1 1.4 .5 2.4 2.1 12.9 .5 7-.7 17-.9 4-.5 1.5-.8 .5-1.2-.5-1-2.9-1.3-13.6 .6-24.9 .7-3.8 1-1zM500.7 271.9l1 .5 .3 3.5 0 8-.6 4-.7 .8-.7-6.8 .7-10zM555.6 292.6l1-.6 1 1.1 1.3 6.8-.4 8-.9 4-.8 1-1.2-.4-.2-.6-1.2-6 .1-8 1.3-5.3zM532.7 320.8l1 .2 1 1.4 1.2 5.5-.3 6-.9 3.5-1 1.4-1-.1-1-1.5-1.1-3.3-.5-4 .6-6.7 1-1.8 1-.6zM519.7 326.9l1-.2 .7 4.2 0 3-.7 3.5-1-.4-.4-2.1 .4-8zM480.7 338l1 .9 .3 2-.3 1.1-.9 .9-1-2 .3-2 .6-.9z"/>
<path fill="#2171d6" d="M502.7 212l1 1.3 .3 1.7 .4 10-.5 16-.2 1.9-1 1.7-1-7.1-.3-10.5 .4-10 .9-5zM521.7 260.5l1 1.5 .4 2 .6 5.8 1.4 7.1 .5 8-.7 16-1.2 4.6-1 .8-1-.8-1.1-3.6-1-13 .5-23.9 .6-3.4 1-1.1zM500.7 273.5l1 .6 .2 3.8-.2 7.5-.9 .5-.1-12.4zM556.6 292.4l1.4 2.5 .8 7-.8 8-.4 1.5-1 1.3-1-.7-1-3.1-.4-6 .6-7 .8-2.8 1-.7zM532.7 321.4l1 .2 1 1.5 1 4.8-.3 6-.7 2.8-1 1.5-1-.1-1-1.6-1-3.3-.4-3.3 .4-5.7 1-2.1 1-.7zM520.7 328.6l.3 4.3-.3 3.3-1-1.3 1-6.3zM480.7 338.2l1 1.1-.1 2.6-.9 .8-.5-.8-.2-2 .7-1.7z"/>
<path fill="#2171d6" d="M502.7 212.6l1 1.3 .2 1.1 .4 9-.5 16-.1 1.6-1 1.9-1-7.8-.2-8.7 .3-9 .9-5.4zM521.7 260.8l1.3 3.2 2.4 18.9-.3 15-.6 4-1.1 3-.7 .6-1-.8-.9-2.8-1-11 .6-15.9-.3-9 .6-4 1-1.2zM556.6 292.9l1 1.3 .5 1.7 .6 6-.6 7-.5 2-1 1.4-1-.7-.8-2.7-.5-6 .6-7 .7-2.3 1-.7zM531.7 322.8l1-.7 1 .2 1 1.5 .6 3.1 0 6-.6 3-1 1.6-1-.1-1-1.6-1-4-.1-5.9 1.1-3.1zM480.7 338.4l1.1 1.5-.4 2-.7 .6-.5-1.6 .5-2.5z"/>
<path fill="#1c4f8f" d="M502.7 213.1l1.1 1.9 .4 8-.5 17-1 2.3-1-8.7-.1-6.6 .3-9 .8-4.9zM521.7 261.2l1.2 2.8 2.4 18.9-.3 14-1.5 7-.8 .8-1.3-1.8-.9-4-.5-7-.1-8 .7-8-.4-9.9 .5-3.5 1-1.3zM556.6 293.3l1 1.4 .5 2.2 .4 7-.9 6.5-1 1.4-1-.7-1-4.2-.1-7 .9-5 1.2-1.6zM532.7 322.8l1 .2 1 1.8 .5 3.1-.3 6-1.2 2.9-1-.1-1-1.8-1-5 .5-5 .5-1.2 1-.9zM480.7 338.6l.9 1.3 .1 1-1 1.4-.3-1.4 .3-2.3z"/>
<path fill="#17186e" d="M502.7 213.7l1 1.4 .4 7.9-.4 15.7-1 2.2-1-13.9 .3-9 .7-4.3zM521.7 261.6l1.3 3.4 .4 7 1.5 7.9 .3 6-.5 12.9-1 4.1-1 1.1-1-1-1-4.1-.6-9 .7-14-.5-9.9 .4-3 1-1.4zM556.6 293.8l1.2 2.1 .6 7-.8 6.9-1 1.5-.5-.4-.7-1-.8-3.9-.1-5.1 1-6 1.1-1.1zM532.7 323.8l1 .1 1 2.1 .2 1.9-.1 5-1.1 3.1-1-.2-.5-.9-.9-4 .1-5 .3-1.1 1-1zM480.7 338.8l.5 2.1-.5 1.2 0-3.3z"/>
<path fill="#17186e" d="M502.7 214.2l1 1.5 .4 6.3-.4 14.7-.9 2.3-.9-13 .8-11.8zM521.7 261.9l1.2 3.1 .4 8 1.4 6.5 .4 6.4-.4 11.5-1 4.6-1 1.1-1-1-.7-3.2-.7-9 .1-8 .7-6-.8-8.9 .4-3.5 1-1.6zM556.6 294.3l1 1.6 .4 2 .2 7-.6 4.3-1 1.6-1-.8-.9-5.1-.1-4 1-5.7 1-.9zM533.7 325.6l1 2.5 0 1.8 0 2.1-1 3-1-.5-.6-3.6 1.1-5 .5-.3zM480.7 340.1l0 1.1 0-1.1z"/>
<path fill="#fff" d="M434.8 341.6L562.6 341.6L563.6 350.9L434.8 350.9Z"/>
<rect x="111.9" y="16.3" width="134.8" height="151.9" fill="none" stroke="#8a8a8a" stroke-width="1.1"/>
<line x1="109.5" y1="16.3" x2="111.9" y2="16.3" stroke="#555" stroke-width="0.9"/>
<line x1="109.5" y1="54.3" x2="111.9" y2="54.3" stroke="#555" stroke-width="0.9"/>
<line x1="109.5" y1="92.2" x2="111.9" y2="92.2" stroke="#555" stroke-width="0.9"/>
<line x1="109.5" y1="130.2" x2="111.9" y2="130.2" stroke="#555" stroke-width="0.9"/>
<line x1="109.5" y1="168.2" x2="111.9" y2="168.2" stroke="#555" stroke-width="0.9"/>
<line x1="111.9" y1="168.2" x2="111.9" y2="170.6" stroke="#555" stroke-width="0.9"/>
<line x1="150.4" y1="168.2" x2="150.4" y2="170.6" stroke="#555" stroke-width="0.9"/>
<line x1="188.9" y1="168.2" x2="188.9" y2="170.6" stroke="#555" stroke-width="0.9"/>
<rect x="273.3" y="16.3" width="134.8" height="151.9" fill="none" stroke="#8a8a8a" stroke-width="1.1"/>
<line x1="270.9" y1="16.3" x2="273.3" y2="16.3" stroke="#555" stroke-width="0.9"/>
<line x1="270.9" y1="54.3" x2="273.3" y2="54.3" stroke="#555" stroke-width="0.9"/>
<line x1="270.9" y1="92.2" x2="273.3" y2="92.2" stroke="#555" stroke-width="0.9"/>
<line x1="270.9" y1="130.2" x2="273.3" y2="130.2" stroke="#555" stroke-width="0.9"/>
<line x1="270.9" y1="168.2" x2="273.3" y2="168.2" stroke="#555" stroke-width="0.9"/>
<line x1="273.3" y1="168.2" x2="273.3" y2="170.6" stroke="#555" stroke-width="0.9"/>
<line x1="311.8" y1="168.2" x2="311.8" y2="170.6" stroke="#555" stroke-width="0.9"/>
<line x1="350.3" y1="168.2" x2="350.3" y2="170.6" stroke="#555" stroke-width="0.9"/>
<rect x="434.8" y="16.3" width="134.8" height="151.9" fill="none" stroke="#8a8a8a" stroke-width="1.1"/>
<line x1="432.4" y1="16.3" x2="434.8" y2="16.3" stroke="#555" stroke-width="0.9"/>
<line x1="432.4" y1="54.3" x2="434.8" y2="54.3" stroke="#555" stroke-width="0.9"/>
<line x1="432.4" y1="92.2" x2="434.8" y2="92.2" stroke="#555" stroke-width="0.9"/>
<line x1="432.4" y1="130.2" x2="434.8" y2="130.2" stroke="#555" stroke-width="0.9"/>
<line x1="432.4" y1="168.2" x2="434.8" y2="168.2" stroke="#555" stroke-width="0.9"/>
<line x1="434.8" y1="168.2" x2="434.8" y2="170.6" stroke="#555" stroke-width="0.9"/>
<line x1="473.3" y1="168.2" x2="473.3" y2="170.6" stroke="#555" stroke-width="0.9"/>
<line x1="511.8" y1="168.2" x2="511.8" y2="170.6" stroke="#555" stroke-width="0.9"/>
<rect x="111.9" y="199.0" width="134.8" height="151.9" fill="none" stroke="#8a8a8a" stroke-width="1.1"/>
<line x1="109.5" y1="199.0" x2="111.9" y2="199.0" stroke="#555" stroke-width="0.9"/>
<line x1="109.5" y1="237.0" x2="111.9" y2="237.0" stroke="#555" stroke-width="0.9"/>
<line x1="109.5" y1="274.9" x2="111.9" y2="274.9" stroke="#555" stroke-width="0.9"/>
<line x1="109.5" y1="312.9" x2="111.9" y2="312.9" stroke="#555" stroke-width="0.9"/>
<line x1="109.5" y1="350.9" x2="111.9" y2="350.9" stroke="#555" stroke-width="0.9"/>
<line x1="111.9" y1="350.9" x2="111.9" y2="353.3" stroke="#555" stroke-width="0.9"/>
<line x1="150.4" y1="350.9" x2="150.4" y2="353.3" stroke="#555" stroke-width="0.9"/>
<line x1="188.9" y1="350.9" x2="188.9" y2="353.3" stroke="#555" stroke-width="0.9"/>
<rect x="273.3" y="199.0" width="134.8" height="151.9" fill="none" stroke="#8a8a8a" stroke-width="1.1"/>
<line x1="270.9" y1="199.0" x2="273.3" y2="199.0" stroke="#555" stroke-width="0.9"/>
<line x1="270.9" y1="237.0" x2="273.3" y2="237.0" stroke="#555" stroke-width="0.9"/>
<line x1="270.9" y1="274.9" x2="273.3" y2="274.9" stroke="#555" stroke-width="0.9"/>
<line x1="270.9" y1="312.9" x2="273.3" y2="312.9" stroke="#555" stroke-width="0.9"/>
<line x1="270.9" y1="350.9" x2="273.3" y2="350.9" stroke="#555" stroke-width="0.9"/>
<line x1="273.3" y1="350.9" x2="273.3" y2="353.3" stroke="#555" stroke-width="0.9"/>
<line x1="311.8" y1="350.9" x2="311.8" y2="353.3" stroke="#555" stroke-width="0.9"/>
<line x1="350.3" y1="350.9" x2="350.3" y2="353.3" stroke="#555" stroke-width="0.9"/>
<rect x="434.8" y="199.0" width="134.8" height="151.9" fill="none" stroke="#8a8a8a" stroke-width="1.1"/>
<line x1="432.4" y1="199.0" x2="434.8" y2="199.0" stroke="#555" stroke-width="0.9"/>
<line x1="432.4" y1="237.0" x2="434.8" y2="237.0" stroke="#555" stroke-width="0.9"/>
<line x1="432.4" y1="274.9" x2="434.8" y2="274.9" stroke="#555" stroke-width="0.9"/>
<line x1="432.4" y1="312.9" x2="434.8" y2="312.9" stroke="#555" stroke-width="0.9"/>
<line x1="432.4" y1="350.9" x2="434.8" y2="350.9" stroke="#555" stroke-width="0.9"/>
<line x1="434.8" y1="350.9" x2="434.8" y2="353.3" stroke="#555" stroke-width="0.9"/>
<line x1="473.3" y1="350.9" x2="473.3" y2="353.3" stroke="#555" stroke-width="0.9"/>
<line x1="511.8" y1="350.9" x2="511.8" y2="353.3" stroke="#555" stroke-width="0.9"/>
<rect x="29.10" y="139.43" width="6.50" height="5.34" fill="#00009b"/>
<rect x="29.10" y="134.39" width="6.50" height="5.34" fill="#0000d6"/>
<rect x="29.10" y="129.34" width="6.50" height="5.34" fill="#0000ff"/>
<rect x="29.10" y="124.30" width="6.50" height="5.34" fill="#0030ff"/>
<rect x="29.10" y="119.26" width="6.50" height="5.34" fill="#0064ff"/>
<rect x="29.10" y="114.21" width="6.50" height="5.34" fill="#0098ff"/>
<rect x="29.10" y="109.17" width="6.50" height="5.34" fill="#00ccff"/>
<rect x="29.10" y="104.12" width="6.50" height="5.34" fill="#16ffe1"/>
<rect x="29.10" y="99.08" width="6.50" height="5.34" fill="#3cffba"/>
<rect x="29.10" y="94.04" width="6.50" height="5.34" fill="#66ff90"/>
<rect x="29.10" y="88.99" width="6.50" height="5.34" fill="#90ff66"/>
<rect x="29.10" y="83.95" width="6.50" height="5.34" fill="#baff3c"/>
<rect x="29.10" y="78.91" width="6.50" height="5.34" fill="#e4ff13"/>
<rect x="29.10" y="73.86" width="6.50" height="5.34" fill="#ffde00"/>
<rect x="29.10" y="68.82" width="6.50" height="5.34" fill="#ffae00"/>
<rect x="29.10" y="63.77" width="6.50" height="5.34" fill="#ff7e00"/>
<rect x="29.10" y="58.73" width="6.50" height="5.34" fill="#ff4e00"/>
<rect x="29.10" y="53.69" width="6.50" height="5.34" fill="#ff1e00"/>
<rect x="29.10" y="48.64" width="6.50" height="5.34" fill="#d60000"/>
<rect x="29.10" y="43.60" width="6.50" height="5.34" fill="#9b0000"/>
<path fill="#800000" d="M29.10 43.80L32.35 38.50L35.60 43.80Z"/>
<path fill="#000080" d="M29.10 144.28L32.35 149.40L35.60 144.28Z"/>
<path fill="none" stroke="#666" stroke-width="0.6" d="M29.10 43.60L32.35 38.50L35.60 43.60L35.60 144.47L32.35 149.40L29.10 144.47Z"/>
<line x1="27.3" y1="43.60" x2="29.1" y2="43.60" stroke="#555" stroke-width="0.9"/>
<line x1="27.3" y1="63.78" x2="29.1" y2="63.78" stroke="#555" stroke-width="0.9"/>
<line x1="27.3" y1="83.95" x2="29.1" y2="83.95" stroke="#555" stroke-width="0.9"/>
<line x1="27.3" y1="104.12" x2="29.1" y2="104.12" stroke="#555" stroke-width="0.9"/>
<line x1="27.3" y1="124.30" x2="29.1" y2="124.30" stroke="#555" stroke-width="0.9"/>
<rect x="172.30" y="384.40" width="22.52" height="8.40" fill="#17186e"/>
<rect x="194.52" y="384.40" width="11.41" height="8.40" fill="#1c4f8f"/>
<rect x="205.63" y="384.40" width="22.52" height="8.40" fill="#2171d6"/>
<rect x="227.85" y="384.40" width="11.41" height="8.40" fill="#4a72ee"/>
<rect x="238.96" y="384.40" width="22.52" height="8.40" fill="#5aa7e6"/>
<rect x="261.18" y="384.40" width="11.41" height="8.40" fill="#a8d3e6"/>
<rect x="272.29" y="384.40" width="22.52" height="8.40" fill="#c9ebe3"/>
<rect x="294.51" y="384.40" width="11.41" height="8.40" fill="#dfe6f7"/>
<rect x="305.62" y="384.40" width="22.52" height="8.40" fill="#edfbfb"/>
<rect x="327.84" y="384.40" width="11.41" height="8.40" fill="#ffffff"/>
<rect x="338.96" y="384.40" width="22.52" height="8.40" fill="#fdeee2"/>
<rect x="361.18" y="384.40" width="11.41" height="8.40" fill="#fddcaa"/>
<rect x="372.29" y="384.40" width="22.52" height="8.40" fill="#f3a466"/>
<rect x="394.51" y="384.40" width="11.41" height="8.40" fill="#f07414"/>
<rect x="405.62" y="384.40" width="22.52" height="8.40" fill="#d06a28"/>
<rect x="427.84" y="384.40" width="11.41" height="8.40" fill="#e04424"/>
<rect x="438.95" y="384.40" width="22.52" height="8.40" fill="#f00c0c"/>
<rect x="461.17" y="384.40" width="11.41" height="8.40" fill="#cc0c0c"/>
<rect x="472.28" y="384.40" width="22.22" height="8.40" fill="#8b0000"/>
<path fill="#17186e" d="M172.50 384.40L156.60 388.60L172.50 392.80Z"/>
<path fill="#8b0000" d="M494.30 384.40L510.20 388.60L494.30 392.80Z"/>
<path fill="none" stroke="#666" stroke-width="0.6" d="M172.30 384.40L494.50 384.40L510.20 388.60L494.50 392.80L172.30 392.80L156.60 388.60Z"/>
<line x1="172.30" y1="392.8" x2="172.30" y2="394.6" stroke="#555" stroke-width="0.9"/>
<line x1="252.85" y1="392.8" x2="252.85" y2="394.6" stroke="#555" stroke-width="0.9"/>
<line x1="333.40" y1="392.8" x2="333.40" y2="394.6" stroke="#555" stroke-width="0.9"/>
<line x1="413.95" y1="392.8" x2="413.95" y2="394.6" stroke="#555" stroke-width="0.9"/>
<line x1="494.50" y1="392.8" x2="494.50" y2="394.6" stroke="#555" stroke-width="0.9"/>
<text x="179.30" y="13.00" font-size="15.6" text-anchor="middle" textLength="57.99" lengthAdjust="spacingAndGlyphs">Control</text>
<text x="340.70" y="13.00" font-size="15.6" text-anchor="middle" textLength="135.90" lengthAdjust="spacingAndGlyphs">GF 10% - Control</text>
<text x="502.20" y="13.00" font-size="15.6" text-anchor="middle" textLength="135.90" lengthAdjust="spacingAndGlyphs">GF 25% - Control</text>
<text x="179.30" y="195.70" font-size="15.6" text-anchor="middle" textLength="135.90" lengthAdjust="spacingAndGlyphs">GF 50% - Control</text>
<text x="340.70" y="195.70" font-size="15.6" text-anchor="middle" textLength="135.90" lengthAdjust="spacingAndGlyphs">GF 75% - Control</text>
<text x="502.20" y="195.70" font-size="15.6" text-anchor="middle" textLength="146.04" lengthAdjust="spacingAndGlyphs">GF 100% - Control</text>
<text x="109.00" y="21.60" font-size="14" text-anchor="end" textLength="26.71" lengthAdjust="spacingAndGlyphs">200</text>
<text x="109.00" y="59.58" font-size="14" text-anchor="end" textLength="26.71" lengthAdjust="spacingAndGlyphs">400</text>
<text x="109.00" y="97.55" font-size="14" text-anchor="end" textLength="26.71" lengthAdjust="spacingAndGlyphs">600</text>
<text x="109.00" y="135.53" font-size="14" text-anchor="end" textLength="26.71" lengthAdjust="spacingAndGlyphs">800</text>
<text x="109.00" y="173.50" font-size="14" text-anchor="end" textLength="35.62" lengthAdjust="spacingAndGlyphs">1000</text>
<text x="68.70" y="92.25" font-size="13" text-anchor="middle" textLength="96.13" lengthAdjust="spacingAndGlyphs" transform="rotate(-90 68.7 92.25)">Pressure (hPa)</text>
<text x="109.00" y="204.30" font-size="14" text-anchor="end" textLength="26.71" lengthAdjust="spacingAndGlyphs">200</text>
<text x="109.00" y="242.28" font-size="14" text-anchor="end" textLength="26.71" lengthAdjust="spacingAndGlyphs">400</text>
<text x="109.00" y="280.25" font-size="14" text-anchor="end" textLength="26.71" lengthAdjust="spacingAndGlyphs">600</text>
<text x="109.00" y="318.23" font-size="14" text-anchor="end" textLength="26.71" lengthAdjust="spacingAndGlyphs">800</text>
<text x="109.00" y="356.20" font-size="14" text-anchor="end" textLength="35.62" lengthAdjust="spacingAndGlyphs">1000</text>
<text x="68.70" y="274.95" font-size="13" text-anchor="middle" textLength="96.13" lengthAdjust="spacingAndGlyphs" transform="rotate(-90 68.7 274.95)">Pressure (hPa)</text>
<text x="111.90" y="364.60" font-size="14" text-anchor="middle" textLength="8.90" lengthAdjust="spacingAndGlyphs">0</text>
<text x="150.41" y="364.60" font-size="14" text-anchor="middle" textLength="17.81" lengthAdjust="spacingAndGlyphs">24</text>
<text x="188.93" y="364.60" font-size="14" text-anchor="middle" textLength="17.81" lengthAdjust="spacingAndGlyphs">48</text>
<text x="179.30" y="379.60" font-size="13" text-anchor="middle" textLength="38.09" lengthAdjust="spacingAndGlyphs">Hours</text>
<text x="273.30" y="364.60" font-size="14" text-anchor="middle" textLength="8.90" lengthAdjust="spacingAndGlyphs">0</text>
<text x="311.81" y="364.60" font-size="14" text-anchor="middle" textLength="17.81" lengthAdjust="spacingAndGlyphs">24</text>
<text x="350.33" y="364.60" font-size="14" text-anchor="middle" textLength="17.81" lengthAdjust="spacingAndGlyphs">48</text>
<text x="340.70" y="379.60" font-size="13" text-anchor="middle" textLength="38.09" lengthAdjust="spacingAndGlyphs">Hours</text>
<text x="434.80" y="364.60" font-size="14" text-anchor="middle" textLength="8.90" lengthAdjust="spacingAndGlyphs">0</text>
<text x="473.31" y="364.60" font-size="14" text-anchor="middle" textLength="17.81" lengthAdjust="spacingAndGlyphs">24</text>
<text x="511.83" y="364.60" font-size="14" text-anchor="middle" textLength="17.81" lengthAdjust="spacingAndGlyphs">48</text>
<text x="502.20" y="379.60" font-size="13" text-anchor="middle" textLength="38.09" lengthAdjust="spacingAndGlyphs">Hours</text>
<text x="25.10" y="48.90" font-size="14" text-anchor="end" textLength="24.71" lengthAdjust="spacingAndGlyphs">360</text>
<text x="25.10" y="69.08" font-size="14" text-anchor="end" textLength="24.71" lengthAdjust="spacingAndGlyphs">355</text>
<text x="25.10" y="89.25" font-size="14" text-anchor="end" textLength="24.71" lengthAdjust="spacingAndGlyphs">350</text>
<text x="25.10" y="109.42" font-size="14" text-anchor="end" textLength="24.71" lengthAdjust="spacingAndGlyphs">345</text>
<text x="25.10" y="129.60" font-size="14" text-anchor="end" textLength="24.71" lengthAdjust="spacingAndGlyphs">340</text>
<text x="46.70" y="94.40" font-size="13" text-anchor="middle" textLength="75.46" lengthAdjust="spacingAndGlyphs" transform="rotate(-90 46.7 94.4)">Theta-E (K)</text>
<text x="172.30" y="407.30" font-size="14" text-anchor="middle" textLength="33.99" lengthAdjust="spacingAndGlyphs">−3.0</text>
<text x="252.85" y="407.30" font-size="14" text-anchor="middle" textLength="33.99" lengthAdjust="spacingAndGlyphs">−1.5</text>
<text x="333.40" y="407.30" font-size="14" text-anchor="middle" textLength="22.26" lengthAdjust="spacingAndGlyphs">0.0</text>
<text x="413.95" y="407.30" font-size="14" text-anchor="middle" textLength="22.26" lengthAdjust="spacingAndGlyphs">1.5</text>
<text x="494.50" y="407.30" font-size="14" text-anchor="middle" textLength="22.26" lengthAdjust="spacingAndGlyphs">3.0</text>
<text x="333.40" y="421.70" font-size="13" text-anchor="middle" textLength="146.59" lengthAdjust="spacingAndGlyphs">Difference Theta-E (K)</text>
</svg>
</body></html>
